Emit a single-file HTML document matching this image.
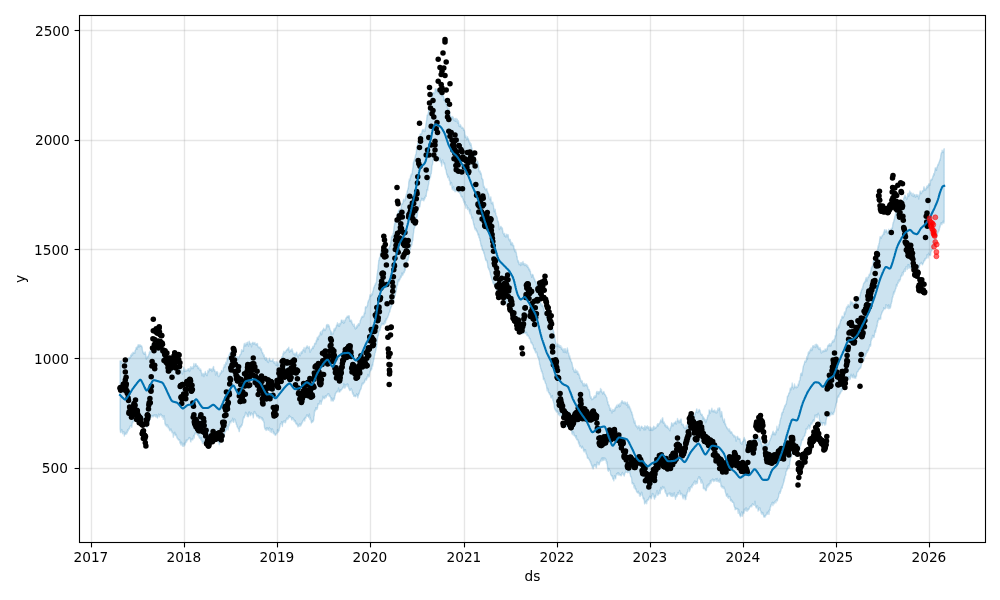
<!DOCTYPE html>
<html lang="en"><head><meta charset="utf-8"><title>Forecast</title>
<style>
html,body{margin:0;padding:0;background:#fff}
svg{display:block}
text{font-family:"DejaVu Sans","Liberation Sans",sans-serif;font-size:13.7px;fill:#000}
</style></head><body>
<svg width="1000" height="600" viewBox="0 0 1000 600">
<rect width="1000" height="600" fill="#fff"/>
<g stroke="#808080" stroke-opacity="0.2" stroke-width="1.39" fill="none"><path d="M91.5 15.5V542.5"/><path d="M184.5 15.5V542.5"/><path d="M277.5 15.5V542.5"/><path d="M370.5 15.5V542.5"/><path d="M464.5 15.5V542.5"/><path d="M557.5 15.5V542.5"/><path d="M650.5 15.5V542.5"/><path d="M743.5 15.5V542.5"/><path d="M836.5 15.5V542.5"/><path d="M929.5 15.5V542.5"/><path d="M79.5 468.5H985.5"/><path d="M79.5 358.5H985.5"/><path d="M79.5 249.5H985.5"/><path d="M79.5 140.5H985.5"/><path d="M79.5 30.5H985.5"/></g>
<path d="M120,360.9 120.3,361.2 120.5,361.3 120.8,360.9 121,360.8 121.3,360.6 121.5,361.4 121.8,363.4 122,362.7 122.3,362.3 122.5,363.2 122.8,364.2 123.1,364 123.3,362.9 123.6,363.3 123.8,364.8 124.1,363 124.3,363.5 124.6,362.4 124.8,362.4 125.1,361 125.4,362.4 125.6,361.9 125.9,363.3 126.1,363.5 126.4,363.3 126.6,360.8 126.9,360.8 127.1,361 127.4,361.1 127.6,359.1 127.9,359.4 128.2,358.3 128.4,357.9 128.7,359.6 128.9,358.2 129.2,357.6 129.4,358.5 129.7,357.4 129.9,357.2 130.2,357.3 130.5,357.7 130.7,355.1 131,355 131.2,356.3 131.5,354 131.7,355 132,354.6 132.2,353.3 132.5,355.1 132.7,354.7 133,352.3 133.3,352.6 133.5,353.1 133.8,352.8 134,353 134.3,352.3 134.5,352.7 134.8,353.4 135,350.8 135.3,350.5 135.6,349.7 135.8,349.4 136.1,347.7 136.3,347.4 136.6,347.4 136.8,347.6 137.1,349.3 137.3,346.9 137.6,345.9 137.8,347.1 138.1,344.7 138.4,344.7 138.6,345.3 138.9,346.7 139.1,346.9 139.4,346.1 139.6,345 139.9,344.7 140.1,346.2 140.4,345.8 140.6,345.1 140.9,345.7 141.2,346.2 141.4,346.6 141.7,345.8 141.9,346.8 142.2,347.4 142.4,350 142.7,351.2 142.9,351.4 143.2,353 143.5,352.3 143.7,353.6 144,353.6 144.2,354.3 144.5,352.8 144.7,354.2 145,352.2 145.2,351.9 145.5,353.9 145.7,354 146,355.9 146.3,359.2 146.5,358 146.8,356.8 147,357.4 147.3,357.8 147.5,357 147.8,356.1 148,357 148.3,356.6 148.6,354.8 148.8,354.4 149.1,354.1 149.3,352.3 149.6,352.7 149.8,351.2 150.1,352.7 150.3,352.3 150.6,351.7 150.8,350.6 151.1,350.4 151.4,347.6 151.6,346.5 151.9,346.6 152.1,344.8 152.4,345.9 152.6,343.8 152.9,344.6 153.1,344 153.4,344.9 153.6,345 153.9,343 154.2,344.8 154.4,346 154.7,345.6 154.9,344.8 155.2,344.7 155.4,343.3 155.7,345.1 155.9,343.9 156.2,344.4 156.5,344 156.7,343.9 157,343.1 157.2,345.2 157.5,344.7 157.7,346.8 158,346.1 158.2,345.3 158.5,344.8 158.7,344.9 159,346.2 159.3,345.9 159.5,345.6 159.8,345 160,344.7 160.3,347.4 160.5,347.1 160.8,346.7 161,347.3 161.3,348.7 161.6,346.7 161.8,347.4 162.1,347.1 162.3,345.3 162.6,347.6 162.8,347.6 163.1,348.4 163.3,348 163.6,349.3 163.8,349.3 164.1,349.9 164.4,350 164.6,349.5 164.9,352.1 165.1,352.6 165.4,353.1 165.6,353.8 165.9,353.8 166.1,353.8 166.4,355.6 166.7,355.8 166.9,356.1 167.2,356.3 167.4,358.5 167.7,359.5 167.9,359.6 168.2,358.6 168.4,358 168.7,360.8 168.9,361.9 169.2,362 169.5,362.8 169.7,364.1 170,365.2 170.2,366.6 170.5,365.7 170.7,367.1 171,365.8 171.2,367.7 171.5,368 171.7,368.9 172,370.6 172.3,370.8 172.5,368.4 172.8,366.6 173,368.5 173.3,367.1 173.5,368 173.8,369 174,367.4 174.3,365.9 174.6,367.4 174.8,367.6 175.1,367.2 175.3,367.4 175.6,366.1 175.8,365 176.1,365.6 176.3,365.3 176.6,364.1 176.8,365.4 177.1,366.1 177.4,367 177.6,366.1 177.9,366 178.1,365.4 178.4,365.9 178.6,367.8 178.9,367.5 179.1,368.8 179.4,369.9 179.7,372.7 179.9,370.2 180.2,371.1 180.4,370.8 180.7,370.7 180.9,369 181.2,369.6 181.4,371.9 181.7,372.2 181.9,372.9 182.2,372.4 182.5,374.1 182.7,373.1 183,370.2 183.2,370.9 183.5,369.3 183.7,367.2 184,368.5 184.2,370.9 184.5,371.4 184.8,370.2 185,369.3 185.3,371.3 185.5,371.3 185.8,370.9 186,370.2 186.3,369.9 186.5,370.7 186.8,371 187,370.9 187.3,370 187.6,370.3 187.8,368.9 188.1,370.5 188.3,368.8 188.6,369 188.8,369.1 189.1,368.4 189.3,371.1 189.6,371.6 189.8,369.6 190.1,370 190.4,370 190.6,366.8 190.9,367.9 191.1,367.9 191.4,368.7 191.6,367.5 191.9,367.3 192.1,366.9 192.4,368.6 192.7,368.6 192.9,368.1 193.2,368.6 193.4,366.5 193.7,365.6 193.9,363.4 194.2,366.2 194.4,366.6 194.7,366.5 194.9,366 195.2,364.9 195.5,364.5 195.7,363.7 196,363.7 196.2,364.6 196.5,366.4 196.7,366.4 197,366.1 197.2,365.7 197.5,365.7 197.8,368 198,368.5 198.3,368.2 198.5,368 198.8,367.1 199,368 199.3,369.4 199.5,369.5 199.8,370.4 200,370.2 200.3,370.6 200.6,368.9 200.8,370.1 201.1,370.1 201.3,372.7 201.6,372.4 201.8,373.2 202.1,375.9 202.3,374.9 202.6,373.8 202.8,374.1 203.1,374.3 203.4,373.4 203.6,374.4 203.9,376.6 204.1,374.9 204.4,374.4 204.6,373.2 204.9,373.9 205.1,372.5 205.4,371.5 205.7,374.1 205.9,373.1 206.2,373.6 206.4,375.2 206.7,375 206.9,374.7 207.2,375.7 207.4,374.1 207.7,372.8 207.9,370.4 208.2,370.9 208.5,371.5 208.7,371.8 209,370.3 209.2,369.2 209.5,368.7 209.7,369 210,369 210.2,369.5 210.5,370.3 210.8,369.1 211,368.8 211.3,369.2 211.5,369.2 211.8,369.7 212,371.6 212.3,370.8 212.5,370.5 212.8,368 213,368.9 213.3,366.9 213.6,366.6 213.8,368.9 214.1,370.2 214.3,371 214.6,369.7 214.8,370.8 215.1,371.2 215.3,371.8 215.6,375.1 215.9,374.5 216.1,373.5 216.4,371.8 216.6,371.9 216.9,371.9 217.1,371.6 217.4,373.3 217.6,372.2 217.9,374.2 218.1,376 218.4,376.5 218.7,376.3 218.9,376.5 219.2,375.8 219.4,375.3 219.7,375.4 219.9,373.4 220.2,372.8 220.4,373.9 220.7,373.6 220.9,373.3 221.2,373.3 221.5,370.4 221.7,370.5 222,371.1 222.2,371.8 222.5,370.9 222.7,371.6 223,371.2 223.2,369 223.5,367.3 223.8,367.8 224,367.2 224.3,364.7 224.5,365.9 224.8,366.8 225,367 225.3,365.1 225.5,364.4 225.8,362.1 226,364.3 226.3,362.7 226.6,363.6 226.8,361.7 227.1,360.5 227.3,358 227.6,358.4 227.8,359.6 228.1,357.5 228.3,358 228.6,357.1 228.9,355.1 229.1,354.8 229.4,354.2 229.6,353.9 229.9,353.7 230.1,352.6 230.4,353.5 230.6,352.4 230.9,351.6 231.1,352 231.4,353.2 231.7,351.5 231.9,351.4 232.2,350.9 232.4,350.4 232.7,352.7 232.9,352 233.2,354.3 233.4,353.4 233.7,354.1 233.9,354 234.2,353.4 234.5,354.7 234.7,354.9 235,356.5 235.2,356.4 235.5,355.5 235.7,356.1 236,357.6 236.2,358.7 236.5,358.4 236.8,358.4 237,356.9 237.3,359.1 237.5,357.9 237.8,356.8 238,357.9 238.3,359.7 238.5,358.4 238.8,357.8 239,357 239.3,356.1 239.6,356.4 239.8,355.1 240.1,354.4 240.3,354.8 240.6,354.2 240.8,354.2 241.1,353.1 241.3,351.7 241.6,349.7 241.9,351.8 242.1,351.4 242.4,350.8 242.6,350.5 242.9,350.2 243.1,349.9 243.4,351.2 243.6,347.6 243.9,345.6 244.1,344.4 244.4,343.4 244.7,345.6 244.9,346 245.2,344.8 245.4,343.9 245.7,344.2 245.9,346.1 246.2,342.8 246.4,344.3 246.7,343.5 247,344.4 247.2,343.7 247.5,343.6 247.7,342.1 248,342.3 248.2,345.5 248.5,346.2 248.7,344.8 249,343.4 249.2,341.3 249.5,342.2 249.8,343.1 250,344.1 250.3,344.1 250.5,343.4 250.8,343.7 251,343.8 251.3,345.6 251.5,346.9 251.8,345.2 252,343.1 252.3,343.4 252.6,342.7 252.8,342.3 253.1,342.9 253.3,342.6 253.6,344.1 253.8,343.8 254.1,344.1 254.3,343.6 254.6,343 254.9,342.4 255.1,343.9 255.4,344 255.6,344.4 255.9,344.9 256.1,343.8 256.4,344.8 256.6,344 256.9,344.3 257.1,345.2 257.4,343.4 257.7,345.4 257.9,346.2 258.2,346.6 258.4,347.5 258.7,347.7 258.9,347.3 259.2,347.3 259.4,347.4 259.7,348.1 260,347 260.2,348.1 260.5,348.8 260.7,349.2 261,348.9 261.2,350.3 261.5,348.8 261.7,350.4 262,351.9 262.2,352.5 262.5,353.1 262.8,352.6 263,353.5 263.3,354.8 263.5,355.7 263.8,356.4 264,354.7 264.3,356 264.5,357.9 264.8,358.9 265.1,359.2 265.3,357.8 265.6,360.3 265.8,360.3 266.1,357.5 266.3,359.3 266.6,358.8 266.8,358.5 267.1,359.6 267.3,361.7 267.6,360.6 267.9,360.5 268.1,362.1 268.4,362.6 268.6,361.4 268.9,360.6 269.1,358.9 269.4,358.2 269.6,359.5 269.9,359.6 270.1,360.1 270.4,361.2 270.7,360.4 270.9,360.5 271.2,360.9 271.4,360.7 271.7,361.3 271.9,361.2 272.2,360.4 272.4,361 272.7,360.2 273,359.1 273.2,361.3 273.5,361.9 273.7,362.9 274,361.6 274.2,362.6 274.5,363.1 274.7,363.2 275,361.8 275.2,363 275.5,364.7 275.8,365.1 276,364.4 276.3,364.6 276.5,365.3 276.8,361.5 277,362 277.3,362.7 277.5,363.7 277.8,365.7 278.1,365.5 278.3,364.7 278.6,363.8 278.8,363.8 279.1,362.1 279.3,361.4 279.6,361.8 279.8,362.4 280.1,361 280.3,359.8 280.6,360 280.9,360.9 281.1,359.9 281.4,360.1 281.6,357.7 281.9,356.9 282.1,356.5 282.4,356.6 282.6,357.3 282.9,354.2 283.1,353.1 283.4,354.2 283.7,353.3 283.9,351.3 284.2,352.6 284.4,353 284.7,352.5 284.9,351.9 285.2,352.6 285.4,351.7 285.7,352.1 286,350.6 286.2,350.2 286.5,350.4 286.7,349.8 287,349.8 287.2,349.9 287.5,348.7 287.7,348.8 288,348.7 288.2,349.8 288.5,348.1 288.8,347.2 289,349.1 289.3,351.3 289.5,352.4 289.8,350.5 290,350.4 290.3,351.5 290.5,350.4 290.8,349.9 291.1,350.4 291.3,351 291.6,350.6 291.8,349 292.1,348.8 292.3,350.9 292.6,350.5 292.8,351.5 293.1,352.5 293.3,353.9 293.6,353.7 293.9,354.6 294.1,354.2 294.4,354 294.6,353.1 294.9,355.5 295.1,356 295.4,354.4 295.6,353.7 295.9,353.4 296.2,354.8 296.4,352.4 296.7,352.2 296.9,352.6 297.2,355.7 297.4,356.1 297.7,355 297.9,355 298.2,357.2 298.4,355.9 298.7,354.5 299,355.1 299.2,354.6 299.5,354.9 299.7,353.3 300,355.3 300.2,355.8 300.5,354.8 300.7,354.6 301,352 301.2,352.4 301.5,351.6 301.8,352.7 302,353.3 302.3,352.4 302.5,350.3 302.8,351.4 303,350.4 303.3,349.9 303.5,349.3 303.8,349.4 304.1,347.5 304.3,350.1 304.6,350.2 304.8,350.7 305.1,352.2 305.3,351.1 305.6,348.4 305.8,347.7 306.1,347.3 306.3,347 306.6,348 306.9,346 307.1,347.1 307.4,345.9 307.6,347.2 307.9,347.7 308.1,347.3 308.4,348 308.6,348.1 308.9,347.6 309.2,346.4 309.4,347.4 309.7,350.6 309.9,352.2 310.2,352.3 310.4,351.6 310.7,350 310.9,350.7 311.2,349.7 311.4,349.1 311.7,348.8 312,348.8 312.2,348.1 312.5,348 312.7,346.9 313,346.2 313.2,348.6 313.5,347.3 313.7,346 314,346.3 314.3,346.2 314.5,343.8 314.8,343.2 315,343.8 315.3,343.3 315.5,342.6 315.8,343.9 316,341.6 316.3,340.8 316.5,339.8 316.8,341.1 317.1,337.7 317.3,337.3 317.6,337.9 317.8,338.6 318.1,338.7 318.3,339.6 318.6,336.1 318.8,336.5 319.1,335.9 319.3,335 319.6,335.9 319.9,334.9 320.1,332.7 320.4,333.2 320.6,331.9 320.9,331.8 321.1,332.9 321.4,333.3 321.6,334.8 321.9,333.7 322.2,330.7 322.4,330.4 322.7,330.5 322.9,329.8 323.2,330.7 323.4,329.9 323.7,328.1 323.9,328.9 324.2,329.2 324.4,329.5 324.7,329.5 325,330.5 325.2,329.4 325.5,329.9 325.7,329.1 326,328.1 326.2,327.5 326.5,325.1 326.7,325 327,324.5 327.3,325.4 327.5,324.4 327.8,326.9 328,327 328.3,325.5 328.5,324.6 328.8,325.4 329,326 329.3,325.9 329.5,327.8 329.8,328.3 330.1,329.8 330.3,330.2 330.6,330.4 330.8,332 331.1,334.6 331.3,332.1 331.6,332.3 331.8,331.6 332.1,333.8 332.3,333.3 332.6,333.7 332.9,334.1 333.1,333 333.4,332.9 333.6,332.2 333.9,329.6 334.1,328.8 334.4,329.1 334.6,330.1 334.9,330.5 335.2,328 335.4,327.8 335.7,328.4 335.9,328 336.2,326.8 336.4,325.3 336.7,325.5 336.9,324.9 337.2,323.7 337.4,322.8 337.7,325.4 338,325 338.2,326.2 338.5,324.5 338.7,324.9 339,323.8 339.2,323.6 339.5,326.4 339.7,325.4 340,324.1 340.3,323.3 340.5,323.1 340.8,323.9 341,322.2 341.3,320.1 341.5,320 341.8,320.3 342,320.6 342.3,322.2 342.5,322.1 342.8,322.3 343.1,320.2 343.3,321.1 343.6,323.4 343.8,323.4 344.1,322.2 344.3,321.3 344.6,322.4 344.8,320.4 345.1,319.7 345.4,319.9 345.6,319.8 345.9,318 346.1,318.2 346.4,317.4 346.6,317.5 346.9,317.3 347.1,316.1 347.4,316.7 347.6,317.4 347.9,316.3 348.2,316 348.4,317.8 348.7,315.6 348.9,316.4 349.2,315.8 349.4,318 349.7,320.2 349.9,321.3 350.2,320.1 350.4,320.7 350.7,320.4 351,320.4 351.2,321.9 351.5,320.3 351.7,321.8 352,322.1 352.2,323.8 352.5,324.1 352.7,323.7 353,324.4 353.3,325.5 353.5,326.1 353.8,326.2 354,325.9 354.3,324.1 354.5,326.6 354.8,327.3 355,328.5 355.3,328.4 355.5,329.1 355.8,327.6 356.1,327.1 356.3,327 356.6,328.3 356.8,325.6 357.1,327.3 357.3,326.2 357.6,324.7 357.8,326.3 358.1,325.5 358.4,323.8 358.6,323.6 358.9,325 359.1,325.5 359.4,324.2 359.6,323.6 359.9,322.7 360.1,320.9 360.4,320.4 360.6,320.1 360.9,319 361.2,318.1 361.4,317.6 361.7,317.7 361.9,316.6 362.2,316.4 362.4,317.3 362.7,316.2 362.9,316.1 363.2,316.9 363.4,316.1 363.7,316.9 364,313.9 364.2,313.4 364.5,311.9 364.7,313.1 365,313.6 365.2,308.5 365.5,306.8 365.7,306.7 366,307.1 366.3,307.7 366.5,307.3 366.8,306.7 367,306.5 367.3,305.4 367.5,305.6 367.8,302.2 368,302.4 368.3,300.6 368.5,301.2 368.8,300 369.1,299.4 369.3,299.4 369.6,297.4 369.8,296.1 370.1,294.6 370.3,295.2 370.6,296.1 370.8,296.3 371.1,294.9 371.4,295.3 371.6,294.8 371.9,293.5 372.1,293.8 372.4,294.8 372.6,292.6 372.9,291.1 373.1,290.9 373.4,289.8 373.6,287.6 373.9,288.2 374.2,286.6 374.4,286.9 374.7,285.1 374.9,285.2 375.2,285.1 375.4,283.4 375.7,284.4 375.9,282.8 376.2,282.9 376.5,281.4 376.7,278 377,275.2 377.2,274.1 377.5,272.2 377.7,270.6 378,268.5 378.2,265.4 378.5,264.1 378.7,260.3 379,260.6 379.3,259 379.5,257.7 379.8,257.3 380,257.5 380.3,255.4 380.5,253.3 380.8,252.1 381,250.3 381.3,250 381.5,252.4 381.8,250.7 382.1,251.9 382.3,250.3 382.6,251 382.8,250.6 383.1,250.9 383.3,251.7 383.6,253.4 383.8,253.2 384.1,252.5 384.4,251.2 384.6,252 384.9,251.9 385.1,252.8 385.4,252.1 385.6,254 385.9,250.5 386.1,250.7 386.4,251.6 386.6,251 386.9,250 387.2,250 387.4,248.5 387.7,249.6 387.9,252.6 388.2,252.7 388.4,250.2 388.7,248.2 388.9,247.7 389.2,248.5 389.5,246.7 389.7,245.5 390,246.3 390.2,246.3 390.5,244.8 390.7,242.8 391,240.4 391.2,238.9 391.5,236.2 391.7,237.4 392,236 392.3,236.3 392.5,237.3 392.8,236.8 393,233.6 393.3,233.1 393.5,232.7 393.8,229.7 394,226.9 394.3,226.1 394.6,223.1 394.8,224.8 395.1,221.6 395.3,220.2 395.6,220 395.8,219.3 396.1,219.2 396.3,218.9 396.6,217.8 396.8,218.3 397.1,214.5 397.4,214.2 397.6,213.4 397.9,213.4 398.1,213.5 398.4,211.6 398.6,210.4 398.9,210.9 399.1,210.4 399.4,209.3 399.6,211.1 399.9,212.4 400.2,209.2 400.4,208.6 400.7,210 400.9,209.1 401.2,207.2 401.4,205.4 401.7,204.1 401.9,203.8 402.2,203.2 402.5,204.2 402.7,203.2 403,202.2 403.2,200.7 403.5,200.5 403.7,199.2 404,199.5 404.2,200.9 404.5,200.6 404.7,200.8 405,200.4 405.3,199 405.5,198 405.8,195.9 406,196.3 406.3,193.9 406.5,195 406.8,194.3 407,192.2 407.3,191.3 407.6,189.8 407.8,189.5 408.1,187.9 408.3,188.4 408.6,185.5 408.8,181.8 409.1,181.1 409.3,179 409.6,179.4 409.8,180.3 410.1,180.3 410.4,177 410.6,175.3 410.9,176.9 411.1,175.7 411.4,173.8 411.6,174 411.9,174.7 412.1,173.4 412.4,171.1 412.6,169.6 412.9,167.6 413.2,164.8 413.4,162.5 413.7,162.2 413.9,160.8 414.2,160.3 414.4,159 414.7,160.5 414.9,158.1 415.2,156.7 415.5,155.3 415.7,154.5 416,154.4 416.2,152.8 416.5,150.4 416.7,147.5 417,146.5 417.2,146.4 417.5,145.6 417.7,144 418,142.5 418.3,142.1 418.5,141.9 418.8,139.9 419,138.7 419.3,136.8 419.5,135.8 419.8,137.7 420,134.4 420.3,134 420.6,134.2 420.8,134.8 421.1,133.7 421.3,133.7 421.6,133.7 421.8,133.2 422.1,130.6 422.3,130.9 422.6,129.8 422.8,129.6 423.1,130.5 423.4,130.5 423.6,131 423.9,129.5 424.1,130.3 424.4,131.3 424.6,131.5 424.9,131.4 425.1,129.4 425.4,127.5 425.7,127 425.9,123.8 426.2,123.3 426.4,121.4 426.7,120 426.9,116.9 427.2,115.2 427.4,114.8 427.7,115 427.9,114.7 428.2,113.1 428.5,112.1 428.7,110.1 429,110.1 429.2,109.1 429.5,109 429.7,110.3 430,108.3 430.2,105.2 430.5,102.7 430.7,100.1 431,98.4 431.3,99.9 431.5,99.1 431.8,96.6 432,95.8 432.3,96.1 432.5,94.7 432.8,93.1 433,92.6 433.3,92.9 433.6,92.5 433.8,93 434.1,93.6 434.3,93.8 434.6,93.7 434.8,92.7 435.1,89.5 435.3,88.7 435.6,88.9 435.8,88.8 436.1,90.3 436.4,90.1 436.6,89.5 436.9,91.7 437.1,92.2 437.4,91.5 437.6,92.5 437.9,92.9 438.1,92.9 438.4,90.3 438.7,90.5 438.9,89.8 439.2,89.7 439.4,90.4 439.7,92.2 439.9,91.3 440.2,90.8 440.4,93.9 440.7,92.6 440.9,91.6 441.2,92.8 441.5,94 441.7,94 442,96 442.2,95.2 442.5,94 442.7,95 443,95.4 443.2,94.8 443.5,96.2 443.8,97.2 444,100.3 444.3,99 444.5,99.5 444.8,99 445,99 445.3,100.9 445.5,101.6 445.8,103.4 446,104.1 446.3,103.9 446.6,103.9 446.8,104.7 447.1,105.7 447.3,107.8 447.6,108.1 447.8,109.2 448.1,110.5 448.3,109.7 448.6,108.2 448.8,108.3 449.1,107.9 449.4,111.5 449.6,111.5 449.9,113.5 450.1,114.4 450.4,116.6 450.6,117.6 450.9,117.4 451.1,117.3 451.4,117 451.7,117.1 451.9,116.7 452.2,117 452.4,118.8 452.7,116.5 452.9,117.8 453.2,117.3 453.4,118.6 453.7,119.9 453.9,119.4 454.2,120.5 454.5,118.8 454.7,120.7 455,120.3 455.2,121 455.5,121.3 455.7,118.7 456,118.3 456.2,119.4 456.5,121.6 456.8,121.7 457,121.5 457.3,119.3 457.5,121.2 457.8,123.2 458,123.1 458.3,122.6 458.5,120.8 458.8,122.3 459,126.1 459.3,125.5 459.6,126.5 459.8,125.9 460.1,124.5 460.3,126.7 460.6,125 460.8,125.5 461.1,126.4 461.3,127.2 461.6,127.9 461.8,128.3 462.1,127.6 462.4,127.2 462.6,128.3 462.9,128.6 463.1,128.5 463.4,128.2 463.6,130.3 463.9,129.5 464.1,130.2 464.4,130.3 464.7,132.5 464.9,134 465.2,137.6 465.4,135.7 465.7,135.4 465.9,137.5 466.2,137.8 466.4,137.3 466.7,139.7 466.9,138.9 467.2,137.3 467.5,136.7 467.7,138.2 468,139.3 468.2,138.4 468.5,138.8 468.7,140.7 469,142.1 469.2,141.4 469.5,142.6 469.8,144.2 470,142.3 470.3,143.4 470.5,145.3 470.8,144.7 471,143.7 471.3,145.5 471.5,147.6 471.8,150.2 472,148 472.3,152 472.6,150.5 472.8,152.5 473.1,154.4 473.3,156.4 473.6,156.7 473.8,155.5 474.1,156.9 474.3,156.8 474.6,154.4 474.9,158.9 475.1,159.9 475.4,161.9 475.6,161.1 475.9,163.3 476.1,164.3 476.4,165 476.6,164 476.9,161.9 477.1,162.8 477.4,161 477.7,161.1 477.9,163.2 478.2,163.4 478.4,165 478.7,165.9 478.9,169.5 479.2,171.6 479.4,171.5 479.7,171.9 479.9,170.8 480.2,171.4 480.5,174 480.7,172.4 481,173.6 481.2,173.6 481.5,175.5 481.7,178.7 482,177.9 482.2,178.7 482.5,179.2 482.8,179.4 483,179.8 483.3,183.5 483.5,186.9 483.8,187.2 484,186 484.3,187.3 484.5,187.1 484.8,188.3 485,189.1 485.3,189.4 485.6,189.9 485.8,189 486.1,189.6 486.3,188.9 486.6,189.6 486.8,188.7 487.1,191 487.3,190.9 487.6,192 487.9,193.6 488.1,193.2 488.4,193.7 488.6,194.1 488.9,195.4 489.1,197.8 489.4,198.9 489.6,198.3 489.9,199.7 490.1,197.2 490.4,199.6 490.7,199.1 490.9,197 491.2,201.6 491.4,203.6 491.7,202.2 491.9,203.2 492.2,203.4 492.4,203.9 492.7,202.1 492.9,202.3 493.2,204.6 493.5,205.8 493.7,208.1 494,208.7 494.2,211.8 494.5,210.3 494.7,210.6 495,209.1 495.2,209.6 495.5,213.2 495.8,213 496,214.9 496.3,215.8 496.5,215.9 496.8,216.8 497,217 497.3,217.9 497.5,219.9 497.8,221.9 498,221.8 498.3,221.4 498.6,223.2 498.8,223.9 499.1,226.5 499.3,229.6 499.6,229.3 499.8,228.1 500.1,228.2 500.3,227.7 500.6,226.7 500.9,226.3 501.1,226.9 501.4,227.1 501.6,228.8 501.9,228.9 502.1,228.4 502.4,228 502.6,230.8 502.9,231.1 503.1,233.3 503.4,233.5 503.7,234.2 503.9,233.6 504.2,233.4 504.4,236.2 504.7,233.4 504.9,234.8 505.2,236.1 505.4,235.6 505.7,236.1 506,237.2 506.2,235.7 506.5,235.4 506.7,234.2 507,234.3 507.2,234.9 507.5,235.1 507.7,235.9 508,237.1 508.2,234.7 508.5,238.2 508.8,239.5 509,240.1 509.3,239.1 509.5,239.5 509.8,240.7 510,241.4 510.3,239.4 510.5,241.6 510.8,244.8 511,241.8 511.3,243.2 511.6,243.5 511.8,243.6 512.1,245.2 512.3,242.7 512.6,243.3 512.8,245.8 513.1,245.5 513.3,245.2 513.6,245.3 513.9,246.6 514.1,249.3 514.4,248.6 514.6,250.9 514.9,249.9 515.1,251.9 515.4,251.7 515.6,249.9 515.9,251.8 516.1,252 516.4,253.4 516.7,256.7 516.9,255.9 517.2,256.7 517.4,259.8 517.7,260.1 517.9,262 518.2,261.4 518.4,260.6 518.7,261.8 519,263.8 519.2,264.6 519.5,264.3 519.7,263.9 520,263.9 520.2,263 520.5,265.5 520.7,264.6 521,262.8 521.2,262.5 521.5,263.6 521.8,264.9 522,264.8 522.3,263.5 522.5,263.9 522.8,261.9 523,261.4 523.3,263.9 523.5,262.9 523.8,263.6 524.1,265 524.3,264.4 524.6,263.7 524.8,265.6 525.1,265.3 525.3,263.9 525.6,265 525.8,265.4 526.1,264.5 526.3,265.5 526.6,266.2 526.9,264.8 527.1,265.6 527.4,266.9 527.6,267.5 527.9,266 528.1,266.9 528.4,267.6 528.6,268.9 528.9,268.2 529.1,270.1 529.4,269.1 529.7,269.1 529.9,271.5 530.2,271 530.4,270.9 530.7,274.5 530.9,274.5 531.2,274.4 531.4,275.4 531.7,277.4 532,274.5 532.2,274.3 532.5,274.7 532.7,274.7 533,274.9 533.2,275.3 533.5,277.4 533.7,277.2 534,278.7 534.2,279.3 534.5,278.7 534.8,279.6 535,281.7 535.3,281.8 535.5,281.1 535.8,281.6 536,281.4 536.3,283 536.5,285.2 536.8,284.8 537.1,285 537.3,287.9 537.6,288.3 537.8,288.7 538.1,288.4 538.3,288.9 538.6,290 538.8,294.2 539.1,294.1 539.3,294.2 539.6,295 539.9,296.2 540.1,298.1 540.4,299.1 540.6,303 540.9,303.4 541.1,305.3 541.4,305.5 541.6,306 541.9,304 542.1,305 542.4,305.9 542.7,306.5 542.9,304.6 543.2,307.6 543.4,308.1 543.7,308.3 543.9,308.9 544.2,310.5 544.4,311.7 544.7,311.5 545,311.3 545.2,312.5 545.5,313.9 545.7,314.4 546,314.3 546.2,314.4 546.5,315.3 546.7,317.6 547,316.1 547.2,318.6 547.5,319.6 547.8,319.1 548,320.7 548.3,319.2 548.5,318.3 548.8,318.3 549,318.9 549.3,319.4 549.5,320.3 549.8,321.6 550.1,319.8 550.3,322 550.6,320.9 550.8,322.2 551.1,322.8 551.3,323.7 551.6,323.9 551.8,323.7 552.1,325.7 552.3,327.8 552.6,329.2 552.9,329.4 553.1,329.6 553.4,330.8 553.6,333 553.9,331.8 554.1,335.1 554.4,335.1 554.6,335.8 554.9,337.4 555.2,339.6 555.4,341 555.7,343.3 555.9,342.9 556.2,344.5 556.4,345.6 556.7,345.3 556.9,346.7 557.2,345.9 557.4,345.8 557.7,344 558,344.1 558.2,346 558.5,344.6 558.7,346 559,346.8 559.2,347.3 559.5,345.1 559.7,345.4 560,347 560.2,346.9 560.5,347.5 560.8,345.8 561,347.8 561.3,347.6 561.5,349.3 561.8,347.2 562,348.8 562.3,349 562.5,350.2 562.8,349.4 563.1,348.9 563.3,352.2 563.6,350.8 563.8,349.5 564.1,349.6 564.3,348.8 564.6,350.9 564.8,352.5 565.1,351.2 565.3,348.8 565.6,350.6 565.9,351.8 566.1,352.3 566.4,352.9 566.6,350.6 566.9,350.9 567.1,349.1 567.4,348 567.6,350.2 567.9,350 568.2,353.3 568.4,353.5 568.7,352.9 568.9,354.4 569.2,356.8 569.4,356.8 569.7,355.7 569.9,356.9 570.2,359.6 570.4,359 570.7,359.1 571,361.3 571.2,361.7 571.5,361.6 571.7,362.6 572,362.6 572.2,364.1 572.5,365.7 572.7,368 573,369.4 573.3,367.5 573.5,369.3 573.8,370.7 574,371.1 574.3,372.1 574.5,371.3 574.8,370.5 575,372.5 575.3,371 575.5,369.1 575.8,372.3 576.1,371.7 576.3,372 576.6,371.2 576.8,370.8 577.1,371.1 577.3,372.3 577.6,374.3 577.8,371.7 578.1,373.9 578.3,373.3 578.6,373.4 578.9,375.3 579.1,375.6 579.4,374.9 579.6,378.2 579.9,376.7 580.1,377.7 580.4,378.9 580.6,380.9 580.9,380.4 581.2,381.7 581.4,380.4 581.7,382.2 581.9,381.3 582.2,380.8 582.4,383.3 582.7,383.2 582.9,383.2 583.2,386 583.4,385.2 583.7,383.6 584,384.1 584.2,383.3 584.5,384.8 584.7,386.1 585,385.1 585.2,384.2 585.5,385.1 585.7,385.3 586,384.1 586.3,385.8 586.5,383.8 586.8,384.4 587,385.2 587.3,385.7 587.5,387 587.8,386.7 588,388.9 588.3,389.5 588.5,389.5 588.8,389.2 589.1,389.6 589.3,391 589.6,391.4 589.8,392.8 590.1,395.1 590.3,396.7 590.6,398 590.8,397.8 591.1,396.7 591.3,398.3 591.6,398.5 591.9,399.9 592.1,398.8 592.4,399.4 592.6,399.3 592.9,399.3 593.1,398.9 593.4,398.2 593.6,397.7 593.9,396.6 594.2,397.6 594.4,395.9 594.7,397.8 594.9,396.7 595.2,397.1 595.4,395.7 595.7,395.4 595.9,397.1 596.2,395.1 596.4,392.7 596.7,391.9 597,391.4 597.2,393.8 597.5,393 597.7,392.9 598,391.6 598.2,391.6 598.5,392.1 598.7,394 599,392.4 599.3,392.8 599.5,392.3 599.8,391.1 600,391.4 600.3,391.6 600.5,388.5 600.8,390.6 601,391.5 601.3,391.1 601.5,389.5 601.8,392.4 602.1,392 602.3,392.7 602.6,394 602.8,392.5 603.1,393.2 603.3,392.3 603.6,392 603.8,391.5 604.1,392.4 604.4,394 604.6,394 604.9,394.1 605.1,394.4 605.4,395.5 605.6,395.3 605.9,396.1 606.1,396.6 606.4,396.9 606.6,397.5 606.9,397.6 607.2,400.2 607.4,401.5 607.7,402.1 607.9,401.7 608.2,404.6 608.4,405 608.7,404.5 608.9,404.9 609.2,405.6 609.4,407.8 609.7,407.9 610,410.3 610.2,409.4 610.5,409.4 610.7,408.1 611,410.9 611.2,410.5 611.5,410.7 611.7,411.9 612,413.1 612.3,411.2 612.5,411 612.8,409.4 613,410.3 613.3,411 613.5,411.3 613.8,410.5 614,409.8 614.3,409.2 614.5,409.5 614.8,410.8 615.1,407.9 615.3,408 615.6,407.3 615.8,407.8 616.1,406.5 616.3,406.6 616.6,405.3 616.8,407.3 617.1,407.1 617.4,406.7 617.6,407 617.9,406.1 618.1,404.2 618.4,405.1 618.6,405.1 618.9,405 619.1,405.8 619.4,406.9 619.6,404.6 619.9,403.5 620.2,405.7 620.4,406.2 620.7,404.8 620.9,402.9 621.2,402.4 621.4,402.1 621.7,401 621.9,402.6 622.2,401.2 622.4,400.8 622.7,403 623,402 623.2,402.1 623.5,403.3 623.7,403.5 624,402.3 624.2,403.1 624.5,401.9 624.7,403.8 625,403.9 625.3,402.1 625.5,402.4 625.8,403.2 626,403.3 626.3,405 626.5,405.2 626.8,404 627,403.3 627.3,402.2 627.5,403.4 627.8,404.4 628.1,407.7 628.3,406.7 628.6,404.6 628.8,405.3 629.1,406.3 629.3,406.4 629.6,406.7 629.8,407.3 630.1,409.1 630.4,409.9 630.6,408.7 630.9,410.8 631.1,411.5 631.4,412.2 631.6,411.6 631.9,412.2 632.1,414.9 632.4,413.8 632.6,415 632.9,417.2 633.2,417.8 633.4,419.1 633.7,418.6 633.9,421 634.2,422.7 634.4,422.9 634.7,421 634.9,420.8 635.2,422.5 635.5,425.1 635.7,424.8 636,426.1 636.2,425.7 636.5,426.1 636.7,426.7 637,427.4 637.2,426.1 637.5,427.6 637.7,428.9 638,427.8 638.3,426.4 638.5,427.3 638.8,427.4 639,425.4 639.3,427.3 639.5,428.1 639.8,427.6 640,430.5 640.3,430.1 640.5,428.1 640.8,428.1 641.1,426.8 641.3,426.1 641.6,426.9 641.8,426.5 642.1,426.6 642.3,428.2 642.6,428.2 642.8,428.2 643.1,427.6 643.4,427.7 643.6,428.9 643.9,428.7 644.1,430.1 644.4,427.3 644.6,427.5 644.9,425.7 645.1,426.1 645.4,427.4 645.6,429.8 645.9,428 646.2,427.8 646.4,427.1 646.7,426.6 646.9,426.3 647.2,427 647.4,425.8 647.7,427.5 647.9,428.2 648.2,427.6 648.5,427 648.7,426.8 649,429.9 649.2,428.1 649.5,430.4 649.7,430.5 650,428.8 650.2,426.9 650.5,428.6 650.7,430.3 651,428.4 651.3,428.1 651.5,429.4 651.8,428.9 652,430.5 652.3,429.1 652.5,429.5 652.8,427.6 653,430.1 653.3,428.7 653.6,426.3 653.8,426.5 654.1,426.7 654.3,429 654.6,428.5 654.8,427.7 655.1,427.3 655.3,428.5 655.6,427.3 655.8,427.9 656.1,427.9 656.4,427.5 656.6,426.9 656.9,426.5 657.1,424.7 657.4,425.9 657.6,423.8 657.9,424.8 658.1,426 658.4,424.8 658.6,423.8 658.9,423.7 659.2,423.9 659.4,423.8 659.7,422.8 659.9,422.9 660.2,421.6 660.4,421.6 660.7,420 660.9,420.6 661.2,420.8 661.5,420.2 661.7,421.8 662,422.1 662.2,418.2 662.5,419.2 662.7,417.8 663,419.8 663.2,423.2 663.5,422.5 663.7,422.3 664,421.8 664.3,423 664.5,424 664.8,425.9 665,423.7 665.3,425.5 665.5,424.6 665.8,425.1 666,426.8 666.3,427.4 666.6,426.4 666.8,426 667.1,425.7 667.3,426.4 667.6,428.1 667.8,426.6 668.1,427.5 668.3,428 668.6,428.8 668.8,428.6 669.1,429.5 669.4,429.9 669.6,429.8 669.9,429.7 670.1,430.8 670.4,427 670.6,428.2 670.9,426.6 671.1,425.9 671.4,424.7 671.6,422.8 671.9,423.2 672.2,423.7 672.4,425.2 672.7,424 672.9,426.1 673.2,425.6 673.4,424.8 673.7,423.7 673.9,423.2 674.2,422.7 674.5,422.6 674.7,423.6 675,423.6 675.2,421.9 675.5,422.2 675.7,421.3 676,421.9 676.2,424.1 676.5,423.6 676.7,423.2 677,421.1 677.3,420.2 677.5,418.4 677.8,420.8 678,420.6 678.3,421.1 678.5,420.5 678.8,421.1 679,423 679.3,421.8 679.6,421.2 679.8,420.3 680.1,422.2 680.3,420.8 680.6,420.1 680.8,419.4 681.1,419 681.3,420.6 681.6,424.6 681.8,423.4 682.1,424.7 682.4,424.9 682.6,424.1 682.9,424.8 683.1,424.7 683.4,424.5 683.6,427.6 683.9,425.9 684.1,427.4 684.4,427.9 684.7,427.4 684.9,428 685.2,428.7 685.4,428.4 685.7,427.1 685.9,427.6 686.2,425.2 686.4,426.4 686.7,428.4 686.9,427.7 687.2,427.7 687.5,424.9 687.7,424.1 688,422.8 688.2,422.2 688.5,423 688.7,421.5 689,421.1 689.2,419.1 689.5,419.8 689.7,419.2 690,418 690.3,417.1 690.5,418.8 690.8,416.9 691,416.1 691.3,415.2 691.5,416.6 691.8,418.5 692,418.3 692.3,416.5 692.6,415.1 692.8,416.7 693.1,415.2 693.3,416.3 693.6,416.8 693.8,415.3 694.1,415.4 694.3,415.6 694.6,416.2 694.8,413.7 695.1,414.6 695.4,413.3 695.6,412 695.9,411.9 696.1,412.3 696.4,411 696.6,409 696.9,408.9 697.1,411.4 697.4,412.6 697.7,412.2 697.9,412.9 698.2,411 698.4,410.7 698.7,411.1 698.9,409.9 699.2,409.4 699.4,409.9 699.7,410.4 699.9,410.4 700.2,412.3 700.5,412.9 700.7,414.4 701,414.1 701.2,414.4 701.5,415.2 701.7,414.6 702,414.2 702.2,414.7 702.5,416.3 702.8,417.3 703,419.4 703.3,416.7 703.5,417.3 703.8,417.6 704,418.3 704.3,418.6 704.5,419.2 704.8,420.4 705,421.1 705.3,419.5 705.6,421.3 705.8,422.7 706.1,420.8 706.3,421.2 706.6,419.1 706.8,420 707.1,418.7 707.3,417.7 707.6,416.7 707.8,415.3 708.1,415.9 708.4,415.5 708.6,415.5 708.9,414 709.1,409.9 709.4,411.2 709.6,410.1 709.9,411.2 710.1,413 710.4,413.1 710.7,411.7 710.9,411 711.2,411 711.4,409.9 711.7,409.5 711.9,408.1 712.2,410.3 712.4,410.9 712.7,411.7 712.9,411.1 713.2,410.9 713.5,410.6 713.7,411 714,412 714.2,411.9 714.5,410.5 714.7,410 715,412 715.2,411.5 715.5,411.3 715.8,412.5 716,413.1 716.3,412.6 716.5,410.9 716.8,412.9 717,412.4 717.3,412 717.5,411 717.8,408.9 718,408.2 718.3,410 718.6,409.9 718.8,409.5 719.1,408.4 719.3,407.7 719.6,408.6 719.8,408.2 720.1,410.8 720.3,413 720.6,416.4 720.8,416.9 721.1,415.5 721.4,414.4 721.6,411.4 721.9,412.7 722.1,414.6 722.4,416.9 722.6,418.6 722.9,419.7 723.1,420.3 723.4,420.8 723.7,422.5 723.9,420.8 724.2,420.5 724.4,419 724.7,422.2 724.9,424 725.2,424.8 725.4,423.5 725.7,424.6 725.9,425.5 726.2,426.6 726.5,426.8 726.7,427.5 727,427.2 727.2,428.7 727.5,428.6 727.7,428.5 728,428.8 728.2,429 728.5,430.7 728.8,430.7 729,430.7 729.3,430.4 729.5,428.9 729.8,431 730,430.6 730.3,432 730.5,433.1 730.8,431.5 731,431.6 731.3,432.2 731.6,432.4 731.8,432 732.1,433.5 732.3,433.5 732.6,434.3 732.8,434.2 733.1,435.3 733.3,434.8 733.6,435.2 733.9,436.9 734.1,436.9 734.4,436.5 734.6,435.4 734.9,436.1 735.1,436.8 735.4,436.9 735.6,436.5 735.9,438.6 736.1,441.2 736.4,439.8 736.7,439.3 736.9,439.2 737.2,436.4 737.4,436.8 737.7,436.5 737.9,438.8 738.2,438.5 738.4,438.2 738.7,438.1 738.9,439.4 739.2,439 739.5,439.1 739.7,438.4 740,439.2 740.2,440.4 740.5,443 740.7,442.8 741,442.5 741.2,443.4 741.5,443.4 741.8,444.4 742,444.2 742.3,442 742.5,441.6 742.8,441.3 743,441.5 743.3,441.5 743.5,440.4 743.8,438.7 744,438.9 744.3,437.5 744.6,439.1 744.8,440.1 745.1,439.3 745.3,440.5 745.6,442 745.8,442.6 746.1,443.8 746.3,445.3 746.6,443.3 746.9,444.1 747.1,444.4 747.4,444.5 747.6,444.7 747.9,443.8 748.1,442.9 748.4,442.3 748.6,442.3 748.9,443.3 749.1,442 749.4,441.6 749.7,443.1 749.9,443.2 750.2,443.4 750.4,441.3 750.7,440.7 750.9,440.2 751.2,440.5 751.4,439.8 751.7,441.3 751.9,440.9 752.2,440.4 752.5,440.4 752.7,440.7 753,439 753.2,439.9 753.5,439.2 753.7,438.3 754,437.9 754.2,437.6 754.5,438.1 754.8,438 755,437.8 755.3,437.9 755.5,437.4 755.8,438.8 756,438.2 756.3,435.4 756.5,438 756.8,438 757,436.4 757.3,436.6 757.6,436.6 757.8,439.1 758.1,439.1 758.3,437.3 758.6,438.2 758.8,438.2 759.1,441 759.3,439.8 759.6,438.2 759.9,439.7 760.1,440.2 760.4,440.9 760.6,439.4 760.9,441.2 761.1,444 761.4,442.3 761.6,444.4 761.9,444 762.1,446.7 762.4,446.4 762.7,445.7 762.9,446.6 763.2,446.6 763.4,445.6 763.7,446.6 763.9,445.3 764.2,444.4 764.4,447.5 764.7,446.8 765,446.3 765.2,446.4 765.5,443.9 765.7,442.8 766,442.1 766.2,442.1 766.5,443.5 766.7,445.1 767,444.7 767.2,445.5 767.5,445.9 767.8,443.4 768,443.8 768.3,442.8 768.5,444.7 768.8,444.3 769,443.4 769.3,441.2 769.5,441.3 769.8,440.1 770,440.9 770.3,440 770.6,438.1 770.8,438.2 771.1,437.7 771.3,435.4 771.6,436.4 771.8,435.1 772.1,434.1 772.3,434.3 772.6,433 772.9,431.8 773.1,431.2 773.4,433.1 773.6,434.2 773.9,433.1 774.1,434.9 774.4,433.7 774.6,433.1 774.9,432.8 775.1,432.7 775.4,434.8 775.7,433.5 775.9,431 776.2,432.6 776.4,431.5 776.7,430.1 776.9,426.3 777.2,428.6 777.4,429.3 777.7,429.5 778,429.5 778.2,430.1 778.5,428.3 778.7,428 779,425.4 779.2,424.3 779.5,424.8 779.7,423.4 780,420.6 780.2,420.6 780.5,419.2 780.8,417.7 781,418.2 781.3,417.2 781.5,414.4 781.8,413 782,414.9 782.3,412.3 782.5,412.1 782.8,411.7 783.1,412.4 783.3,409.9 783.6,409 783.8,408.6 784.1,409.2 784.3,407.5 784.6,405.8 784.8,406.9 785.1,406.4 785.3,405.9 785.6,404.2 785.9,404.7 786.1,404 786.4,403.5 786.6,400.9 786.9,400.2 787.1,398.8 787.4,396.2 787.6,396.3 787.9,396.3 788.1,395.5 788.4,395.3 788.7,393.6 788.9,393.1 789.2,393.4 789.4,392.1 789.7,392.7 789.9,390.2 790.2,388.2 790.4,388.6 790.7,388.3 791,389.9 791.2,388.2 791.5,386.9 791.7,387.3 792,385.3 792.2,383 792.5,386.5 792.7,387 793,387.2 793.2,387.3 793.5,389.1 793.8,388.1 794,388.2 794.3,385.8 794.5,383.9 794.8,386.4 795,387.3 795.3,387.5 795.5,387.2 795.8,387.5 796.1,386.1 796.3,387.7 796.6,387.7 796.8,387.1 797.1,387.1 797.3,387 797.6,387.1 797.8,386.5 798.1,383.9 798.3,383.9 798.6,385.2 798.9,382.9 799.1,381.2 799.4,381 799.6,380.7 799.9,380.1 800.1,377.4 800.4,377.5 800.6,374.8 800.9,373.5 801.1,373.8 801.4,373 801.7,373.3 801.9,375.6 802.2,374.2 802.4,372.9 802.7,370.1 802.9,368.4 803.2,366.8 803.4,366 803.7,365.3 804,364.5 804.2,364.1 804.5,362.8 804.7,361.8 805,360.9 805.2,361.5 805.5,361.6 805.7,362.1 806,361.8 806.2,359.9 806.5,359.4 806.8,356.7 807,359.3 807.3,359.6 807.5,357.7 807.8,354.8 808,354.8 808.3,352.4 808.5,351.9 808.8,353.4 809.1,353.5 809.3,351.7 809.6,352.7 809.8,350.6 810.1,350.8 810.3,349.6 810.6,349.2 810.8,349.9 811.1,348 811.3,350.5 811.6,349.1 811.9,350.6 812.1,348.6 812.4,349.4 812.6,347.1 812.9,345.7 813.1,346.4 813.4,347.1 813.6,345.6 813.9,346.9 814.2,346.2 814.4,346.7 814.7,346.6 814.9,346.8 815.2,344.5 815.4,346.7 815.7,347.5 815.9,346.8 816.2,346.2 816.4,344.3 816.7,344.4 817,345.9 817.2,345.9 817.5,345.2 817.7,345.2 818,348.1 818.2,347.8 818.5,346.9 818.7,349.2 819,349.5 819.2,349.6 819.5,349 819.8,348.2 820,347.7 820.3,349 820.5,349.4 820.8,350.7 821,352.1 821.3,353 821.5,352.9 821.8,352.2 822.1,350.9 822.3,351.7 822.6,351 822.8,351.9 823.1,351.9 823.3,350.7 823.6,350.4 823.8,350.7 824.1,351.6 824.3,350.5 824.6,351.1 824.9,350.8 825.1,349 825.4,349.5 825.6,351.1 825.9,349.2 826.1,349.9 826.4,350.6 826.6,350.9 826.9,348.5 827.2,349.6 827.4,347.7 827.7,346 827.9,345.5 828.2,345.4 828.4,345 828.7,344.7 828.9,346.1 829.2,344.7 829.4,343.8 829.7,344.9 830,345.1 830.2,346.1 830.5,343.9 830.7,344.8 831,344.6 831.2,345.7 831.5,343 831.7,343.1 832,342.8 832.3,341.2 832.5,340.7 832.8,342.2 833,341.1 833.3,340.1 833.5,341.5 833.8,341.8 834,341.6 834.3,339.3 834.5,338.9 834.8,338.8 835.1,336.7 835.3,335.4 835.6,335.6 835.8,335.9 836.1,333.5 836.3,329.7 836.6,328.9 836.8,328 837.1,329.1 837.3,330 837.6,329.4 837.9,328 838.1,327.6 838.4,325.9 838.6,325.9 838.9,324.9 839.1,327.9 839.4,327 839.6,324.6 839.9,323 840.2,322.5 840.4,320.9 840.7,320.7 840.9,319.4 841.2,320.6 841.4,319.4 841.7,318.2 841.9,316.7 842.2,316.1 842.4,316.8 842.7,317 843,318.1 843.2,316.7 843.5,317.3 843.7,316.4 844,316.1 844.2,313.2 844.5,312 844.7,313.3 845,314.2 845.3,312.9 845.5,312.5 845.8,310.8 846,309.3 846.3,307.7 846.5,308.6 846.8,307.9 847,306.4 847.3,306.5 847.5,307.1 847.8,306.8 848.1,304.8 848.3,306.5 848.6,306.1 848.8,305.3 849.1,306.7 849.3,306.9 849.6,305.9 849.8,305.7 850.1,304.1 850.3,303.1 850.6,301.2 850.9,304.1 851.1,301.8 851.4,302.9 851.6,302.5 851.9,301.9 852.1,302 852.4,302.9 852.6,303.6 852.9,305.3 853.2,304.3 853.4,305 853.7,303.3 853.9,303.6 854.2,303.7 854.4,303.3 854.7,302.9 854.9,303.3 855.2,303 855.4,302.8 855.7,301.5 856,300.5 856.2,301 856.5,298.7 856.7,298.7 857,300.6 857.2,296.7 857.5,297.1 857.7,298.6 858,297.1 858.3,300.2 858.5,297 858.8,298.9 859,299.9 859.3,299.7 859.5,298.2 859.8,297.1 860,294.9 860.3,295.5 860.5,292.8 860.8,291.8 861.1,292.8 861.3,290.1 861.6,289.8 861.8,289.9 862.1,288.2 862.3,289.6 862.6,289.4 862.8,286.2 863.1,285.9 863.4,284.4 863.6,283.5 863.9,283 864.1,282.4 864.4,282.9 864.6,281.6 864.9,282.3 865.1,281.1 865.4,280.9 865.6,279.5 865.9,278.6 866.2,277.4 866.4,278.5 866.7,279.2 866.9,281.1 867.2,281 867.4,279.7 867.7,278 867.9,277.2 868.2,276.7 868.4,277.2 868.7,276.9 869,275 869.2,274.3 869.5,275.2 869.7,274.8 870,273.6 870.2,274.1 870.5,272.2 870.7,271.2 871,269.8 871.3,267.5 871.5,268.7 871.8,267.5 872,266.5 872.3,265.6 872.5,266.3 872.8,265.2 873,264.3 873.3,261.5 873.5,261.3 873.8,259.4 874.1,260.3 874.3,260.9 874.6,259.6 874.8,261.6 875.1,260.1 875.3,258.5 875.6,256.8 875.8,255.4 876.1,255 876.4,254.5 876.6,251.8 876.9,252 877.1,251 877.4,251.4 877.6,250.2 877.9,247.6 878.1,245.7 878.4,247.4 878.6,246.7 878.9,243.5 879.2,243.1 879.4,242.2 879.7,239.6 879.9,237.9 880.2,236.5 880.4,237.4 880.7,237.3 880.9,237.2 881.2,237.6 881.4,238.2 881.7,236.2 882,236.2 882.2,235.5 882.5,234.9 882.7,235 883,234.9 883.2,234.6 883.5,233.1 883.7,232 884,234.3 884.3,231.8 884.5,229.6 884.8,230 885,230.8 885.3,231.8 885.5,230.7 885.8,232 886,230.9 886.3,229.8 886.5,230.3 886.8,231.2 887.1,232.3 887.3,233.2 887.6,232.5 887.8,233.5 888.1,232.2 888.3,232.9 888.6,231 888.8,229.3 889.1,231.1 889.4,230.1 889.6,230.6 889.9,231.5 890.1,230.9 890.4,230.9 890.6,233.1 890.9,228.9 891.1,230.3 891.4,232 891.6,229.6 891.9,227.8 892.2,227.6 892.4,228.3 892.7,224.9 892.9,223.7 893.2,222.4 893.4,222.7 893.7,221.5 893.9,220.8 894.2,219.2 894.5,218.8 894.7,217 895,215.9 895.2,214.9 895.5,214.8 895.7,212.5 896,214.4 896.2,212.7 896.5,210.6 896.7,211.4 897,209.6 897.3,210.3 897.5,210.2 897.8,209.4 898,209.3 898.3,208.3 898.5,207.8 898.8,209.5 899,205.3 899.3,205.7 899.5,206.1 899.8,203.9 900.1,202 900.3,205.6 900.6,203.7 900.8,205.5 901.1,204.6 901.3,202.6 901.6,202.7 901.8,201.9 902.1,202.7 902.4,202.1 902.6,201.1 902.9,201 903.1,202 903.4,201.4 903.6,198.8 903.9,197.8 904.1,198.1 904.4,196.9 904.6,196.2 904.9,195.2 905.2,195.3 905.4,196.5 905.7,197.6 905.9,196.7 906.2,198.4 906.4,197.5 906.7,199.5 906.9,198.9 907.2,198 907.5,197 907.7,193.8 908,194.1 908.2,195.1 908.5,196.4 908.7,193.3 909,195.9 909.2,194.7 909.5,194.5 909.7,190.9 910,192.3 910.3,192 910.5,193.2 910.8,193.5 911,192.4 911.3,193.6 911.5,194.9 911.8,195.1 912,195.4 912.3,195.9 912.6,195.6 912.8,193.6 913.1,193.2 913.3,195.7 913.6,196.5 913.8,195.7 914.1,194.8 914.3,194.7 914.6,194.4 914.8,194.9 915.1,195.3 915.4,197.4 915.6,196.6 915.9,195.9 916.1,195.1 916.4,194.5 916.6,196 916.9,196.6 917.1,195.8 917.4,196 917.6,196.3 917.9,194.6 918.2,196.3 918.4,196.4 918.7,199 918.9,196.5 919.2,195.5 919.4,195.7 919.7,194.8 919.9,192.2 920.2,191 920.5,191.7 920.7,192.7 921,192.9 921.2,193.6 921.5,193.1 921.7,192.7 922,192 922.2,190.8 922.5,190.8 922.7,191.4 923,190.9 923.3,190.9 923.5,189.9 923.8,187.7 924,186.8 924.3,188.3 924.5,188.7 924.8,190.2 925,189 925.3,188.9 925.6,190 925.8,189.9 926.1,188.1 926.3,187.7 926.6,187.9 926.8,186.2 927.1,186.3 927.3,187 927.6,185.7 927.8,187.8 928.1,186.3 928.4,185.3 928.6,184.5 928.9,183.7 929.1,184.5 929.4,183.7 929.6,185.5 929.9,185.4 930.1,184.7 930.4,182.8 930.6,180.1 930.9,180.3 931.2,179.1 931.4,180 931.7,179.1 931.9,179.9 932.2,179.5 932.4,178.7 932.7,177.1 932.9,176.2 933.2,175.6 933.5,175.8 933.7,173.7 934,173.4 934.2,175 934.5,173.1 934.7,171.7 935,170.2 935.2,168 935.5,169.1 935.7,168.3 936,167.7 936.3,168.7 936.5,170.4 936.8,167.6 937,167.6 937.3,166.8 937.5,165.9 937.8,165.1 938,164.3 938.3,165.1 938.6,164.2 938.8,162.6 939.1,162.7 939.3,161.7 939.6,160.7 939.8,159.7 940.1,160.3 940.3,159 940.6,157.4 940.8,155.2 941.1,153.9 941.4,152.6 941.6,152.6 941.9,152.6 942.1,150.3 942.4,151.5 942.6,152.4 942.9,152 943.1,150.8 943.4,152.6 943.7,151 943.9,149.1 944.2,148.8 L944.2,221.3 943.9,223.2 943.7,222.8 943.4,222.8 943.1,221 942.9,222.6 942.6,222.7 942.4,222.5 942.1,223.5 941.9,224.7 941.6,223.8 941.4,222.8 941.1,223.6 940.8,223.1 940.6,224.2 940.3,225.3 940.1,227.1 939.8,226.9 939.6,227.3 939.3,230.4 939.1,229.3 938.8,230.4 938.6,232 938.3,231.6 938,232 937.8,233.1 937.5,233.4 937.3,235.8 937,236.1 936.8,235.6 936.5,236.5 936.3,239.5 936,237.1 935.7,238.3 935.5,239 935.2,240.5 935,240.7 934.7,245.1 934.5,246.2 934.2,246 934,246.9 933.7,245.3 933.5,244.9 933.2,246.1 932.9,247.8 932.7,249.2 932.4,248.6 932.2,249.4 931.9,250.2 931.7,250.5 931.4,251.3 931.2,250.9 930.9,252.4 930.6,255.3 930.4,255.4 930.1,254.4 929.9,254.9 929.6,254.7 929.4,254.8 929.1,255.5 928.9,254.5 928.6,253.1 928.4,254.4 928.1,258 927.8,256 927.6,254.9 927.3,255.3 927.1,254.6 926.8,256.4 926.6,258.1 926.3,258.6 926.1,257.8 925.8,258.4 925.6,258.4 925.3,259.5 925,258.7 924.8,260.8 924.5,260.6 924.3,261.1 924,260.4 923.8,261.3 923.5,262.7 923.3,262.7 923,263.8 922.7,264.1 922.5,264.8 922.2,264.5 922,263.9 921.7,263.2 921.5,263.4 921.2,262.3 921,263.5 920.7,263.5 920.5,263.6 920.2,263.9 919.9,264.2 919.7,265.8 919.4,266.2 919.2,266.9 918.9,268.7 918.7,268 918.4,265.9 918.2,266.6 917.9,269 917.6,269.4 917.4,268.2 917.1,269.9 916.9,268.3 916.6,270.2 916.4,269.9 916.1,268.9 915.9,265.5 915.6,266.3 915.4,265.3 915.1,265 914.8,263.8 914.6,264.9 914.3,265.6 914.1,265.7 913.8,267 913.6,269.3 913.3,269.8 913.1,268.4 912.8,266.7 912.6,268.5 912.3,267.2 912,266.6 911.8,267.8 911.5,267.6 911.3,268.6 911,268.5 910.8,266.4 910.5,267.5 910.3,267.6 910,268 909.7,268.1 909.5,267.3 909.2,265.9 909,264.8 908.7,265.8 908.5,268.2 908.2,266.3 908,264.4 907.7,265.9 907.5,267.4 907.2,269.5 906.9,268.1 906.7,266.6 906.4,266.5 906.2,266.6 905.9,267.1 905.7,268.5 905.4,271.4 905.2,270 904.9,268.8 904.6,269.5 904.4,269.4 904.1,272 903.9,272.1 903.6,271.4 903.4,272.7 903.1,274.8 902.9,272.7 902.6,272.6 902.4,272.4 902.1,275.4 901.8,276.3 901.6,274.9 901.3,276 901.1,276.5 900.8,276 900.6,278.1 900.3,279.9 900.1,279.8 899.8,280.1 899.5,281.6 899.3,280.8 899,280 898.8,280.4 898.5,280.4 898.3,283.2 898,282.2 897.8,282.7 897.5,283.6 897.3,284.8 897,286.3 896.7,285.8 896.5,284.4 896.2,286.8 896,288.7 895.7,288.9 895.5,288.9 895.2,290.4 895,291.4 894.7,291.2 894.5,292.8 894.2,291.4 893.9,294.4 893.7,292 893.4,293.9 893.2,295.4 892.9,297 892.7,297.3 892.4,297.4 892.2,299.5 891.9,301.7 891.6,302.1 891.4,303.4 891.1,303.8 890.9,305.9 890.6,306.6 890.4,307.8 890.1,307.8 889.9,308.2 889.6,308.5 889.4,306.4 889.1,306.7 888.8,304.8 888.6,306.3 888.3,308.7 888.1,307.9 887.8,306.9 887.6,305.9 887.3,305.5 887.1,308.1 886.8,305.2 886.5,305.4 886.3,305.4 886,304.6 885.8,307.2 885.5,307.9 885.3,308.8 885,308.8 884.8,308.4 884.5,308.8 884.3,309 884,309.1 883.7,307.8 883.5,310.2 883.2,310.3 883,310.8 882.7,311 882.5,312.2 882.2,311.6 882,312.8 881.7,313.5 881.4,314.5 881.2,314.7 880.9,316.5 880.7,319.1 880.4,319.1 880.2,318.1 879.9,318.1 879.7,319.5 879.4,319 879.2,319.6 878.9,319.5 878.6,318.3 878.4,320.5 878.1,320.3 877.9,322.7 877.6,320.9 877.4,323.1 877.1,326.8 876.9,325.4 876.6,326 876.4,328 876.1,329.3 875.8,330.7 875.6,332.4 875.3,332.1 875.1,330.7 874.8,331.7 874.6,334.3 874.3,335.6 874.1,337.3 873.8,336.5 873.5,336.8 873.3,337.5 873,335.5 872.8,336.2 872.5,335.5 872.3,337.6 872,339.1 871.8,338.2 871.5,338.5 871.3,340.5 871,341.2 870.7,345.8 870.5,346.3 870.2,344.8 870,345.3 869.7,345 869.5,346.2 869.2,347.7 869,348.5 868.7,349.1 868.4,350.7 868.2,349.6 867.9,350.8 867.7,350.2 867.4,352.4 867.2,351 866.9,351.3 866.7,351.1 866.4,353.4 866.2,353.9 865.9,354.4 865.6,356.2 865.4,355.5 865.1,353.6 864.9,354.2 864.6,356 864.4,355.9 864.1,359.1 863.9,360.6 863.6,359.3 863.4,359.6 863.1,360 862.8,359.4 862.6,361.3 862.3,362.4 862.1,362.8 861.8,363.1 861.6,363.9 861.3,365.7 861.1,366.7 860.8,367.9 860.5,367.1 860.3,368.4 860,367.9 859.8,368.8 859.5,369.1 859.3,369.5 859,369.5 858.8,369.2 858.5,370.3 858.3,370.9 858,371.4 857.7,372.1 857.5,371.7 857.2,371.7 857,372.1 856.7,373.6 856.5,376.4 856.2,376.1 856,375.9 855.7,378.3 855.4,377.3 855.2,378.1 854.9,377.2 854.7,376.1 854.4,378 854.2,378 853.9,377.6 853.7,376.1 853.4,374.3 853.2,377 852.9,377.9 852.6,375.9 852.4,377.3 852.1,376.5 851.9,375.8 851.6,376.3 851.4,376.9 851.1,374.2 850.9,376.5 850.6,375.6 850.3,379.1 850.1,378.9 849.8,378.3 849.6,376.9 849.3,378.4 849.1,379.9 848.8,376.9 848.6,376.7 848.3,378.9 848.1,376.5 847.8,378 847.5,377.5 847.3,378.6 847,377.4 846.8,378.2 846.5,379.3 846.3,382.8 846,384.3 845.8,385.2 845.5,384.3 845.3,384.8 845,386.9 844.7,386.8 844.5,388.2 844.2,386.8 844,386 843.7,384.4 843.5,382.9 843.2,387.4 843,388.3 842.7,386.7 842.4,389.5 842.2,390.8 841.9,388.9 841.7,390.2 841.4,391.4 841.2,391.1 840.9,392.2 840.7,392.6 840.4,393.6 840.2,393.5 839.9,393 839.6,394.9 839.4,394.3 839.1,395 838.9,397 838.6,396.3 838.4,397 838.1,395.9 837.9,397.4 837.6,397.6 837.3,398.4 837.1,401 836.8,402.3 836.6,402.5 836.3,403.2 836.1,403.7 835.8,405.5 835.6,405.9 835.3,407.5 835.1,408.4 834.8,408.9 834.5,411.9 834.3,411.1 834,412.5 833.8,412.1 833.5,414.5 833.3,412.7 833,413.5 832.8,414.4 832.5,414 832.3,413.9 832,414.7 831.7,413.2 831.5,412.6 831.2,412.3 831,414.7 830.7,414.9 830.5,415.2 830.2,413.6 830,414.3 829.7,416.4 829.4,413.8 829.2,416.1 828.9,415.9 828.7,416 828.4,414.7 828.2,416.4 827.9,414.9 827.7,415.9 827.4,416.1 827.2,415.7 826.9,416.2 826.6,418.1 826.4,419.3 826.1,420.4 825.9,423.6 825.6,424.7 825.4,423.3 825.1,423.5 824.9,424.3 824.6,425.2 824.3,422.9 824.1,423.5 823.8,423.3 823.6,422.7 823.3,423.3 823.1,423.2 822.8,422.9 822.6,424 822.3,425.3 822.1,424.1 821.8,422.4 821.5,423.2 821.3,423.8 821,422.4 820.8,422.4 820.5,423.5 820.3,422.1 820,421.8 819.8,421 819.5,419.8 819.2,418.3 819,415.4 818.7,414.5 818.5,415.3 818.2,413.2 818,414.5 817.7,415.1 817.5,414.5 817.2,417.7 817,416 816.7,414.8 816.4,414.8 816.2,417 815.9,417.1 815.7,415.1 815.4,416 815.2,416.1 814.9,415.1 814.7,416.8 814.4,421.2 814.2,419.9 813.9,420.5 813.6,421.2 813.4,419.7 813.1,422 812.9,422 812.6,420.8 812.4,422.7 812.1,423.6 811.9,423.9 811.6,424.2 811.3,423.6 811.1,423 810.8,423.4 810.6,425 810.3,425.7 810.1,427.6 809.8,426.5 809.6,426 809.3,428.9 809.1,427 808.8,425 808.5,426.3 808.3,426.6 808,427.7 807.8,426.9 807.5,427.3 807.3,429.2 807,429.5 806.8,428.9 806.5,429.3 806.2,428.6 806,430.9 805.7,433.2 805.5,433 805.2,433.1 805,435.4 804.7,435.4 804.5,436.1 804.2,436.5 804,436.4 803.7,436.6 803.4,436.6 803.2,439.1 802.9,438.7 802.7,440.4 802.4,440.1 802.2,439.4 801.9,439.7 801.7,439.9 801.4,442.7 801.1,443.8 800.9,445 800.6,445.6 800.4,445.5 800.1,446.7 799.9,449 799.6,449.4 799.4,450.9 799.1,450.2 798.9,450.2 798.6,452.1 798.3,453.3 798.1,452.7 797.8,453.1 797.6,454 797.3,454.8 797.1,454.1 796.8,454.6 796.6,454.5 796.3,456.3 796.1,455.4 795.8,455.3 795.5,454.7 795.3,454.6 795,455.2 794.8,454.6 794.5,455 794.3,454.8 794,452.5 793.8,452.3 793.5,453.2 793.2,453.9 793,453.1 792.7,451.2 792.5,452.6 792.2,452.5 792,453.7 791.7,454.2 791.5,457.2 791.2,456.5 791,457.1 790.7,456.8 790.4,459.1 790.2,461.3 789.9,461.3 789.7,464.5 789.4,465.2 789.2,467.2 788.9,468 788.7,466 788.4,466 788.1,465.9 787.9,468.5 787.6,468.6 787.4,469.8 787.1,469 786.9,469.2 786.6,471.1 786.4,471.5 786.1,471.2 785.9,474.3 785.6,475.5 785.3,476 785.1,476 784.8,478.4 784.6,477.9 784.3,481.1 784.1,478.9 783.8,481.2 783.6,483 783.3,483.3 783.1,484.6 782.8,485.5 782.5,485.4 782.3,487.9 782,488.2 781.8,487.1 781.5,487.7 781.3,488.7 781,490.7 780.8,491.3 780.5,491.7 780.2,493.4 780,491.4 779.7,491.6 779.5,493.7 779.2,493.6 779,493.1 778.7,496.4 778.5,496.8 778.2,498 778,498.2 777.7,498.3 777.4,500.8 777.2,500.6 776.9,500.4 776.7,499.7 776.4,500.3 776.2,501 775.9,502.8 775.7,501.1 775.4,501.1 775.1,501.4 774.9,501.9 774.6,502.1 774.4,502.6 774.1,503.9 773.9,502.5 773.6,503.8 773.4,503.1 773.1,504.3 772.9,505.6 772.6,502.3 772.3,503.3 772.1,503.3 771.8,503 771.6,504.5 771.3,505.4 771.1,504.6 770.8,507 770.6,506.7 770.3,507 770,510.4 769.8,510.1 769.5,509.5 769.3,511.2 769,514.4 768.8,510.7 768.5,512 768.3,511.9 768,513.9 767.8,513.5 767.5,514.3 767.2,512.1 767,513.5 766.7,514.2 766.5,514.3 766.2,514.7 766,515.3 765.7,515.9 765.5,515.7 765.2,515.5 765,517.2 764.7,517.1 764.4,516.2 764.2,516.7 763.9,517.1 763.7,516.3 763.4,515 763.2,514.7 762.9,512.6 762.7,513.5 762.4,514.2 762.1,513.1 761.9,512.2 761.6,514.1 761.4,512.3 761.1,513.1 760.9,511.6 760.6,510.7 760.4,510.7 760.1,508.9 759.9,507.9 759.6,508.3 759.3,508 759.1,508.9 758.8,510.2 758.6,510 758.3,509.7 758.1,511.1 757.8,508.3 757.6,506.3 757.3,506 757,505.8 756.8,507.5 756.5,507.7 756.3,508.1 756,507 755.8,507.1 755.5,505.4 755.3,503.6 755,501.2 754.8,502.7 754.5,503.4 754.2,505.4 754,504.6 753.7,504.9 753.5,504.9 753.2,504.6 753,504.2 752.7,504.8 752.5,503.8 752.2,504.4 751.9,506 751.7,506.8 751.4,505.4 751.2,505.7 750.9,505.7 750.7,506.7 750.4,506.7 750.2,506.3 749.9,507.2 749.7,507.1 749.4,507.9 749.1,509 748.9,508.7 748.6,509.3 748.4,509.7 748.1,510.3 747.9,509.2 747.6,510.9 747.4,509.1 747.1,510.1 746.9,511.3 746.6,509.9 746.3,508.5 746.1,507.6 745.8,508.5 745.6,510.1 745.3,510.8 745.1,509 744.8,510.1 744.6,511.1 744.3,509.2 744,513.3 743.8,513.4 743.5,512.1 743.3,512.7 743,512.8 742.8,513.2 742.5,515.2 742.3,516.2 742,513.7 741.8,511.7 741.5,513.2 741.2,513 741,515.6 740.7,515.8 740.5,516.7 740.2,515.8 740,515.5 739.7,514.9 739.5,513.2 739.2,512.9 738.9,511.3 738.7,509.4 738.4,509.4 738.2,513.4 737.9,511.3 737.7,508.8 737.4,509.4 737.2,508.4 736.9,508.5 736.7,509 736.4,508.5 736.1,509.4 735.9,509.4 735.6,509.4 735.4,507.6 735.1,509.7 734.9,507.4 734.6,507.4 734.4,506.6 734.1,506.2 733.9,505 733.6,502.7 733.3,502.2 733.1,502.4 732.8,502.4 732.6,502.4 732.3,501.9 732.1,500.7 731.8,501.5 731.6,500.7 731.3,499.4 731,501 730.8,500.8 730.5,500.7 730.3,499.8 730,497.8 729.8,496.5 729.5,496.8 729.3,496.9 729,496.6 728.8,496.9 728.5,498.4 728.2,496.8 728,496.3 727.7,497.5 727.5,494 727.2,495.3 727,495.3 726.7,496.2 726.5,496.3 726.2,495.4 725.9,493.6 725.7,493.4 725.4,492.2 725.2,491.8 724.9,489.8 724.7,489 724.4,488.7 724.2,488.3 723.9,486.9 723.7,487.3 723.4,488.5 723.1,487.1 722.9,487.1 722.6,487 722.4,486.2 722.1,487.9 721.9,486.9 721.6,486.3 721.4,486 721.1,486.7 720.8,484.3 720.6,482.3 720.3,481 720.1,478.5 719.8,480.2 719.6,481 719.3,482.4 719.1,481.7 718.8,481.9 718.6,480.3 718.3,481.2 718,480.8 717.8,480.8 717.5,481.5 717.3,478.5 717,478.6 716.8,480 716.5,481.3 716.3,480 716,480.4 715.8,478.7 715.5,479.3 715.2,480.7 715,480 714.7,479.7 714.5,481.1 714.2,481.1 714,480.4 713.7,479.8 713.5,481.6 713.2,480.4 712.9,480.8 712.7,478.9 712.4,480.6 712.2,479.4 711.9,479.9 711.7,479.9 711.4,480.9 711.2,482.1 710.9,483.3 710.7,482.5 710.4,480.5 710.1,483.2 709.9,484 709.6,484.8 709.4,484 709.1,484.1 708.9,485.7 708.6,484.6 708.4,483.9 708.1,486 707.8,487.2 707.6,485.4 707.3,485.7 707.1,485.2 706.8,485.8 706.6,488.4 706.3,490.4 706.1,490.8 705.8,489.9 705.6,490.5 705.3,490.1 705,489.2 704.8,488.4 704.5,488.7 704.3,488.5 704,488.1 703.8,488.2 703.5,488.8 703.3,488.6 703,483.9 702.8,483.6 702.5,482.3 702.2,482.8 702,481.8 701.7,480.6 701.5,479.6 701.2,483.3 701,482.8 700.7,481.6 700.5,479.4 700.2,477.4 699.9,478 699.7,479.2 699.4,478.8 699.2,476.7 698.9,477.3 698.7,476.9 698.4,478.5 698.2,478.4 697.9,478.9 697.7,479.6 697.4,482.9 697.1,483.6 696.9,482 696.6,481.9 696.4,482.8 696.1,483.7 695.9,481.1 695.6,481.7 695.4,482.7 695.1,484.4 694.8,482.7 694.6,481 694.3,481.6 694.1,483 693.8,483.1 693.6,482.6 693.3,483.7 693.1,485.4 692.8,485.6 692.6,485 692.3,484.4 692,487.7 691.8,485.4 691.5,486.9 691.3,486.9 691,487.6 690.8,486.9 690.5,486.8 690.3,489.1 690,490.2 689.7,490.5 689.5,491.5 689.2,488 689,487.6 688.7,487.9 688.5,489.3 688.2,489.2 688,492 687.7,491.6 687.5,491.9 687.2,493.6 686.9,492.8 686.7,496.1 686.4,494.4 686.2,495 685.9,499.4 685.7,499.1 685.4,498.3 685.2,499.7 684.9,495.8 684.7,498 684.4,496.2 684.1,496.2 683.9,495 683.6,496.7 683.4,497.3 683.1,498.8 682.9,497.7 682.6,497.1 682.4,495.6 682.1,495.3 681.8,493.5 681.6,494.3 681.3,493.4 681.1,493.7 680.8,494.2 680.6,494.7 680.3,494.1 680.1,492.9 679.8,491.2 679.6,490.5 679.3,492.5 679,492.3 678.8,494.3 678.5,492.9 678.3,494.1 678,492.4 677.8,493.1 677.5,493.8 677.3,494.9 677,496.3 676.7,494.7 676.5,495.8 676.2,497.2 676,496.5 675.7,496.4 675.5,499.3 675.2,497.7 675,496.3 674.7,496 674.5,495.2 674.2,492.8 673.9,494.1 673.7,496.3 673.4,495.3 673.2,495.3 672.9,496 672.7,496.1 672.4,496.6 672.2,494.2 671.9,493.3 671.6,494.3 671.4,496.3 671.1,496.3 670.9,495.8 670.6,494.2 670.4,495.8 670.1,494.6 669.9,492.6 669.6,493.8 669.4,494.1 669.1,494.3 668.8,493.6 668.6,493.5 668.3,493.6 668.1,493.4 667.8,494.3 667.6,496.3 667.3,496.4 667.1,496.3 666.8,495.8 666.6,494.4 666.3,493.7 666,493.8 665.8,493.3 665.5,490.7 665.3,491.5 665,492.1 664.8,489.7 664.5,487.9 664.3,487.7 664,486.9 663.7,488 663.5,488 663.2,488.9 663,487.7 662.7,487.5 662.5,486.5 662.2,488.1 662,489.2 661.7,489.8 661.5,488.8 661.2,488.8 660.9,488.7 660.7,487.4 660.4,491 660.2,493.6 659.9,491.6 659.7,490.3 659.4,491.6 659.2,493.7 658.9,493.9 658.6,493.3 658.4,493.9 658.1,494.7 657.9,495.4 657.6,493.9 657.4,491 657.1,490.5 656.9,491.5 656.6,492.2 656.4,493.3 656.1,495.1 655.8,496.4 655.6,497.3 655.3,497.3 655.1,496 654.8,497.3 654.6,499.2 654.3,498.8 654.1,496.3 653.8,497.1 653.6,494.6 653.3,495 653,493.6 652.8,494.8 652.5,495.1 652.3,493.5 652,496.4 651.8,495.4 651.5,498.2 651.3,498.8 651,497.3 650.7,497.2 650.5,497.8 650.2,496.8 650,497.4 649.7,496.2 649.5,497.3 649.2,497.3 649,498.7 648.7,498.1 648.5,500 648.2,499.7 647.9,500.1 647.7,500 647.4,499.5 647.2,501.3 646.9,500.5 646.7,503.8 646.4,501 646.2,501.6 645.9,503.1 645.6,501.2 645.4,502.7 645.1,502.9 644.9,503.3 644.6,503.9 644.4,502 644.1,498.3 643.9,498.2 643.6,499.7 643.4,498.8 643.1,498.7 642.8,496.8 642.6,496.2 642.3,495 642.1,493.3 641.8,492.5 641.6,492.2 641.3,494.2 641.1,494 640.8,495.4 640.5,494.7 640.3,496.2 640,494.2 639.8,493.2 639.5,496 639.3,493.8 639,492.9 638.8,493.4 638.5,493.1 638.3,491.3 638,493.1 637.7,492.5 637.5,492.6 637.2,492.5 637,492 636.7,491.5 636.5,491.7 636.2,490 636,488.7 635.7,489.7 635.5,489.6 635.2,488.7 634.9,486.4 634.7,485.6 634.4,486.5 634.2,488 633.9,487 633.7,483.4 633.4,484 633.2,484.2 632.9,483.9 632.6,482.8 632.4,482.9 632.1,483.7 631.9,482.4 631.6,478.5 631.4,477.4 631.1,476.8 630.9,476.9 630.6,476.4 630.4,475.5 630.1,474 629.8,473.4 629.6,470.3 629.3,472.4 629.1,471.6 628.8,469.7 628.6,472.2 628.3,472.1 628.1,471.8 627.8,472.9 627.5,472.1 627.3,472.6 627,471.1 626.8,472.2 626.5,470.3 626.3,469.3 626,471.1 625.8,472.3 625.5,472.2 625.3,472.5 625,473.1 624.7,474.2 624.5,474.4 624.2,476 624,475.5 623.7,474.6 623.5,474.1 623.2,474.7 623,474.1 622.7,473.6 622.4,472.5 622.2,473.1 621.9,473.3 621.7,473.9 621.4,475 621.2,475.9 620.9,475 620.7,474.9 620.4,475.3 620.2,475.6 619.9,474.5 619.6,475.1 619.4,473.9 619.1,474.4 618.9,473.7 618.6,472.8 618.4,475.1 618.1,474.4 617.9,472.7 617.6,474.7 617.4,474 617.1,473.4 616.8,474 616.6,473.7 616.3,474.9 616.1,475.6 615.8,478 615.6,478.8 615.3,478.5 615.1,478.2 614.8,476.5 614.5,475.6 614.3,477 614,479.4 613.8,480.9 613.5,479 613.3,479 613,479.3 612.8,478.8 612.5,477.4 612.3,475.6 612,476.5 611.7,475.7 611.5,475.8 611.2,475.4 611,474.9 610.7,474.6 610.5,473.5 610.2,471.1 610,470.6 609.7,470.3 609.4,470.4 609.2,468.9 608.9,468.6 608.7,469 608.4,471.4 608.2,470.7 607.9,470.6 607.7,468.9 607.4,465.5 607.2,464.5 606.9,461.8 606.6,461.5 606.4,463.2 606.1,459.7 605.9,459.7 605.6,458.7 605.4,460.2 605.1,458.2 604.9,458.8 604.6,457.9 604.4,459.1 604.1,460.1 603.8,459.8 603.6,460.3 603.3,457.8 603.1,459.4 602.8,460.5 602.6,460.3 602.3,457.8 602.1,460.7 601.8,459.5 601.5,458.3 601.3,460.8 601,460.3 600.8,461.3 600.5,460.3 600.3,461.8 600,461.7 599.8,462.3 599.5,463.3 599.3,464.7 599,464 598.7,462.8 598.5,463.2 598.2,464.8 598,464.5 597.7,463.3 597.5,462.8 597.2,461.9 597,463.4 596.7,464.5 596.4,467.8 596.2,467.7 595.9,465.3 595.7,465.5 595.4,464.6 595.2,466.5 594.9,465.9 594.7,464.4 594.4,465.7 594.2,466.1 593.9,465.1 593.6,466.6 593.4,467.2 593.1,469 592.9,467.9 592.6,466.9 592.4,467.9 592.1,465.3 591.9,465.9 591.6,465.6 591.3,464.4 591.1,463.8 590.8,463.3 590.6,461.4 590.3,462.5 590.1,460.9 589.8,461 589.6,459.9 589.3,459.8 589.1,459.8 588.8,458.7 588.5,458.8 588.3,458.2 588,457.5 587.8,457.7 587.5,458.3 587.3,457.7 587,455.9 586.8,454.7 586.5,454 586.3,454.2 586,453.6 585.7,451.5 585.5,449.8 585.2,450.8 585,450.8 584.7,450.7 584.5,449.4 584.2,452 584,451.3 583.7,451 583.4,450.1 583.2,448.1 582.9,447.7 582.7,447.6 582.4,446.3 582.2,447.9 581.9,447.8 581.7,448.3 581.4,448 581.2,447.2 580.9,447 580.6,446.5 580.4,445.8 580.1,446 579.9,445.3 579.6,446.5 579.4,443.4 579.1,442.2 578.9,442.4 578.6,443.8 578.3,441.7 578.1,440.9 577.8,439.4 577.6,440.5 577.3,439.2 577.1,440 576.8,439.5 576.6,439.5 576.3,435.8 576.1,437.8 575.8,438 575.5,437.1 575.3,435.7 575,435.7 574.8,436.2 574.5,435.7 574.3,434.9 574,435.6 573.8,433.6 573.5,432 573.3,433.1 573,434.7 572.7,433.9 572.5,431.6 572.2,432.9 572,433.9 571.7,431.5 571.5,430.5 571.2,427.9 571,427.3 570.7,428 570.4,428.8 570.2,429.2 569.9,429.2 569.7,427.5 569.4,425.7 569.2,425 568.9,423.3 568.7,424.8 568.4,424.9 568.2,423.7 567.9,423.7 567.6,423.6 567.4,423.1 567.1,424.9 566.9,427.4 566.6,425.7 566.4,424.4 566.1,424.3 565.9,426.4 565.6,425.3 565.3,423.6 565.1,422.4 564.8,420.5 564.6,418.8 564.3,418.5 564.1,417.6 563.8,417.8 563.6,418.2 563.3,416.4 563.1,417.4 562.8,417.1 562.5,417.7 562.3,416.3 562,415.8 561.8,416.7 561.5,416.8 561.3,415.9 561,415.2 560.8,414.3 560.5,412.8 560.2,414.5 560,413 559.7,415.7 559.5,414.4 559.2,413.7 559,413.4 558.7,414.7 558.5,414.8 558.2,413.7 558,412.3 557.7,411.4 557.4,412 557.2,411.8 556.9,412.2 556.7,410.8 556.4,410.3 556.2,411.9 555.9,410.8 555.7,410.6 555.4,410.1 555.2,409.9 554.9,409.3 554.6,408.4 554.4,408 554.1,405.2 553.9,403.5 553.6,402.9 553.4,401.3 553.1,400.8 552.9,400.7 552.6,398 552.3,395.4 552.1,397.2 551.8,396.2 551.6,397.6 551.3,398.1 551.1,397.7 550.8,397.5 550.6,395.7 550.3,395.2 550.1,393.8 549.8,394.2 549.5,394.4 549.3,392.8 549,393.1 548.8,393 548.5,392.4 548.3,389.7 548,389.2 547.8,388.4 547.5,388.3 547.2,390.9 547,389.4 546.7,387.6 546.5,385.7 546.2,384.9 546,383.8 545.7,383.6 545.5,383.5 545.2,382.3 545,381.9 544.7,380.5 544.4,378.9 544.2,378.3 543.9,379.9 543.7,378.8 543.4,379.6 543.2,377.5 542.9,376.2 542.7,373.5 542.4,373.8 542.1,371.4 541.9,370.9 541.6,371.9 541.4,371.6 541.1,369.2 540.9,369.2 540.6,368.3 540.4,366.8 540.1,366.3 539.9,364.8 539.6,364.6 539.3,361.1 539.1,359.8 538.8,360.3 538.6,357 538.3,357.7 538.1,357.4 537.8,357.4 537.6,356.6 537.3,355.3 537.1,354.5 536.8,352.3 536.5,353.2 536.3,351.8 536,351.6 535.8,352.2 535.5,352.8 535.3,348.5 535,349.4 534.8,350.8 534.5,349.7 534.2,349.4 534,348.3 533.7,348.5 533.5,348.4 533.2,345.4 533,344.9 532.7,344.7 532.5,344.9 532.2,343.6 532,342.6 531.7,343.7 531.4,342.2 531.2,343.1 530.9,342.6 530.7,341.4 530.4,339.4 530.2,338.9 529.9,338.6 529.7,338.2 529.4,338.8 529.1,338.2 528.9,336.8 528.6,336.4 528.4,335.5 528.1,335.6 527.9,335.4 527.6,335.9 527.4,334.9 527.1,335.1 526.9,335.6 526.6,332.2 526.3,333.4 526.1,332.9 525.8,333.8 525.6,332.8 525.3,333 525.1,332.2 524.8,332.1 524.6,333 524.3,331.4 524.1,331.8 523.8,333.4 523.5,333.1 523.3,333.4 523,330.5 522.8,331.4 522.5,332.4 522.3,333.3 522,333.3 521.8,334 521.5,333.5 521.2,331.4 521,332 520.7,332.5 520.5,331.3 520.2,331 520,330.9 519.7,330.5 519.5,331.5 519.2,330.9 519,329.3 518.7,329.8 518.4,329 518.2,328.7 517.9,328.7 517.7,328.6 517.4,328.8 517.2,328.5 516.9,328.2 516.7,328.8 516.4,327.2 516.1,324.9 515.9,323.4 515.6,322.3 515.4,321.6 515.1,322.4 514.9,320 514.6,319.8 514.4,318.9 514.1,315.7 513.9,314.4 513.6,314.1 513.3,312.6 513.1,309.8 512.8,311.7 512.6,311.8 512.3,311.5 512.1,311.2 511.8,311 511.6,311 511.3,308.3 511,310.3 510.8,308.3 510.5,307.4 510.3,306.2 510,306.9 509.8,304.4 509.5,304.4 509.3,303.5 509,305 508.8,306.2 508.5,307.1 508.2,304.6 508,304.7 507.7,304.9 507.5,304 507.2,303.1 507,303 506.7,304 506.5,301.3 506.2,299 506,298.5 505.7,299.5 505.4,301.1 505.2,301.3 504.9,301.3 504.7,301.8 504.4,302.4 504.2,301.8 503.9,303.5 503.7,301.3 503.4,299.8 503.1,299.5 502.9,300.1 502.6,298 502.4,296.9 502.1,297.7 501.9,297.7 501.6,297.8 501.4,297.2 501.1,294.3 500.9,294.7 500.6,297.8 500.3,294.3 500.1,293.7 499.8,295.9 499.6,293 499.3,294.8 499.1,292 498.8,293 498.6,293.1 498.3,292.5 498,293.7 497.8,291.3 497.5,290.9 497.3,290 497,290.2 496.8,290.4 496.5,289.6 496.3,289.8 496,289.4 495.8,289.3 495.5,285.6 495.2,285.6 495,284.2 494.7,285.6 494.5,285.9 494.2,283.7 494,283.1 493.7,284.4 493.5,283.3 493.2,282.3 492.9,283.1 492.7,281.1 492.4,279.7 492.2,280.2 491.9,279.3 491.7,279.1 491.4,277.6 491.2,277.4 490.9,276.2 490.7,275.4 490.4,274.5 490.1,272.4 489.9,272.3 489.6,270.6 489.4,269.8 489.1,268.6 488.9,269.7 488.6,268.7 488.4,268.3 488.1,267.2 487.9,267.7 487.6,264.7 487.3,262.2 487.1,262.4 486.8,260.4 486.6,260.8 486.3,260.8 486.1,259.1 485.8,260.4 485.6,259.9 485.3,258.6 485,257.1 484.8,256.7 484.5,254.7 484.3,253.7 484,252.3 483.8,253.5 483.5,251.3 483.3,250.3 483,250.7 482.8,250.5 482.5,250.1 482.2,249.4 482,248.5 481.7,245.6 481.5,246.8 481.2,246.3 481,245.2 480.7,244 480.5,242.4 480.2,240.5 479.9,240.7 479.7,238.1 479.4,238.4 479.2,237.4 478.9,237.4 478.7,234.3 478.4,235.7 478.2,235.2 477.9,234.5 477.7,233.3 477.4,232.2 477.1,232.1 476.9,230.5 476.6,231.6 476.4,230.4 476.1,230.5 475.9,228.8 475.6,228.5 475.4,228.3 475.1,229.7 474.9,228.6 474.6,227.9 474.3,226.3 474.1,223.9 473.8,225.2 473.6,224.1 473.3,222.2 473.1,220.8 472.8,220.7 472.6,217.3 472.3,217.5 472,218.3 471.8,218.6 471.5,216.7 471.3,214.8 471,215.2 470.8,214.2 470.5,211.7 470.3,209.7 470,211.8 469.8,213.7 469.5,212.1 469.2,211.3 469,209.7 468.7,208.5 468.5,208 468.2,208.3 468,209.6 467.7,209.6 467.5,207.7 467.2,208.2 466.9,205.7 466.7,205.9 466.4,204.9 466.2,205.3 465.9,208.2 465.7,206.5 465.4,204.3 465.2,201.9 464.9,204.8 464.7,203.7 464.4,202.3 464.1,201.2 463.9,202.5 463.6,200 463.4,200.8 463.1,199.7 462.9,198.5 462.6,198.4 462.4,196.5 462.1,196.9 461.8,196.5 461.6,197.2 461.3,196.2 461.1,196.4 460.8,195.5 460.6,194.5 460.3,191.5 460.1,192.2 459.8,193.5 459.6,192.6 459.3,191.4 459,189.8 458.8,191.7 458.5,192.4 458.3,191.4 458,189.7 457.8,191.7 457.5,190.9 457.3,189.5 457,188 456.8,190 456.5,190.6 456.2,189.5 456,191.5 455.7,191 455.5,189.6 455.2,189.7 455,191.7 454.7,190.1 454.5,190.7 454.2,189 453.9,189.2 453.7,186.6 453.4,188.1 453.2,190.4 452.9,189.2 452.7,188 452.4,188.7 452.2,189.3 451.9,187.6 451.7,184.1 451.4,182.4 451.1,183.7 450.9,184.5 450.6,184 450.4,185.1 450.1,184.6 449.9,181.3 449.6,180.4 449.4,180.6 449.1,180.1 448.8,177.1 448.6,177.1 448.3,176.3 448.1,177.7 447.8,177.8 447.6,176.9 447.3,174.2 447.1,174.6 446.8,174.8 446.6,173.6 446.3,172.3 446,170.4 445.8,169.1 445.5,169.6 445.3,168.4 445,167.6 444.8,166 444.5,163 444.3,164.8 444,164.2 443.8,163 443.5,162.7 443.2,162.9 443,161.6 442.7,160 442.5,160.2 442.2,160.1 442,164.3 441.7,166.1 441.5,163.6 441.2,162.6 440.9,162.8 440.7,160.9 440.4,160.8 440.2,159.9 439.9,158.5 439.7,158 439.4,159.5 439.2,161.1 438.9,158.6 438.7,160.3 438.4,159.6 438.1,157.6 437.9,159.2 437.6,159.1 437.4,157.4 437.1,159.2 436.9,158.4 436.6,158.3 436.4,157.5 436.1,158.5 435.8,158.1 435.6,157 435.3,156.7 435.1,158.2 434.8,157.3 434.6,155.9 434.3,157.2 434.1,158.1 433.8,157.6 433.6,157.9 433.3,159.8 433,161.1 432.8,162.7 432.5,164.5 432.3,165.1 432,165.9 431.8,169.3 431.5,170.9 431.3,173.8 431,173.8 430.7,174.8 430.5,177.4 430.2,177.1 430,177.1 429.7,178.3 429.5,180.1 429.2,181 429,181.2 428.7,184.2 428.5,184.4 428.2,186.2 427.9,188.1 427.7,190.6 427.4,189.6 427.2,190.6 426.9,189.6 426.7,192.4 426.4,193.7 426.2,196.4 425.9,195.9 425.7,195.7 425.4,196.9 425.1,198.1 424.9,198.7 424.6,197.4 424.4,199.5 424.1,199.7 423.9,200.8 423.6,200.6 423.4,200.1 423.1,198.6 422.8,200 422.6,198.6 422.3,198.6 422.1,200.4 421.8,198.2 421.6,200 421.3,200.2 421.1,200.2 420.8,201.1 420.6,201.2 420.3,203.5 420,206 419.8,206.9 419.5,206.9 419.3,206.2 419,207.1 418.8,208 418.5,207.3 418.3,208.5 418,208.8 417.7,212 417.5,213.4 417.2,216.7 417,216.6 416.7,218 416.5,218.5 416.2,220.3 416,222.6 415.7,223.1 415.5,224.2 415.2,226.5 414.9,225.9 414.7,227.4 414.4,228.4 414.2,228.1 413.9,230.4 413.7,232.1 413.4,233.9 413.2,236 412.9,240.3 412.6,241.1 412.4,241 412.1,243.5 411.9,245.1 411.6,245.1 411.4,244.8 411.1,246.6 410.9,247.1 410.6,246.7 410.4,249.1 410.1,249.3 409.8,250.6 409.6,252.5 409.3,253.7 409.1,253.7 408.8,256.3 408.6,257.8 408.3,257.7 408.1,260.6 407.8,259.4 407.6,260.4 407.3,260 407,261.5 406.8,263.3 406.5,263.8 406.3,263.8 406,264.4 405.8,265.6 405.5,267.1 405.3,270 405,270.7 404.7,268.8 404.5,272.1 404.2,272.7 404,271.7 403.7,272.5 403.5,272.5 403.2,273.7 403,274.9 402.7,273.6 402.5,275.5 402.2,274.9 401.9,272.9 401.7,274.8 401.4,276.4 401.2,277.4 400.9,276 400.7,277.9 400.4,277.2 400.2,278.8 399.9,279.7 399.6,279.1 399.4,280.4 399.1,280 398.9,281.6 398.6,281.8 398.4,279.6 398.1,281.5 397.9,281.5 397.6,285.2 397.4,285.5 397.1,285.1 396.8,285.6 396.6,288.9 396.3,290.2 396.1,291.8 395.8,291.9 395.6,293 395.3,294.6 395.1,295.9 394.8,295.4 394.6,295.4 394.3,297.1 394,299.1 393.8,300.7 393.5,300.3 393.3,300.9 393,300.9 392.8,301 392.5,302.3 392.3,304.4 392,303.5 391.7,305.9 391.5,306.7 391.2,306.7 391,308 390.7,308 390.5,308.9 390.2,309.5 390,311.8 389.7,311 389.5,312.3 389.2,313 388.9,313.4 388.7,315.1 388.4,315.1 388.2,315.9 387.9,316.7 387.7,317.5 387.4,317.4 387.2,317.9 386.9,318.9 386.6,320.1 386.4,319.2 386.1,319.7 385.9,318.9 385.6,323 385.4,323 385.1,320.7 384.9,321.9 384.6,322.4 384.4,322.1 384.1,324.6 383.8,324 383.6,324.3 383.3,324.5 383.1,323.8 382.8,324.8 382.6,324.6 382.3,323.9 382.1,323.2 381.8,324 381.5,325.1 381.3,325.5 381,325.9 380.8,327.4 380.5,327.9 380.3,328.7 380,330.3 379.8,330.2 379.5,330.1 379.3,330.7 379,331.9 378.7,331.7 378.5,335.2 378.2,336.1 378,335.5 377.7,337 377.5,338.6 377.2,341.4 377,343.4 376.7,345.8 376.5,347.5 376.2,348.3 375.9,350.3 375.7,349.9 375.4,352.5 375.2,352.9 374.9,353.3 374.7,355.2 374.4,356.1 374.2,357.5 373.9,359.6 373.6,359.8 373.4,361.8 373.1,362.4 372.9,364.7 372.6,366.3 372.4,366.1 372.1,365 371.9,368.2 371.6,369.5 371.4,369.7 371.1,369 370.8,369 370.6,370.8 370.3,370.8 370.1,371.3 369.8,372.7 369.6,373.1 369.3,376 369.1,376.9 368.8,377 368.5,375.5 368.3,376 368,375.3 367.8,374.5 367.5,378 367.3,376.5 367,377.5 366.8,378.9 366.5,380.1 366.3,379 366,380 365.7,379.8 365.5,379 365.2,379.3 365,380.5 364.7,381.7 364.5,382.6 364.2,382.2 364,382.2 363.7,382.6 363.4,383.8 363.2,383.7 362.9,383.1 362.7,384.1 362.4,384.7 362.2,383.2 361.9,386 361.7,385.3 361.4,386.9 361.2,388.6 360.9,388.5 360.6,389.8 360.4,390.4 360.1,389.8 359.9,391.3 359.6,391.3 359.4,393.4 359.1,392.8 358.9,394.5 358.6,393.5 358.4,395.3 358.1,396.2 357.8,397.9 357.6,394.7 357.3,396.1 357.1,395.7 356.8,394.6 356.6,393.8 356.3,395.5 356.1,395.1 355.8,396.3 355.5,396.4 355.3,396.8 355,396.4 354.8,395.5 354.5,396.2 354.3,395.4 354,396 353.8,396.3 353.5,394.1 353.3,394.6 353,392.7 352.7,394.1 352.5,393.3 352.2,391.4 352,391.2 351.7,389.4 351.5,389.4 351.2,388.5 351,388.9 350.7,389.3 350.4,390.4 350.2,390.3 349.9,390.2 349.7,390.6 349.4,389.8 349.2,388.7 348.9,388.9 348.7,387.9 348.4,385.9 348.2,384.5 347.9,385 347.6,383.8 347.4,385.1 347.1,386.7 346.9,385.4 346.6,384.6 346.4,384.3 346.1,385.3 345.9,385 345.6,385 345.4,386.2 345.1,388 344.8,388.2 344.6,387 344.3,384.1 344.1,385.7 343.8,383.8 343.6,387.2 343.3,387.9 343.1,386.9 342.8,387.5 342.5,388.6 342.3,388.5 342,389.3 341.8,389.4 341.5,389.5 341.3,389.9 341,390.2 340.8,390.9 340.5,390.5 340.3,389.7 340,391.7 339.7,392.1 339.5,391.9 339.2,391.8 339,391.9 338.7,389.5 338.5,388 338.2,390.9 338,391.5 337.7,391.3 337.4,391.8 337.2,391.2 336.9,391.7 336.7,392.2 336.4,392 336.2,392.7 335.9,392.8 335.7,393.7 335.4,393.5 335.2,395.8 334.9,395.5 334.6,398.2 334.4,399.3 334.1,398.7 333.9,398.9 333.6,398.1 333.4,400.9 333.1,401 332.9,401 332.6,399.1 332.3,400.9 332.1,400.4 331.8,399.5 331.6,397.8 331.3,400.1 331.1,400.9 330.8,397.8 330.6,397.7 330.3,397 330.1,396.7 329.8,395.5 329.5,395.4 329.3,396.2 329,396.3 328.8,393.7 328.5,394.1 328.3,394.9 328,393.8 327.8,393.9 327.5,395.2 327.3,395.2 327,394.9 326.7,395.3 326.5,397 326.2,396.5 326,397.5 325.7,395.7 325.5,395.8 325.2,397.7 325,396.1 324.7,398.7 324.4,398.6 324.2,398.3 323.9,398.1 323.7,398.6 323.4,397.7 323.2,398.3 322.9,396.2 322.7,398.1 322.4,400.1 322.2,400.3 321.9,400.8 321.6,402 321.4,402.2 321.1,404.4 320.9,402.3 320.6,402 320.4,402 320.1,400.4 319.9,400.9 319.6,404.1 319.3,403.2 319.1,403.6 318.8,403.4 318.6,404.8 318.3,404.5 318.1,403.7 317.8,404.6 317.6,407.5 317.3,409 317.1,408 316.8,408.3 316.5,408.1 316.3,409.5 316,409.9 315.8,407.7 315.5,410.2 315.3,410.2 315,411.6 314.8,410.1 314.5,411.1 314.3,415.6 314,416.7 313.7,420.2 313.5,420 313.2,421.2 313,421.8 312.7,421.8 312.5,420.7 312.2,422.2 312,422.4 311.7,422.5 311.4,422.9 311.2,421.8 310.9,420.7 310.7,419.3 310.4,418 310.2,418.1 309.9,419.5 309.7,416.6 309.4,414 309.2,416.3 308.9,417.7 308.6,417.2 308.4,416.9 308.1,416.1 307.9,415.4 307.6,415 307.4,415.4 307.1,416.4 306.9,416.1 306.6,414.9 306.3,416.8 306.1,417.1 305.8,418.2 305.6,418 305.3,418.2 305.1,417.5 304.8,421 304.6,420 304.3,418.7 304.1,420.5 303.8,419.1 303.5,420.5 303.3,420.6 303,420.4 302.8,420.5 302.5,422.8 302.3,422 302,422.5 301.8,423.1 301.5,424.2 301.2,424.9 301,425.1 300.7,426 300.5,425.7 300.2,424.5 300,423.6 299.7,425 299.5,423.9 299.2,426.3 299,424.8 298.7,426.5 298.4,426.2 298.2,425.4 297.9,426.9 297.7,425.2 297.4,425.3 297.2,425.2 296.9,423.2 296.7,424 296.4,424.3 296.2,423.9 295.9,423.8 295.6,422.6 295.4,420.8 295.1,422.2 294.9,420.9 294.6,420.3 294.4,420.4 294.1,421.4 293.9,419.5 293.6,419.6 293.3,419.8 293.1,418.8 292.8,417.8 292.6,419.4 292.3,417.8 292.1,419.1 291.8,420.1 291.6,419.5 291.3,418.2 291.1,417.3 290.8,416.9 290.5,416.7 290.3,416.9 290,417.1 289.8,417.5 289.5,415.5 289.3,416 289,417.6 288.8,415.9 288.5,417.3 288.2,419 288,417.7 287.7,418 287.5,418.3 287.2,419.3 287,419.7 286.7,418.1 286.5,419 286.2,420.1 286,420.5 285.7,422.2 285.4,421.1 285.2,422.8 284.9,422.7 284.7,420.9 284.4,420.9 284.2,420.9 283.9,421.7 283.7,422.2 283.4,421.1 283.1,423 282.9,422 282.6,423.9 282.4,426.5 282.1,424.7 281.9,424.2 281.6,421.6 281.4,423.1 281.1,423.5 280.9,423.9 280.6,424.3 280.3,424 280.1,426.4 279.8,427.5 279.6,428 279.3,428.4 279.1,430.8 278.8,430.7 278.6,431.1 278.3,432.1 278.1,431.4 277.8,432 277.5,429.7 277.3,432.9 277,432.9 276.8,433.8 276.5,433.5 276.3,433.6 276,434.2 275.8,435 275.5,435 275.2,435.4 275,434.1 274.7,433.5 274.5,433.6 274.2,434.3 274,432.6 273.7,431.7 273.5,433.4 273.2,433.3 273,432.4 272.7,429.5 272.4,430.5 272.2,428.6 271.9,429.7 271.7,430.2 271.4,432.5 271.2,431.4 270.9,429.6 270.7,428.6 270.4,428.8 270.1,431.7 269.9,430.5 269.6,428.3 269.4,427.5 269.1,428.1 268.9,430.2 268.6,430.2 268.4,429.2 268.1,429.1 267.9,428.7 267.6,428 267.3,429.8 267.1,429.4 266.8,427.7 266.6,429.1 266.3,430 266.1,430.6 265.8,429.5 265.6,428.4 265.3,428.9 265.1,429.3 264.8,428.3 264.5,427.5 264.3,425.6 264,422.2 263.8,422.5 263.5,420.7 263.3,420.2 263,418.9 262.8,420.2 262.5,420.5 262.2,417.8 262,419.6 261.7,418.6 261.5,417.6 261.2,418.8 261,417.2 260.7,418 260.5,417.4 260.2,417 260,417.6 259.7,418.1 259.4,418.4 259.2,416.5 258.9,418.3 258.7,416 258.4,417.3 258.2,416.7 257.9,415.2 257.7,416.4 257.4,415.6 257.1,416.9 256.9,416.2 256.6,415.9 256.4,415.5 256.1,413.6 255.9,414 255.6,414.1 255.4,412.7 255.1,412.1 254.9,412.4 254.6,413.2 254.3,411.5 254.1,411.9 253.8,413.2 253.6,414.5 253.3,417.9 253.1,416.5 252.8,414.5 252.6,414.7 252.3,413.8 252,413.4 251.8,414 251.5,413.3 251.3,412.8 251,413.9 250.8,415.1 250.5,415.7 250.3,415.1 250,414.1 249.8,413.4 249.5,412 249.2,414.4 249,414.2 248.7,412.2 248.5,416.6 248.2,416.3 248,416.9 247.7,415.3 247.5,414.7 247.2,416.4 247,414.3 246.7,413.2 246.4,413.4 246.2,414.2 245.9,413.8 245.7,412.2 245.4,413.3 245.2,415.3 244.9,415.4 244.7,415.5 244.4,417.3 244.1,417.2 243.9,418.1 243.6,417 243.4,418 243.1,420 242.9,421.4 242.6,422.9 242.4,423.4 242.1,425.3 241.9,425.4 241.6,424.8 241.3,426.7 241.1,425.8 240.8,426.9 240.6,427.5 240.3,427 240.1,426.3 239.8,427 239.6,429.5 239.3,431.6 239,431.5 238.8,429.5 238.5,428.5 238.3,429.1 238,428.1 237.8,427.7 237.5,427 237.3,427.1 237,426.6 236.8,425 236.5,424.3 236.2,424.4 236,422.6 235.7,422.3 235.5,420.8 235.2,420.1 235,419.5 234.7,419.3 234.5,419 234.2,419.8 233.9,422.1 233.7,421.3 233.4,422.4 233.2,419.8 232.9,419.5 232.7,418.3 232.4,420.2 232.2,420.9 231.9,421.3 231.7,420.6 231.4,420.4 231.1,421.2 230.9,422.9 230.6,422.3 230.4,421.9 230.1,421.5 229.9,421.4 229.6,423.4 229.4,425.8 229.1,424.5 228.9,424.8 228.6,425.1 228.3,427.6 228.1,430 227.8,426.9 227.6,426.5 227.3,427.1 227.1,428.9 226.8,427.5 226.6,429.5 226.3,429.6 226,430.9 225.8,429.6 225.5,428.8 225.3,431.7 225,432 224.8,432.1 224.5,433.5 224.3,435.5 224,435.5 223.8,436.5 223.5,437.3 223.2,439.4 223,440.3 222.7,441.5 222.5,441.5 222.2,439.1 222,440 221.7,440.3 221.5,441.9 221.2,440.4 220.9,440.9 220.7,441.5 220.4,442.2 220.2,442 219.9,442.2 219.7,444 219.4,443.8 219.2,444.7 218.9,442.5 218.7,442.3 218.4,441.9 218.1,441.9 217.9,441.9 217.6,440.4 217.4,439.7 217.1,439 216.9,437.8 216.6,439.3 216.4,438.8 216.1,440.2 215.9,438.9 215.6,439.2 215.3,440.7 215.1,439.8 214.8,439.5 214.6,437.9 214.3,437.2 214.1,437.5 213.8,438.5 213.6,438.6 213.3,438.2 213,438.2 212.8,438.1 212.5,439.9 212.3,438.6 212,438.8 211.8,440.1 211.5,440.9 211.3,439.9 211,440.1 210.8,440 210.5,440.9 210.2,441.8 210,441.1 209.7,442 209.5,442.7 209.2,443.4 209,443.4 208.7,443.9 208.5,441.9 208.2,443.5 207.9,442.6 207.7,443 207.4,445 207.2,445.4 206.9,444.5 206.7,442 206.4,443.1 206.2,443.3 205.9,442 205.7,440.2 205.4,440.7 205.1,441.8 204.9,441.3 204.6,441.4 204.4,441.7 204.1,441.3 203.9,442.9 203.6,442 203.4,441.2 203.1,442.5 202.8,441.6 202.6,443.5 202.3,442.1 202.1,442.1 201.8,440.9 201.6,440.5 201.3,437.8 201.1,439 200.8,440 200.6,438.9 200.3,437.7 200,438 199.8,437.4 199.5,438.4 199.3,437.4 199,435.8 198.8,436.9 198.5,435.1 198.3,434.5 198,435.4 197.8,435.5 197.5,434.3 197.2,433.9 197,434.2 196.7,433.5 196.5,433.1 196.2,431.2 196,432.4 195.7,433.7 195.5,433.3 195.2,433 194.9,434 194.7,434.3 194.4,435.2 194.2,438.1 193.9,436.5 193.7,435.7 193.4,436.8 193.2,438 192.9,439.6 192.7,440 192.4,438.8 192.1,438.9 191.9,439.3 191.6,439.8 191.4,440.1 191.1,439.2 190.9,442 190.6,441.4 190.4,439.5 190.1,438 189.8,438.5 189.6,438.1 189.3,437.5 189.1,438.7 188.8,438 188.6,439.2 188.3,439.1 188.1,439.1 187.8,439.6 187.6,440.2 187.3,440.3 187,440.3 186.8,441.7 186.5,441.2 186.3,439.9 186,442.6 185.8,442.7 185.5,442.3 185.3,443.3 185,445 184.8,444.6 184.5,445.8 184.2,443.2 184,443.5 183.7,443.9 183.5,446.3 183.2,444.4 183,444.5 182.7,446.2 182.5,446.1 182.2,443.3 181.9,442.7 181.7,444.6 181.4,444.8 181.2,442 180.9,445 180.7,443.8 180.4,443.4 180.2,442.5 179.9,443.1 179.7,439.9 179.4,440.6 179.1,440.1 178.9,439.5 178.6,439.6 178.4,440.1 178.1,439.3 177.9,438.7 177.6,438.3 177.4,438.9 177.1,437.3 176.8,437.5 176.6,436.1 176.3,434.6 176.1,434.3 175.8,434.8 175.6,435.6 175.3,434.9 175.1,435.6 174.8,432.3 174.6,434.2 174.3,434.2 174,433.2 173.8,433.4 173.5,433.3 173.3,437.2 173,433.6 172.8,432.6 172.5,432.6 172.3,432.1 172,432.8 171.7,430.7 171.5,431.3 171.2,430.6 171,428.9 170.7,430.4 170.5,429.2 170.2,429.9 170,430.9 169.7,430.2 169.5,430.1 169.2,429 168.9,428.1 168.7,427.3 168.4,427.5 168.2,428.1 167.9,426.8 167.7,425.1 167.4,424.9 167.2,426.9 166.9,425.5 166.7,425.4 166.4,426.3 166.1,424.4 165.9,424.6 165.6,425.3 165.4,425.1 165.1,423 164.9,423.8 164.6,418.5 164.4,417.6 164.1,415.8 163.8,416.5 163.6,416.7 163.3,419.4 163.1,416.6 162.8,416.5 162.6,416.1 162.3,415.7 162.1,417.3 161.8,416.2 161.6,415 161.3,415.3 161,414.7 160.8,414 160.5,415.4 160.3,414.5 160,415.4 159.8,414.8 159.5,416.9 159.3,414.6 159,415.7 158.7,414 158.5,414.9 158.2,416.3 158,415.8 157.7,417.2 157.5,418 157.2,417.7 157,417.5 156.7,415.8 156.5,414.7 156.2,417 155.9,417 155.7,416.9 155.4,415.3 155.2,415 154.9,414.9 154.7,416 154.4,414.8 154.2,416 153.9,416 153.6,415.2 153.4,416.7 153.1,416 152.9,416.5 152.6,416.4 152.4,415.4 152.1,416.9 151.9,416.5 151.6,415.8 151.4,416.3 151.1,416 150.8,417.4 150.6,416.5 150.3,418.7 150.1,419.6 149.8,419 149.6,418.3 149.3,420.3 149.1,423.1 148.8,422.2 148.6,423.1 148.3,423.7 148,423.4 147.8,422.7 147.5,423.9 147.3,426.7 147,427.4 146.8,427.3 146.5,425.5 146.3,423.5 146,422 145.7,420.3 145.5,423.1 145.2,424.1 145,421.8 144.7,422.6 144.5,423 144.2,420.8 144,419.1 143.7,419.9 143.5,419.3 143.2,419.5 142.9,418.4 142.7,417.6 142.4,417 142.2,417.2 141.9,417.8 141.7,416.6 141.4,415.6 141.2,415.3 140.9,416.1 140.6,415.7 140.4,416.8 140.1,418.4 139.9,421.6 139.6,419.2 139.4,417.4 139.1,418 138.9,416.3 138.6,415.6 138.4,416.7 138.1,418.1 137.8,418.3 137.6,419.6 137.3,419.2 137.1,420.1 136.8,420.9 136.6,420.4 136.3,418.7 136.1,417.4 135.8,418.1 135.6,417.5 135.3,420 135,419.9 134.8,419.9 134.5,419.6 134.3,421.4 134,420.8 133.8,420.7 133.5,420.4 133.3,421.2 133,421.9 132.7,423.1 132.5,421.9 132.2,423.5 132,426.1 131.7,427.3 131.5,426.1 131.2,425.6 131,426 130.7,425.9 130.5,426.1 130.2,426.4 129.9,426.3 129.7,428.5 129.4,429 129.2,428.1 128.9,429.3 128.7,428.9 128.4,429.2 128.2,430.9 127.9,430.4 127.6,429.9 127.4,432.1 127.1,433.1 126.9,433.1 126.6,434 126.4,432.2 126.1,432.3 125.9,433.6 125.6,434.3 125.4,434.3 125.1,434.1 124.8,434.8 124.6,434.7 124.3,436 124.1,432.4 123.8,431.6 123.6,432.1 123.3,432.3 123.1,433.4 122.8,433.7 122.5,431.8 122.3,431.7 122,431.5 121.8,429.4 121.5,430.9 121.3,430.3 121,432.6 120.8,432.1 120.5,432.5 120.3,430.6 120,429.2Z" fill="#0072B2" fill-opacity="0.2" stroke="#0072B2" stroke-opacity="0.2" stroke-width="1.39" stroke-linejoin="round"/>
<g fill="#000"><circle cx="120" cy="388.3" r="2.75"/><circle cx="120.4" cy="387.5" r="2.75"/><circle cx="120.7" cy="390.2" r="2.75"/><circle cx="121.1" cy="389.6" r="2.75"/><circle cx="121.5" cy="388.5" r="2.75"/><circle cx="121.8" cy="387.6" r="2.75"/><circle cx="122.2" cy="388.9" r="2.75"/><circle cx="122.6" cy="389.2" r="2.75"/><circle cx="123" cy="388.4" r="2.75"/><circle cx="123.3" cy="384.3" r="2.75"/><circle cx="123.7" cy="384.7" r="2.75"/><circle cx="124.1" cy="383.8" r="2.75"/><circle cx="124.4" cy="385.4" r="2.75"/><circle cx="124.8" cy="390.1" r="2.75"/><circle cx="125.2" cy="390.1" r="2.75"/><circle cx="125.5" cy="389.2" r="2.75"/><circle cx="125.9" cy="386.1" r="2.75"/><circle cx="126.3" cy="384" r="2.75"/><circle cx="126.7" cy="390.6" r="2.75"/><circle cx="127" cy="391.7" r="2.75"/><circle cx="127.4" cy="393.6" r="2.75"/><circle cx="127.8" cy="393" r="2.75"/><circle cx="128.1" cy="398.1" r="2.75"/><circle cx="128.5" cy="400.6" r="2.75"/><circle cx="128.9" cy="413.2" r="2.75"/><circle cx="129.2" cy="411.8" r="2.75"/><circle cx="129.6" cy="406.9" r="2.75"/><circle cx="130" cy="411.3" r="2.75"/><circle cx="130.3" cy="407.7" r="2.75"/><circle cx="130.7" cy="413.5" r="2.75"/><circle cx="131.1" cy="414.6" r="2.75"/><circle cx="131.5" cy="417.3" r="2.75"/><circle cx="131.8" cy="411" r="2.75"/><circle cx="132.2" cy="409.3" r="2.75"/><circle cx="132.6" cy="408.3" r="2.75"/><circle cx="132.9" cy="409.8" r="2.75"/><circle cx="133.3" cy="412.5" r="2.75"/><circle cx="133.7" cy="405.5" r="2.75"/><circle cx="134" cy="403.5" r="2.75"/><circle cx="134.4" cy="408.1" r="2.75"/><circle cx="134.8" cy="413.9" r="2.75"/><circle cx="135.1" cy="405.3" r="2.75"/><circle cx="135.5" cy="400" r="2.75"/><circle cx="135.9" cy="411.3" r="2.75"/><circle cx="136.3" cy="415.8" r="2.75"/><circle cx="136.6" cy="419.6" r="2.75"/><circle cx="137" cy="410.3" r="2.75"/><circle cx="137.4" cy="410.9" r="2.75"/><circle cx="137.7" cy="414" r="2.75"/><circle cx="138.1" cy="417" r="2.75"/><circle cx="138.5" cy="415.7" r="2.75"/><circle cx="138.8" cy="416.2" r="2.75"/><circle cx="139.2" cy="422.8" r="2.75"/><circle cx="139.6" cy="419" r="2.75"/><circle cx="140" cy="417.5" r="2.75"/><circle cx="140.3" cy="418.2" r="2.75"/><circle cx="140.7" cy="418.9" r="2.75"/><circle cx="141.1" cy="423" r="2.75"/><circle cx="141.4" cy="424" r="2.75"/><circle cx="141.8" cy="424.3" r="2.75"/><circle cx="142.2" cy="433.7" r="2.75"/><circle cx="142.5" cy="433.6" r="2.75"/><circle cx="142.9" cy="431.5" r="2.75"/><circle cx="143.3" cy="438.6" r="2.75"/><circle cx="143.6" cy="434.4" r="2.75"/><circle cx="144" cy="435.8" r="2.75"/><circle cx="144.4" cy="436.4" r="2.75"/><circle cx="144.8" cy="435.4" r="2.75"/><circle cx="145.1" cy="436.4" r="2.75"/><circle cx="145.5" cy="436.6" r="2.75"/><circle cx="145.9" cy="423.7" r="2.75"/><circle cx="146.2" cy="420.1" r="2.75"/><circle cx="146.6" cy="421.6" r="2.75"/><circle cx="147" cy="419.5" r="2.75"/><circle cx="147.3" cy="415.3" r="2.75"/><circle cx="147.7" cy="418.5" r="2.75"/><circle cx="148.1" cy="416.1" r="2.75"/><circle cx="148.5" cy="409.1" r="2.75"/><circle cx="148.8" cy="405" r="2.75"/><circle cx="149.2" cy="402.8" r="2.75"/><circle cx="149.6" cy="402.5" r="2.75"/><circle cx="149.9" cy="398.4" r="2.75"/><circle cx="150.3" cy="402.7" r="2.75"/><circle cx="150.7" cy="390" r="2.75"/><circle cx="151" cy="391.2" r="2.75"/><circle cx="151.4" cy="386.2" r="2.75"/><circle cx="151.8" cy="366" r="2.75"/><circle cx="152.1" cy="361.6" r="2.75"/><circle cx="152.5" cy="348" r="2.75"/><circle cx="152.9" cy="338.7" r="2.75"/><circle cx="153.3" cy="365.6" r="2.75"/><circle cx="153.6" cy="365.2" r="2.75"/><circle cx="154" cy="350.8" r="2.75"/><circle cx="154.4" cy="344.4" r="2.75"/><circle cx="154.7" cy="339.6" r="2.75"/><circle cx="155.1" cy="346.3" r="2.75"/><circle cx="155.5" cy="346.3" r="2.75"/><circle cx="155.8" cy="331.7" r="2.75"/><circle cx="156.2" cy="328.7" r="2.75"/><circle cx="156.6" cy="329.9" r="2.75"/><circle cx="156.9" cy="332.4" r="2.75"/><circle cx="157.3" cy="333.2" r="2.75"/><circle cx="157.7" cy="331.7" r="2.75"/><circle cx="158.1" cy="341.1" r="2.75"/><circle cx="158.4" cy="348" r="2.75"/><circle cx="158.8" cy="344.4" r="2.75"/><circle cx="159.2" cy="326.7" r="2.75"/><circle cx="159.5" cy="332.1" r="2.75"/><circle cx="159.9" cy="341.5" r="2.75"/><circle cx="160.3" cy="341.4" r="2.75"/><circle cx="160.6" cy="345" r="2.75"/><circle cx="161" cy="346" r="2.75"/><circle cx="161.4" cy="335.8" r="2.75"/><circle cx="161.8" cy="335.4" r="2.75"/><circle cx="162.1" cy="343.1" r="2.75"/><circle cx="162.5" cy="344.2" r="2.75"/><circle cx="162.9" cy="350.9" r="2.75"/><circle cx="163.2" cy="350.1" r="2.75"/><circle cx="163.6" cy="351.1" r="2.75"/><circle cx="164" cy="360.5" r="2.75"/><circle cx="164.3" cy="351.5" r="2.75"/><circle cx="164.7" cy="354.4" r="2.75"/><circle cx="165.1" cy="350.8" r="2.75"/><circle cx="165.4" cy="355.4" r="2.75"/><circle cx="165.8" cy="359.4" r="2.75"/><circle cx="166.2" cy="362.4" r="2.75"/><circle cx="166.6" cy="361.4" r="2.75"/><circle cx="166.9" cy="353.1" r="2.75"/><circle cx="167.3" cy="358.1" r="2.75"/><circle cx="167.7" cy="364.2" r="2.75"/><circle cx="168" cy="367.8" r="2.75"/><circle cx="168.4" cy="370.9" r="2.75"/><circle cx="168.8" cy="370.7" r="2.75"/><circle cx="169.1" cy="360" r="2.75"/><circle cx="169.5" cy="358.1" r="2.75"/><circle cx="169.9" cy="360.7" r="2.75"/><circle cx="170.2" cy="367" r="2.75"/><circle cx="170.6" cy="358.5" r="2.75"/><circle cx="171" cy="365.7" r="2.75"/><circle cx="171.4" cy="368" r="2.75"/><circle cx="171.7" cy="360.3" r="2.75"/><circle cx="172.1" cy="365.8" r="2.75"/><circle cx="172.5" cy="359.8" r="2.75"/><circle cx="172.8" cy="362" r="2.75"/><circle cx="173.2" cy="361.1" r="2.75"/><circle cx="173.6" cy="364.3" r="2.75"/><circle cx="173.9" cy="356" r="2.75"/><circle cx="174.3" cy="363.5" r="2.75"/><circle cx="174.7" cy="352.7" r="2.75"/><circle cx="175.1" cy="354.8" r="2.75"/><circle cx="175.4" cy="356" r="2.75"/><circle cx="175.8" cy="368" r="2.75"/><circle cx="176.2" cy="367.6" r="2.75"/><circle cx="176.5" cy="362.2" r="2.75"/><circle cx="176.9" cy="357.9" r="2.75"/><circle cx="177.3" cy="360.7" r="2.75"/><circle cx="177.6" cy="358.7" r="2.75"/><circle cx="178" cy="372" r="2.75"/><circle cx="178.4" cy="354.5" r="2.75"/><circle cx="178.7" cy="359.4" r="2.75"/><circle cx="179.1" cy="355.1" r="2.75"/><circle cx="179.5" cy="366.4" r="2.75"/><circle cx="179.9" cy="362.7" r="2.75"/><circle cx="180.2" cy="386.4" r="2.75"/><circle cx="180.6" cy="385.4" r="2.75"/><circle cx="181" cy="397.4" r="2.75"/><circle cx="181.3" cy="396.8" r="2.75"/><circle cx="181.7" cy="403.5" r="2.75"/><circle cx="182.1" cy="399.2" r="2.75"/><circle cx="182.4" cy="384.4" r="2.75"/><circle cx="182.8" cy="384.6" r="2.75"/><circle cx="183.2" cy="384.8" r="2.75"/><circle cx="183.6" cy="394.1" r="2.75"/><circle cx="183.9" cy="397.6" r="2.75"/><circle cx="184.3" cy="395.3" r="2.75"/><circle cx="184.7" cy="396.1" r="2.75"/><circle cx="185" cy="394.4" r="2.75"/><circle cx="185.4" cy="389.3" r="2.75"/><circle cx="185.8" cy="398.8" r="2.75"/><circle cx="186.1" cy="394" r="2.75"/><circle cx="186.5" cy="389.4" r="2.75"/><circle cx="186.9" cy="381.6" r="2.75"/><circle cx="187.2" cy="381.9" r="2.75"/><circle cx="187.6" cy="384.6" r="2.75"/><circle cx="188" cy="384.9" r="2.75"/><circle cx="188.4" cy="383.6" r="2.75"/><circle cx="188.7" cy="384.7" r="2.75"/><circle cx="189.1" cy="380.6" r="2.75"/><circle cx="189.5" cy="383.5" r="2.75"/><circle cx="189.8" cy="379.2" r="2.75"/><circle cx="190.2" cy="379.7" r="2.75"/><circle cx="190.6" cy="380.9" r="2.75"/><circle cx="190.9" cy="389" r="2.75"/><circle cx="191.3" cy="391.3" r="2.75"/><circle cx="191.7" cy="390.8" r="2.75"/><circle cx="192" cy="385.2" r="2.75"/><circle cx="192.4" cy="389.5" r="2.75"/><circle cx="192.8" cy="403.1" r="2.75"/><circle cx="193.2" cy="417.2" r="2.75"/><circle cx="193.5" cy="406.3" r="2.75"/><circle cx="193.9" cy="414.8" r="2.75"/><circle cx="194.3" cy="421.7" r="2.75"/><circle cx="194.6" cy="423.4" r="2.75"/><circle cx="195" cy="423.2" r="2.75"/><circle cx="195.4" cy="425.3" r="2.75"/><circle cx="195.7" cy="419.3" r="2.75"/><circle cx="196.1" cy="426.9" r="2.75"/><circle cx="196.5" cy="421" r="2.75"/><circle cx="196.9" cy="422.7" r="2.75"/><circle cx="197.2" cy="425.2" r="2.75"/><circle cx="197.6" cy="428.8" r="2.75"/><circle cx="198" cy="429.4" r="2.75"/><circle cx="198.3" cy="429.5" r="2.75"/><circle cx="198.7" cy="430.7" r="2.75"/><circle cx="199.1" cy="426.3" r="2.75"/><circle cx="199.4" cy="427.6" r="2.75"/><circle cx="199.8" cy="430.7" r="2.75"/><circle cx="200.2" cy="423.6" r="2.75"/><circle cx="200.5" cy="416.7" r="2.75"/><circle cx="200.9" cy="414.8" r="2.75"/><circle cx="201.3" cy="426" r="2.75"/><circle cx="201.7" cy="430.8" r="2.75"/><circle cx="202" cy="424" r="2.75"/><circle cx="202.4" cy="424.2" r="2.75"/><circle cx="202.8" cy="426.2" r="2.75"/><circle cx="203.1" cy="431.8" r="2.75"/><circle cx="203.5" cy="418.6" r="2.75"/><circle cx="203.9" cy="421.6" r="2.75"/><circle cx="204.2" cy="425.5" r="2.75"/><circle cx="204.6" cy="430.9" r="2.75"/><circle cx="205" cy="433.1" r="2.75"/><circle cx="205.4" cy="433.5" r="2.75"/><circle cx="205.7" cy="436" r="2.75"/><circle cx="206.1" cy="430.3" r="2.75"/><circle cx="206.5" cy="443.4" r="2.75"/><circle cx="206.8" cy="443.6" r="2.75"/><circle cx="207.2" cy="444.2" r="2.75"/><circle cx="207.6" cy="440.2" r="2.75"/><circle cx="207.9" cy="442.1" r="2.75"/><circle cx="208.3" cy="446.1" r="2.75"/><circle cx="208.7" cy="446.1" r="2.75"/><circle cx="209" cy="444.7" r="2.75"/><circle cx="209.4" cy="438.2" r="2.75"/><circle cx="209.8" cy="439.6" r="2.75"/><circle cx="210.2" cy="438.6" r="2.75"/><circle cx="210.5" cy="442.1" r="2.75"/><circle cx="210.9" cy="435.9" r="2.75"/><circle cx="211.3" cy="436.9" r="2.75"/><circle cx="211.6" cy="438.9" r="2.75"/><circle cx="212" cy="436.9" r="2.75"/><circle cx="212.4" cy="441.8" r="2.75"/><circle cx="212.7" cy="435.2" r="2.75"/><circle cx="213.1" cy="431.6" r="2.75"/><circle cx="213.5" cy="433.5" r="2.75"/><circle cx="213.8" cy="439.2" r="2.75"/><circle cx="214.2" cy="437.1" r="2.75"/><circle cx="214.6" cy="435" r="2.75"/><circle cx="215" cy="439.5" r="2.75"/><circle cx="215.3" cy="439.1" r="2.75"/><circle cx="215.7" cy="436.1" r="2.75"/><circle cx="216.1" cy="437.1" r="2.75"/><circle cx="216.4" cy="436.1" r="2.75"/><circle cx="216.8" cy="438.7" r="2.75"/><circle cx="217.2" cy="438" r="2.75"/><circle cx="217.5" cy="434.1" r="2.75"/><circle cx="217.9" cy="433.4" r="2.75"/><circle cx="218.3" cy="433.2" r="2.75"/><circle cx="218.7" cy="436" r="2.75"/><circle cx="219" cy="437" r="2.75"/><circle cx="219.4" cy="432.7" r="2.75"/><circle cx="219.8" cy="433" r="2.75"/><circle cx="220.1" cy="434.8" r="2.75"/><circle cx="220.5" cy="438.3" r="2.75"/><circle cx="220.9" cy="436.5" r="2.75"/><circle cx="221.2" cy="440.1" r="2.75"/><circle cx="221.6" cy="436.3" r="2.75"/><circle cx="222" cy="435.7" r="2.75"/><circle cx="222.3" cy="429.7" r="2.75"/><circle cx="222.7" cy="422.2" r="2.75"/><circle cx="223.1" cy="423.5" r="2.75"/><circle cx="223.5" cy="425.7" r="2.75"/><circle cx="223.8" cy="425.1" r="2.75"/><circle cx="224.2" cy="422.2" r="2.75"/><circle cx="224.6" cy="415.8" r="2.75"/><circle cx="224.9" cy="407.7" r="2.75"/><circle cx="225.3" cy="406.3" r="2.75"/><circle cx="225.7" cy="410.3" r="2.75"/><circle cx="226" cy="415.1" r="2.75"/><circle cx="226.4" cy="392" r="2.75"/><circle cx="226.8" cy="398.5" r="2.75"/><circle cx="227.2" cy="406.4" r="2.75"/><circle cx="227.5" cy="409.1" r="2.75"/><circle cx="227.9" cy="403.7" r="2.75"/><circle cx="228.3" cy="402.4" r="2.75"/><circle cx="228.6" cy="394.9" r="2.75"/><circle cx="229" cy="392.5" r="2.75"/><circle cx="229.4" cy="394.5" r="2.75"/><circle cx="229.7" cy="383.9" r="2.75"/><circle cx="230.1" cy="378.4" r="2.75"/><circle cx="230.5" cy="380.1" r="2.75"/><circle cx="230.8" cy="367.7" r="2.75"/><circle cx="231.2" cy="369.9" r="2.75"/><circle cx="231.6" cy="358" r="2.75"/><circle cx="232" cy="364.9" r="2.75"/><circle cx="232.3" cy="366.1" r="2.75"/><circle cx="232.7" cy="360.7" r="2.75"/><circle cx="233.1" cy="353.9" r="2.75"/><circle cx="233.4" cy="354.2" r="2.75"/><circle cx="233.8" cy="349.3" r="2.75"/><circle cx="234.2" cy="351.3" r="2.75"/><circle cx="234.5" cy="360" r="2.75"/><circle cx="234.9" cy="371.5" r="2.75"/><circle cx="235.3" cy="364.6" r="2.75"/><circle cx="235.6" cy="364.4" r="2.75"/><circle cx="236" cy="374.9" r="2.75"/><circle cx="236.4" cy="378.8" r="2.75"/><circle cx="236.8" cy="371.1" r="2.75"/><circle cx="237.1" cy="376.5" r="2.75"/><circle cx="237.5" cy="381" r="2.75"/><circle cx="237.9" cy="380.7" r="2.75"/><circle cx="238.2" cy="370.6" r="2.75"/><circle cx="238.6" cy="366.7" r="2.75"/><circle cx="239" cy="378.4" r="2.75"/><circle cx="239.3" cy="396.1" r="2.75"/><circle cx="239.7" cy="390.4" r="2.75"/><circle cx="240.1" cy="401.4" r="2.75"/><circle cx="240.5" cy="401.6" r="2.75"/><circle cx="240.8" cy="384.7" r="2.75"/><circle cx="241.2" cy="379.6" r="2.75"/><circle cx="241.6" cy="397" r="2.75"/><circle cx="241.9" cy="399.9" r="2.75"/><circle cx="242.3" cy="397.5" r="2.75"/><circle cx="242.7" cy="391.8" r="2.75"/><circle cx="243" cy="394.3" r="2.75"/><circle cx="243.4" cy="384.9" r="2.75"/><circle cx="243.8" cy="401" r="2.75"/><circle cx="244.1" cy="386.1" r="2.75"/><circle cx="244.5" cy="373.8" r="2.75"/><circle cx="244.9" cy="381.7" r="2.75"/><circle cx="245.3" cy="394.2" r="2.75"/><circle cx="245.6" cy="385.7" r="2.75"/><circle cx="246" cy="384.1" r="2.75"/><circle cx="246.4" cy="375.6" r="2.75"/><circle cx="246.7" cy="378.1" r="2.75"/><circle cx="247.1" cy="371.3" r="2.75"/><circle cx="247.5" cy="367.4" r="2.75"/><circle cx="247.8" cy="364.6" r="2.75"/><circle cx="248.2" cy="365.5" r="2.75"/><circle cx="248.6" cy="385.7" r="2.75"/><circle cx="248.9" cy="379.1" r="2.75"/><circle cx="249.3" cy="377.5" r="2.75"/><circle cx="249.7" cy="384.9" r="2.75"/><circle cx="250.1" cy="375.4" r="2.75"/><circle cx="250.4" cy="367.7" r="2.75"/><circle cx="250.8" cy="371.8" r="2.75"/><circle cx="251.2" cy="364.6" r="2.75"/><circle cx="251.5" cy="368.9" r="2.75"/><circle cx="251.9" cy="374.9" r="2.75"/><circle cx="252.3" cy="365.5" r="2.75"/><circle cx="252.6" cy="363.8" r="2.75"/><circle cx="253" cy="375.1" r="2.75"/><circle cx="253.4" cy="364.8" r="2.75"/><circle cx="253.8" cy="363.7" r="2.75"/><circle cx="254.1" cy="369.5" r="2.75"/><circle cx="254.5" cy="369.6" r="2.75"/><circle cx="254.9" cy="367.1" r="2.75"/><circle cx="255.2" cy="382.5" r="2.75"/><circle cx="255.6" cy="376.3" r="2.75"/><circle cx="256" cy="380.3" r="2.75"/><circle cx="256.3" cy="377.7" r="2.75"/><circle cx="256.7" cy="378.4" r="2.75"/><circle cx="257.1" cy="371.3" r="2.75"/><circle cx="257.4" cy="385.2" r="2.75"/><circle cx="257.8" cy="382.4" r="2.75"/><circle cx="258.2" cy="394.4" r="2.75"/><circle cx="258.6" cy="382.4" r="2.75"/><circle cx="258.9" cy="382.1" r="2.75"/><circle cx="259.3" cy="389.7" r="2.75"/><circle cx="259.7" cy="390.6" r="2.75"/><circle cx="260" cy="384.9" r="2.75"/><circle cx="260.4" cy="386.9" r="2.75"/><circle cx="260.8" cy="377.9" r="2.75"/><circle cx="261.1" cy="385.9" r="2.75"/><circle cx="261.5" cy="376.1" r="2.75"/><circle cx="261.9" cy="381.5" r="2.75"/><circle cx="262.3" cy="399.1" r="2.75"/><circle cx="262.6" cy="402.8" r="2.75"/><circle cx="263" cy="403.9" r="2.75"/><circle cx="263.4" cy="393.6" r="2.75"/><circle cx="263.7" cy="396.6" r="2.75"/><circle cx="264.1" cy="390.6" r="2.75"/><circle cx="264.5" cy="390.6" r="2.75"/><circle cx="264.8" cy="390.6" r="2.75"/><circle cx="265.2" cy="378.5" r="2.75"/><circle cx="265.6" cy="387.3" r="2.75"/><circle cx="265.9" cy="393.5" r="2.75"/><circle cx="266.3" cy="399.1" r="2.75"/><circle cx="266.7" cy="388.5" r="2.75"/><circle cx="267.1" cy="395.5" r="2.75"/><circle cx="267.4" cy="397.1" r="2.75"/><circle cx="267.8" cy="380" r="2.75"/><circle cx="268.2" cy="380" r="2.75"/><circle cx="268.5" cy="384.1" r="2.75"/><circle cx="268.9" cy="383.8" r="2.75"/><circle cx="269.3" cy="388" r="2.75"/><circle cx="269.6" cy="385.9" r="2.75"/><circle cx="270" cy="398.8" r="2.75"/><circle cx="270.4" cy="383" r="2.75"/><circle cx="270.7" cy="381.4" r="2.75"/><circle cx="271.1" cy="381.8" r="2.75"/><circle cx="271.5" cy="382.2" r="2.75"/><circle cx="271.9" cy="383.3" r="2.75"/><circle cx="272.2" cy="389.1" r="2.75"/><circle cx="272.6" cy="385.5" r="2.75"/><circle cx="273" cy="395.2" r="2.75"/><circle cx="273.3" cy="407.4" r="2.75"/><circle cx="273.7" cy="413.4" r="2.75"/><circle cx="274.1" cy="415.9" r="2.75"/><circle cx="274.4" cy="415.6" r="2.75"/><circle cx="274.8" cy="410.3" r="2.75"/><circle cx="275.2" cy="415.2" r="2.75"/><circle cx="275.6" cy="414.5" r="2.75"/><circle cx="275.9" cy="414.7" r="2.75"/><circle cx="276.3" cy="407.1" r="2.75"/><circle cx="276.7" cy="385.6" r="2.75"/><circle cx="277" cy="380.4" r="2.75"/><circle cx="277.4" cy="383.8" r="2.75"/><circle cx="277.8" cy="386.9" r="2.75"/><circle cx="278.1" cy="380.3" r="2.75"/><circle cx="278.5" cy="387.5" r="2.75"/><circle cx="278.9" cy="373.2" r="2.75"/><circle cx="279.2" cy="370" r="2.75"/><circle cx="279.6" cy="379.9" r="2.75"/><circle cx="280" cy="376.9" r="2.75"/><circle cx="280.4" cy="375.2" r="2.75"/><circle cx="280.7" cy="381.4" r="2.75"/><circle cx="281.1" cy="381.2" r="2.75"/><circle cx="281.5" cy="370.5" r="2.75"/><circle cx="281.8" cy="371.3" r="2.75"/><circle cx="282.2" cy="361.6" r="2.75"/><circle cx="282.6" cy="365.9" r="2.75"/><circle cx="282.9" cy="369.7" r="2.75"/><circle cx="283.3" cy="360.6" r="2.75"/><circle cx="283.7" cy="372.8" r="2.75"/><circle cx="284.1" cy="377.3" r="2.75"/><circle cx="284.4" cy="376.1" r="2.75"/><circle cx="284.8" cy="376.2" r="2.75"/><circle cx="285.2" cy="376.8" r="2.75"/><circle cx="285.5" cy="372.2" r="2.75"/><circle cx="285.9" cy="374.7" r="2.75"/><circle cx="286.3" cy="372.8" r="2.75"/><circle cx="286.6" cy="363.1" r="2.75"/><circle cx="287" cy="361.7" r="2.75"/><circle cx="287.4" cy="362.8" r="2.75"/><circle cx="287.7" cy="371.5" r="2.75"/><circle cx="288.1" cy="370.8" r="2.75"/><circle cx="288.5" cy="375.4" r="2.75"/><circle cx="288.9" cy="369.9" r="2.75"/><circle cx="289.2" cy="362.8" r="2.75"/><circle cx="289.6" cy="378.3" r="2.75"/><circle cx="290" cy="379.4" r="2.75"/><circle cx="290.3" cy="379.1" r="2.75"/><circle cx="290.7" cy="372.9" r="2.75"/><circle cx="291.1" cy="377.5" r="2.75"/><circle cx="291.4" cy="367.7" r="2.75"/><circle cx="291.8" cy="368.3" r="2.75"/><circle cx="292.2" cy="361.8" r="2.75"/><circle cx="292.5" cy="369.2" r="2.75"/><circle cx="292.9" cy="371.2" r="2.75"/><circle cx="293.3" cy="368.1" r="2.75"/><circle cx="293.7" cy="365.3" r="2.75"/><circle cx="294" cy="360" r="2.75"/><circle cx="294.4" cy="360.5" r="2.75"/><circle cx="294.8" cy="372.2" r="2.75"/><circle cx="295.1" cy="372.4" r="2.75"/><circle cx="295.5" cy="384.8" r="2.75"/><circle cx="295.9" cy="372.4" r="2.75"/><circle cx="296.2" cy="372.9" r="2.75"/><circle cx="296.6" cy="370" r="2.75"/><circle cx="297" cy="370.2" r="2.75"/><circle cx="297.4" cy="378.7" r="2.75"/><circle cx="297.7" cy="370.9" r="2.75"/><circle cx="298.1" cy="388" r="2.75"/><circle cx="298.5" cy="393.4" r="2.75"/><circle cx="298.8" cy="392.9" r="2.75"/><circle cx="299.2" cy="393.9" r="2.75"/><circle cx="299.6" cy="393.6" r="2.75"/><circle cx="299.9" cy="399.1" r="2.75"/><circle cx="300.3" cy="399.1" r="2.75"/><circle cx="300.7" cy="395" r="2.75"/><circle cx="301" cy="397.3" r="2.75"/><circle cx="301.4" cy="402.4" r="2.75"/><circle cx="301.8" cy="401.3" r="2.75"/><circle cx="302.2" cy="398.6" r="2.75"/><circle cx="302.5" cy="398.1" r="2.75"/><circle cx="302.9" cy="393.4" r="2.75"/><circle cx="303.3" cy="391.1" r="2.75"/><circle cx="303.6" cy="383.4" r="2.75"/><circle cx="304" cy="386.4" r="2.75"/><circle cx="304.4" cy="395.4" r="2.75"/><circle cx="304.7" cy="390.8" r="2.75"/><circle cx="305.1" cy="385.2" r="2.75"/><circle cx="305.5" cy="393.1" r="2.75"/><circle cx="305.9" cy="391.9" r="2.75"/><circle cx="306.2" cy="390.9" r="2.75"/><circle cx="306.6" cy="392.3" r="2.75"/><circle cx="307" cy="394.1" r="2.75"/><circle cx="307.3" cy="389.9" r="2.75"/><circle cx="307.7" cy="382.6" r="2.75"/><circle cx="308.1" cy="395.8" r="2.75"/><circle cx="308.4" cy="390.5" r="2.75"/><circle cx="308.8" cy="382.2" r="2.75"/><circle cx="309.2" cy="385" r="2.75"/><circle cx="309.5" cy="393.2" r="2.75"/><circle cx="309.9" cy="378.4" r="2.75"/><circle cx="310.3" cy="391.2" r="2.75"/><circle cx="310.7" cy="386.4" r="2.75"/><circle cx="311" cy="397.3" r="2.75"/><circle cx="311.4" cy="396.2" r="2.75"/><circle cx="311.8" cy="388.3" r="2.75"/><circle cx="312.1" cy="394.8" r="2.75"/><circle cx="312.5" cy="396.2" r="2.75"/><circle cx="312.9" cy="386.5" r="2.75"/><circle cx="313.2" cy="385.7" r="2.75"/><circle cx="313.6" cy="379.5" r="2.75"/><circle cx="314" cy="387.3" r="2.75"/><circle cx="314.3" cy="373.1" r="2.75"/><circle cx="314.7" cy="375.8" r="2.75"/><circle cx="315.1" cy="366.9" r="2.75"/><circle cx="315.5" cy="376.2" r="2.75"/><circle cx="315.8" cy="366.2" r="2.75"/><circle cx="316.2" cy="365.8" r="2.75"/><circle cx="316.6" cy="373.5" r="2.75"/><circle cx="316.9" cy="373.4" r="2.75"/><circle cx="317.3" cy="372.5" r="2.75"/><circle cx="317.7" cy="367.9" r="2.75"/><circle cx="318" cy="369.4" r="2.75"/><circle cx="318.4" cy="363.6" r="2.75"/><circle cx="318.8" cy="371.5" r="2.75"/><circle cx="319.2" cy="380" r="2.75"/><circle cx="319.5" cy="383" r="2.75"/><circle cx="319.9" cy="377.8" r="2.75"/><circle cx="320.3" cy="384.7" r="2.75"/><circle cx="320.6" cy="381.4" r="2.75"/><circle cx="321" cy="383.5" r="2.75"/><circle cx="321.4" cy="379.4" r="2.75"/><circle cx="321.7" cy="374.2" r="2.75"/><circle cx="322.1" cy="364.6" r="2.75"/><circle cx="322.5" cy="353.2" r="2.75"/><circle cx="322.8" cy="360.7" r="2.75"/><circle cx="323.2" cy="361" r="2.75"/><circle cx="323.6" cy="374.5" r="2.75"/><circle cx="324" cy="352.9" r="2.75"/><circle cx="324.3" cy="360.9" r="2.75"/><circle cx="324.7" cy="352.5" r="2.75"/><circle cx="325.1" cy="355" r="2.75"/><circle cx="325.4" cy="350.9" r="2.75"/><circle cx="325.8" cy="356.1" r="2.75"/><circle cx="326.2" cy="356.2" r="2.75"/><circle cx="326.5" cy="361" r="2.75"/><circle cx="326.9" cy="359.1" r="2.75"/><circle cx="327.3" cy="359.8" r="2.75"/><circle cx="327.7" cy="364.1" r="2.75"/><circle cx="328" cy="361.6" r="2.75"/><circle cx="328.4" cy="356.4" r="2.75"/><circle cx="328.8" cy="361.8" r="2.75"/><circle cx="329.1" cy="355.8" r="2.75"/><circle cx="329.5" cy="355.9" r="2.75"/><circle cx="329.9" cy="350.8" r="2.75"/><circle cx="330.2" cy="346" r="2.75"/><circle cx="330.6" cy="338.7" r="2.75"/><circle cx="331" cy="344.9" r="2.75"/><circle cx="331.3" cy="340.4" r="2.75"/><circle cx="331.7" cy="350.7" r="2.75"/><circle cx="332.1" cy="361.5" r="2.75"/><circle cx="332.5" cy="349.4" r="2.75"/><circle cx="332.8" cy="356.8" r="2.75"/><circle cx="333.2" cy="355.1" r="2.75"/><circle cx="333.6" cy="357.9" r="2.75"/><circle cx="333.9" cy="350.9" r="2.75"/><circle cx="334.3" cy="355.3" r="2.75"/><circle cx="334.7" cy="359" r="2.75"/><circle cx="335" cy="368.6" r="2.75"/><circle cx="335.4" cy="372.4" r="2.75"/><circle cx="335.8" cy="373.1" r="2.75"/><circle cx="336.1" cy="367.7" r="2.75"/><circle cx="336.5" cy="377.9" r="2.75"/><circle cx="336.9" cy="374.1" r="2.75"/><circle cx="337.3" cy="371.2" r="2.75"/><circle cx="337.6" cy="371.1" r="2.75"/><circle cx="338" cy="373.4" r="2.75"/><circle cx="338.4" cy="376" r="2.75"/><circle cx="338.7" cy="370.5" r="2.75"/><circle cx="339.1" cy="370.9" r="2.75"/><circle cx="339.5" cy="380.9" r="2.75"/><circle cx="339.8" cy="379.8" r="2.75"/><circle cx="340.2" cy="377.6" r="2.75"/><circle cx="340.6" cy="374" r="2.75"/><circle cx="341" cy="369.7" r="2.75"/><circle cx="341.3" cy="372.7" r="2.75"/><circle cx="341.7" cy="367.3" r="2.75"/><circle cx="342.1" cy="367" r="2.75"/><circle cx="342.4" cy="363.4" r="2.75"/><circle cx="342.8" cy="360.2" r="2.75"/><circle cx="343.2" cy="360.7" r="2.75"/><circle cx="343.5" cy="360" r="2.75"/><circle cx="343.9" cy="356.1" r="2.75"/><circle cx="344.3" cy="355.9" r="2.75"/><circle cx="344.6" cy="355.8" r="2.75"/><circle cx="345" cy="352.4" r="2.75"/><circle cx="345.4" cy="349.4" r="2.75"/><circle cx="345.8" cy="350.1" r="2.75"/><circle cx="346.1" cy="354.2" r="2.75"/><circle cx="346.5" cy="357.5" r="2.75"/><circle cx="346.9" cy="353.6" r="2.75"/><circle cx="347.2" cy="348.9" r="2.75"/><circle cx="347.6" cy="348" r="2.75"/><circle cx="348" cy="356.4" r="2.75"/><circle cx="348.3" cy="355.9" r="2.75"/><circle cx="348.7" cy="346.4" r="2.75"/><circle cx="349.1" cy="346.3" r="2.75"/><circle cx="349.4" cy="346.1" r="2.75"/><circle cx="349.8" cy="348.6" r="2.75"/><circle cx="350.2" cy="346.1" r="2.75"/><circle cx="350.6" cy="353.2" r="2.75"/><circle cx="350.9" cy="352" r="2.75"/><circle cx="351.3" cy="356.4" r="2.75"/><circle cx="351.7" cy="368.3" r="2.75"/><circle cx="352" cy="372" r="2.75"/><circle cx="352.4" cy="366.6" r="2.75"/><circle cx="352.8" cy="364.6" r="2.75"/><circle cx="353.1" cy="365.3" r="2.75"/><circle cx="353.5" cy="365.6" r="2.75"/><circle cx="353.9" cy="367.4" r="2.75"/><circle cx="354.3" cy="370" r="2.75"/><circle cx="354.6" cy="368.2" r="2.75"/><circle cx="355" cy="373.9" r="2.75"/><circle cx="355.4" cy="373.3" r="2.75"/><circle cx="355.7" cy="371" r="2.75"/><circle cx="356.1" cy="378.3" r="2.75"/><circle cx="356.5" cy="377.5" r="2.75"/><circle cx="356.8" cy="374.3" r="2.75"/><circle cx="357.2" cy="377.6" r="2.75"/><circle cx="357.6" cy="376.8" r="2.75"/><circle cx="357.9" cy="370.3" r="2.75"/><circle cx="358.3" cy="370" r="2.75"/><circle cx="358.7" cy="366.1" r="2.75"/><circle cx="359.1" cy="359.4" r="2.75"/><circle cx="359.4" cy="370.8" r="2.75"/><circle cx="359.8" cy="372.9" r="2.75"/><circle cx="360.2" cy="362.6" r="2.75"/><circle cx="360.5" cy="365.3" r="2.75"/><circle cx="360.9" cy="355.8" r="2.75"/><circle cx="361.3" cy="364.6" r="2.75"/><circle cx="361.6" cy="362.7" r="2.75"/><circle cx="362" cy="360.3" r="2.75"/><circle cx="362.4" cy="367.1" r="2.75"/><circle cx="362.8" cy="363.3" r="2.75"/><circle cx="363.1" cy="359.7" r="2.75"/><circle cx="363.5" cy="364.4" r="2.75"/><circle cx="363.9" cy="359.3" r="2.75"/><circle cx="364.2" cy="363.6" r="2.75"/><circle cx="364.6" cy="360.1" r="2.75"/><circle cx="365" cy="363.3" r="2.75"/><circle cx="365.3" cy="363.3" r="2.75"/><circle cx="365.7" cy="364" r="2.75"/><circle cx="366.1" cy="352.7" r="2.75"/><circle cx="366.4" cy="365.9" r="2.75"/><circle cx="366.8" cy="358.3" r="2.75"/><circle cx="367.2" cy="365.5" r="2.75"/><circle cx="367.6" cy="354.9" r="2.75"/><circle cx="367.9" cy="350.6" r="2.75"/><circle cx="368.3" cy="348.1" r="2.75"/><circle cx="368.7" cy="355.4" r="2.75"/><circle cx="369" cy="347.8" r="2.75"/><circle cx="369.4" cy="349" r="2.75"/><circle cx="369.8" cy="336.7" r="2.75"/><circle cx="370.1" cy="337.2" r="2.75"/><circle cx="370.5" cy="341.1" r="2.75"/><circle cx="370.9" cy="340.2" r="2.75"/><circle cx="371.2" cy="329.6" r="2.75"/><circle cx="371.6" cy="337" r="2.75"/><circle cx="372" cy="331.4" r="2.75"/><circle cx="372.4" cy="345.7" r="2.75"/><circle cx="372.7" cy="338.7" r="2.75"/><circle cx="373.1" cy="345.4" r="2.75"/><circle cx="373.5" cy="344.3" r="2.75"/><circle cx="373.8" cy="340.2" r="2.75"/><circle cx="374.2" cy="331.4" r="2.75"/><circle cx="374.6" cy="329" r="2.75"/><circle cx="374.9" cy="331.1" r="2.75"/><circle cx="375.3" cy="315" r="2.75"/><circle cx="375.7" cy="326.9" r="2.75"/><circle cx="376.1" cy="316.3" r="2.75"/><circle cx="376.4" cy="317.1" r="2.75"/><circle cx="376.8" cy="307.4" r="2.75"/><circle cx="377.2" cy="312.4" r="2.75"/><circle cx="377.5" cy="320.8" r="2.75"/><circle cx="377.9" cy="320.3" r="2.75"/><circle cx="378.3" cy="317.8" r="2.75"/><circle cx="378.6" cy="308.8" r="2.75"/><circle cx="379" cy="306.9" r="2.75"/><circle cx="379.4" cy="311.7" r="2.75"/><circle cx="379.7" cy="299.7" r="2.75"/><circle cx="380.1" cy="298.9" r="2.75"/><circle cx="380.5" cy="297.5" r="2.75"/><circle cx="380.9" cy="288.3" r="2.75"/><circle cx="381.2" cy="284.9" r="2.75"/><circle cx="381.6" cy="281.3" r="2.75"/><circle cx="382" cy="273.7" r="2.75"/><circle cx="382.3" cy="283.7" r="2.75"/><circle cx="382.7" cy="273.1" r="2.75"/><circle cx="383.1" cy="277.3" r="2.75"/><circle cx="383.4" cy="273.6" r="2.75"/><circle cx="383.8" cy="250.2" r="2.75"/><circle cx="384.2" cy="252.7" r="2.75"/><circle cx="384.6" cy="256.9" r="2.75"/><circle cx="384.9" cy="254.7" r="2.75"/><circle cx="385.3" cy="244.4" r="2.75"/><circle cx="385.7" cy="251.1" r="2.75"/><circle cx="386" cy="256.2" r="2.75"/><circle cx="386.4" cy="264.9" r="2.75"/><circle cx="386.8" cy="284.5" r="2.75"/><circle cx="387.1" cy="303.7" r="2.75"/><circle cx="387.5" cy="328.3" r="2.75"/><circle cx="387.9" cy="337.3" r="2.75"/><circle cx="388.2" cy="348.9" r="2.75"/><circle cx="388.6" cy="352.9" r="2.75"/><circle cx="389" cy="364.6" r="2.75"/><circle cx="389.4" cy="370.1" r="2.75"/><circle cx="389.7" cy="371.7" r="2.75"/><circle cx="390.1" cy="353.5" r="2.75"/><circle cx="390.5" cy="334.9" r="2.75"/><circle cx="390.8" cy="327.6" r="2.75"/><circle cx="391.2" cy="327" r="2.75"/><circle cx="391.6" cy="302.1" r="2.75"/><circle cx="391.9" cy="296.7" r="2.75"/><circle cx="392.3" cy="282.2" r="2.75"/><circle cx="392.7" cy="291.3" r="2.75"/><circle cx="393" cy="286.4" r="2.75"/><circle cx="393.4" cy="276.7" r="2.75"/><circle cx="393.8" cy="269.8" r="2.75"/><circle cx="394.2" cy="264.9" r="2.75"/><circle cx="394.5" cy="265.9" r="2.75"/><circle cx="394.9" cy="258.3" r="2.75"/><circle cx="395.3" cy="249.6" r="2.75"/><circle cx="395.6" cy="240.3" r="2.75"/><circle cx="396" cy="245.3" r="2.75"/><circle cx="396.4" cy="236.6" r="2.75"/><circle cx="396.7" cy="249.2" r="2.75"/><circle cx="397.1" cy="220" r="2.75"/><circle cx="397.5" cy="233.3" r="2.75"/><circle cx="397.9" cy="241" r="2.75"/><circle cx="398.2" cy="252.3" r="2.75"/><circle cx="398.6" cy="239.3" r="2.75"/><circle cx="399" cy="218.4" r="2.75"/><circle cx="399.3" cy="215.7" r="2.75"/><circle cx="399.7" cy="238" r="2.75"/><circle cx="400.1" cy="231.2" r="2.75"/><circle cx="400.4" cy="227.4" r="2.75"/><circle cx="400.8" cy="223.7" r="2.75"/><circle cx="401.2" cy="228.4" r="2.75"/><circle cx="401.5" cy="228.7" r="2.75"/><circle cx="401.9" cy="212.3" r="2.75"/><circle cx="402.3" cy="216.9" r="2.75"/><circle cx="402.7" cy="240.1" r="2.75"/><circle cx="403" cy="257" r="2.75"/><circle cx="403.4" cy="244.1" r="2.75"/><circle cx="403.8" cy="232.9" r="2.75"/><circle cx="404.1" cy="254.6" r="2.75"/><circle cx="404.5" cy="245.6" r="2.75"/><circle cx="404.9" cy="232.5" r="2.75"/><circle cx="405.2" cy="240.3" r="2.75"/><circle cx="405.6" cy="252.5" r="2.75"/><circle cx="406" cy="265" r="2.75"/><circle cx="406.4" cy="250.8" r="2.75"/><circle cx="406.7" cy="251.7" r="2.75"/><circle cx="407.1" cy="241.2" r="2.75"/><circle cx="407.5" cy="252.3" r="2.75"/><circle cx="407.8" cy="245.4" r="2.75"/><circle cx="408.2" cy="240.6" r="2.75"/><circle cx="408.6" cy="217.1" r="2.75"/><circle cx="408.9" cy="215.1" r="2.75"/><circle cx="409.3" cy="213.9" r="2.75"/><circle cx="409.7" cy="196.2" r="2.75"/><circle cx="410" cy="207.1" r="2.75"/><circle cx="410.4" cy="211.5" r="2.75"/><circle cx="410.8" cy="209.8" r="2.75"/><circle cx="411.2" cy="207.7" r="2.75"/><circle cx="411.5" cy="212.3" r="2.75"/><circle cx="411.9" cy="217.5" r="2.75"/><circle cx="412.3" cy="203.1" r="2.75"/><circle cx="412.6" cy="213.4" r="2.75"/><circle cx="413" cy="218.9" r="2.75"/><circle cx="413.4" cy="221.1" r="2.75"/><circle cx="413.7" cy="203.4" r="2.75"/><circle cx="414.1" cy="210.5" r="2.75"/><circle cx="414.5" cy="198.8" r="2.75"/><circle cx="414.8" cy="210.7" r="2.75"/><circle cx="415.2" cy="223.1" r="2.75"/><circle cx="415.6" cy="221.6" r="2.75"/><circle cx="416" cy="208.7" r="2.75"/><circle cx="416.3" cy="198.8" r="2.75"/><circle cx="416.7" cy="191.4" r="2.75"/><circle cx="417.1" cy="193.7" r="2.75"/><circle cx="417.4" cy="183" r="2.75"/><circle cx="417.8" cy="176.8" r="2.75"/><circle cx="418.2" cy="160.5" r="2.75"/><circle cx="452.5" cy="145.3" r="2.75"/><circle cx="452.9" cy="150" r="2.75"/><circle cx="453.3" cy="145" r="2.75"/><circle cx="453.6" cy="142.3" r="2.75"/><circle cx="454" cy="158.7" r="2.75"/><circle cx="454.4" cy="140.9" r="2.75"/><circle cx="454.8" cy="153.6" r="2.75"/><circle cx="455.9" cy="165.5" r="2.75"/><circle cx="456.2" cy="169.8" r="2.75"/><circle cx="456.6" cy="152.1" r="2.75"/><circle cx="457" cy="161.2" r="2.75"/><circle cx="457.7" cy="156.1" r="2.75"/><circle cx="458.1" cy="165" r="2.75"/><circle cx="458.4" cy="171.2" r="2.75"/><circle cx="458.8" cy="159.8" r="2.75"/><circle cx="459.2" cy="145.9" r="2.75"/><circle cx="459.6" cy="158.3" r="2.75"/><circle cx="461" cy="149.6" r="2.75"/><circle cx="461.4" cy="151.1" r="2.75"/><circle cx="461.8" cy="171.9" r="2.75"/><circle cx="462.1" cy="151.8" r="2.75"/><circle cx="462.9" cy="157.1" r="2.75"/><circle cx="463.3" cy="159.3" r="2.75"/><circle cx="464.4" cy="167.1" r="2.75"/><circle cx="465.5" cy="158.9" r="2.75"/><circle cx="466.2" cy="161" r="2.75"/><circle cx="466.6" cy="166.8" r="2.75"/><circle cx="466.9" cy="168.1" r="2.75"/><circle cx="467.3" cy="152.5" r="2.75"/><circle cx="468.1" cy="163.1" r="2.75"/><circle cx="468.4" cy="172.8" r="2.75"/><circle cx="468.8" cy="171.5" r="2.75"/><circle cx="469.5" cy="160.2" r="2.75"/><circle cx="469.9" cy="152" r="2.75"/><circle cx="470.6" cy="157.4" r="2.75"/><circle cx="471" cy="156" r="2.75"/><circle cx="471.4" cy="154.6" r="2.75"/><circle cx="472.9" cy="161.9" r="2.75"/><circle cx="473.2" cy="159" r="2.75"/><circle cx="473.6" cy="159.7" r="2.75"/><circle cx="474.7" cy="153.1" r="2.75"/><circle cx="475.1" cy="166.1" r="2.75"/><circle cx="475.8" cy="184.5" r="2.75"/><circle cx="476.6" cy="195.2" r="2.75"/><circle cx="477.3" cy="195" r="2.75"/><circle cx="477.7" cy="193.7" r="2.75"/><circle cx="478" cy="204" r="2.75"/><circle cx="478.4" cy="205.3" r="2.75"/><circle cx="478.8" cy="212" r="2.75"/><circle cx="479.1" cy="204.3" r="2.75"/><circle cx="479.5" cy="206.4" r="2.75"/><circle cx="479.9" cy="203.3" r="2.75"/><circle cx="480.2" cy="203.6" r="2.75"/><circle cx="480.6" cy="202.6" r="2.75"/><circle cx="481" cy="198.1" r="2.75"/><circle cx="481.4" cy="211.7" r="2.75"/><circle cx="481.7" cy="212.2" r="2.75"/><circle cx="482.1" cy="218.9" r="2.75"/><circle cx="482.5" cy="205.9" r="2.75"/><circle cx="482.8" cy="195.9" r="2.75"/><circle cx="483.2" cy="198.2" r="2.75"/><circle cx="483.6" cy="204.6" r="2.75"/><circle cx="483.9" cy="214.9" r="2.75"/><circle cx="484.3" cy="221.6" r="2.75"/><circle cx="484.7" cy="225.4" r="2.75"/><circle cx="485.1" cy="225.9" r="2.75"/><circle cx="485.4" cy="226.4" r="2.75"/><circle cx="485.8" cy="221.7" r="2.75"/><circle cx="486.2" cy="214.1" r="2.75"/><circle cx="486.5" cy="220.5" r="2.75"/><circle cx="486.9" cy="216.1" r="2.75"/><circle cx="487.3" cy="212.6" r="2.75"/><circle cx="487.6" cy="220.4" r="2.75"/><circle cx="488" cy="222" r="2.75"/><circle cx="488.4" cy="227.2" r="2.75"/><circle cx="488.7" cy="219.8" r="2.75"/><circle cx="489.1" cy="229.1" r="2.75"/><circle cx="489.5" cy="228.4" r="2.75"/><circle cx="489.9" cy="225.1" r="2.75"/><circle cx="490.2" cy="220.8" r="2.75"/><circle cx="490.6" cy="218.8" r="2.75"/><circle cx="491" cy="219.4" r="2.75"/><circle cx="491.3" cy="230.6" r="2.75"/><circle cx="491.7" cy="226.4" r="2.75"/><circle cx="492.1" cy="234.4" r="2.75"/><circle cx="492.4" cy="238.2" r="2.75"/><circle cx="492.8" cy="241.4" r="2.75"/><circle cx="493.2" cy="245.8" r="2.75"/><circle cx="493.5" cy="251.3" r="2.75"/><circle cx="493.9" cy="258.9" r="2.75"/><circle cx="494.3" cy="263.3" r="2.75"/><circle cx="494.7" cy="265.1" r="2.75"/><circle cx="495" cy="261.1" r="2.75"/><circle cx="495.4" cy="260.8" r="2.75"/><circle cx="495.8" cy="278.3" r="2.75"/><circle cx="496.1" cy="272.8" r="2.75"/><circle cx="496.5" cy="268" r="2.75"/><circle cx="496.9" cy="285.7" r="2.75"/><circle cx="497.2" cy="275" r="2.75"/><circle cx="497.6" cy="287.1" r="2.75"/><circle cx="498" cy="294.1" r="2.75"/><circle cx="498.4" cy="292.7" r="2.75"/><circle cx="498.7" cy="297.5" r="2.75"/><circle cx="499.1" cy="283.9" r="2.75"/><circle cx="499.5" cy="279.7" r="2.75"/><circle cx="499.8" cy="285.2" r="2.75"/><circle cx="500.2" cy="288.8" r="2.75"/><circle cx="500.6" cy="289.6" r="2.75"/><circle cx="500.9" cy="293.7" r="2.75"/><circle cx="501.3" cy="287.1" r="2.75"/><circle cx="501.7" cy="278.3" r="2.75"/><circle cx="502" cy="286.1" r="2.75"/><circle cx="502.4" cy="287" r="2.75"/><circle cx="502.8" cy="294.8" r="2.75"/><circle cx="503.2" cy="302.8" r="2.75"/><circle cx="503.5" cy="297.8" r="2.75"/><circle cx="503.9" cy="296.8" r="2.75"/><circle cx="504.3" cy="283.6" r="2.75"/><circle cx="504.6" cy="292.4" r="2.75"/><circle cx="505" cy="291.1" r="2.75"/><circle cx="505.4" cy="289.1" r="2.75"/><circle cx="505.7" cy="292.9" r="2.75"/><circle cx="506.1" cy="278.6" r="2.75"/><circle cx="506.5" cy="284.3" r="2.75"/><circle cx="506.8" cy="285.4" r="2.75"/><circle cx="507.2" cy="291.1" r="2.75"/><circle cx="507.6" cy="275" r="2.75"/><circle cx="508" cy="279.7" r="2.75"/><circle cx="508.3" cy="296.6" r="2.75"/><circle cx="508.7" cy="290.9" r="2.75"/><circle cx="509.1" cy="288" r="2.75"/><circle cx="509.4" cy="305.4" r="2.75"/><circle cx="509.8" cy="308.4" r="2.75"/><circle cx="510.2" cy="310" r="2.75"/><circle cx="510.5" cy="299.7" r="2.75"/><circle cx="510.9" cy="298.4" r="2.75"/><circle cx="511.3" cy="301.2" r="2.75"/><circle cx="511.7" cy="301.8" r="2.75"/><circle cx="512" cy="304.5" r="2.75"/><circle cx="512.4" cy="312.4" r="2.75"/><circle cx="512.8" cy="315" r="2.75"/><circle cx="513.1" cy="318.2" r="2.75"/><circle cx="513.5" cy="318.1" r="2.75"/><circle cx="513.9" cy="313.1" r="2.75"/><circle cx="514.2" cy="319.7" r="2.75"/><circle cx="514.6" cy="320.9" r="2.75"/><circle cx="515" cy="318.3" r="2.75"/><circle cx="515.3" cy="318.5" r="2.75"/><circle cx="515.7" cy="321.4" r="2.75"/><circle cx="516.1" cy="321.8" r="2.75"/><circle cx="516.5" cy="321.3" r="2.75"/><circle cx="516.8" cy="325.2" r="2.75"/><circle cx="517.2" cy="328.4" r="2.75"/><circle cx="517.6" cy="324.2" r="2.75"/><circle cx="517.9" cy="324.3" r="2.75"/><circle cx="518.3" cy="319.9" r="2.75"/><circle cx="518.7" cy="322.6" r="2.75"/><circle cx="519" cy="327.4" r="2.75"/><circle cx="519.4" cy="332.1" r="2.75"/><circle cx="519.8" cy="331.4" r="2.75"/><circle cx="520.2" cy="330" r="2.75"/><circle cx="520.5" cy="326.6" r="2.75"/><circle cx="520.9" cy="329.7" r="2.75"/><circle cx="521.3" cy="325.8" r="2.75"/><circle cx="521.6" cy="329.5" r="2.75"/><circle cx="522" cy="330.8" r="2.75"/><circle cx="522.4" cy="326" r="2.75"/><circle cx="522.7" cy="326.8" r="2.75"/><circle cx="523.1" cy="324.3" r="2.75"/><circle cx="523.5" cy="324" r="2.75"/><circle cx="523.8" cy="319.1" r="2.75"/><circle cx="524.2" cy="315.1" r="2.75"/><circle cx="524.6" cy="316.6" r="2.75"/><circle cx="525" cy="308" r="2.75"/><circle cx="525.3" cy="307.7" r="2.75"/><circle cx="525.7" cy="297.6" r="2.75"/><circle cx="526.1" cy="294.4" r="2.75"/><circle cx="526.4" cy="285.2" r="2.75"/><circle cx="526.8" cy="288" r="2.75"/><circle cx="527.2" cy="284.1" r="2.75"/><circle cx="527.5" cy="288.5" r="2.75"/><circle cx="527.9" cy="283.7" r="2.75"/><circle cx="528.3" cy="284.8" r="2.75"/><circle cx="528.6" cy="291.9" r="2.75"/><circle cx="529" cy="298.5" r="2.75"/><circle cx="529.4" cy="289" r="2.75"/><circle cx="529.8" cy="293.6" r="2.75"/><circle cx="530.1" cy="315.4" r="2.75"/><circle cx="530.5" cy="316.5" r="2.75"/><circle cx="530.9" cy="311.6" r="2.75"/><circle cx="531.2" cy="291.2" r="2.75"/><circle cx="531.6" cy="291.6" r="2.75"/><circle cx="532" cy="303.6" r="2.75"/><circle cx="532.3" cy="308" r="2.75"/><circle cx="532.7" cy="312.3" r="2.75"/><circle cx="533.1" cy="318.7" r="2.75"/><circle cx="533.5" cy="314.7" r="2.75"/><circle cx="533.8" cy="319.3" r="2.75"/><circle cx="534.2" cy="301.3" r="2.75"/><circle cx="534.6" cy="324.6" r="2.75"/><circle cx="534.9" cy="316.7" r="2.75"/><circle cx="535.3" cy="307.7" r="2.75"/><circle cx="535.7" cy="317.5" r="2.75"/><circle cx="536" cy="314" r="2.75"/><circle cx="536.4" cy="313.7" r="2.75"/><circle cx="536.8" cy="300.3" r="2.75"/><circle cx="537.1" cy="299.5" r="2.75"/><circle cx="537.5" cy="301" r="2.75"/><circle cx="537.9" cy="288.8" r="2.75"/><circle cx="538.3" cy="290.2" r="2.75"/><circle cx="538.6" cy="290.6" r="2.75"/><circle cx="539" cy="290.3" r="2.75"/><circle cx="539.4" cy="287.5" r="2.75"/><circle cx="539.7" cy="282.9" r="2.75"/><circle cx="540.1" cy="291.1" r="2.75"/><circle cx="540.5" cy="293.1" r="2.75"/><circle cx="540.8" cy="298.8" r="2.75"/><circle cx="541.2" cy="294" r="2.75"/><circle cx="541.6" cy="288.5" r="2.75"/><circle cx="542" cy="282" r="2.75"/><circle cx="542.3" cy="286.6" r="2.75"/><circle cx="542.7" cy="286.4" r="2.75"/><circle cx="543.1" cy="297.5" r="2.75"/><circle cx="543.4" cy="297.5" r="2.75"/><circle cx="543.8" cy="297.5" r="2.75"/><circle cx="544.2" cy="290.2" r="2.75"/><circle cx="544.5" cy="280.4" r="2.75"/><circle cx="544.9" cy="282.4" r="2.75"/><circle cx="545.3" cy="282.9" r="2.75"/><circle cx="545.6" cy="299.3" r="2.75"/><circle cx="546" cy="301.4" r="2.75"/><circle cx="546.4" cy="302.3" r="2.75"/><circle cx="546.8" cy="305.4" r="2.75"/><circle cx="547.1" cy="313.6" r="2.75"/><circle cx="547.5" cy="307.8" r="2.75"/><circle cx="547.9" cy="313.2" r="2.75"/><circle cx="548.2" cy="307.7" r="2.75"/><circle cx="548.6" cy="311.8" r="2.75"/><circle cx="549" cy="311.9" r="2.75"/><circle cx="549.3" cy="317.3" r="2.75"/><circle cx="549.7" cy="319.5" r="2.75"/><circle cx="550.1" cy="326.5" r="2.75"/><circle cx="550.4" cy="327.6" r="2.75"/><circle cx="550.8" cy="321.8" r="2.75"/><circle cx="551.2" cy="315.8" r="2.75"/><circle cx="551.6" cy="324" r="2.75"/><circle cx="551.9" cy="335.9" r="2.75"/><circle cx="552.3" cy="347.4" r="2.75"/><circle cx="552.7" cy="352" r="2.75"/><circle cx="553" cy="360.5" r="2.75"/><circle cx="553.4" cy="364.8" r="2.75"/><circle cx="553.8" cy="362.3" r="2.75"/><circle cx="554.1" cy="360.9" r="2.75"/><circle cx="554.5" cy="362.3" r="2.75"/><circle cx="554.9" cy="364.7" r="2.75"/><circle cx="555.3" cy="366.8" r="2.75"/><circle cx="555.6" cy="359.8" r="2.75"/><circle cx="556" cy="363.8" r="2.75"/><circle cx="556.4" cy="361.6" r="2.75"/><circle cx="556.7" cy="367.3" r="2.75"/><circle cx="557.1" cy="377.2" r="2.75"/><circle cx="557.5" cy="370.5" r="2.75"/><circle cx="557.8" cy="378.3" r="2.75"/><circle cx="558.2" cy="377.7" r="2.75"/><circle cx="558.6" cy="378.2" r="2.75"/><circle cx="558.9" cy="401.3" r="2.75"/><circle cx="559.3" cy="405.1" r="2.75"/><circle cx="559.7" cy="405.2" r="2.75"/><circle cx="560.1" cy="393.5" r="2.75"/><circle cx="560.4" cy="398.7" r="2.75"/><circle cx="560.8" cy="400.2" r="2.75"/><circle cx="561.2" cy="406.1" r="2.75"/><circle cx="561.5" cy="403.2" r="2.75"/><circle cx="561.9" cy="408.4" r="2.75"/><circle cx="562.3" cy="410.6" r="2.75"/><circle cx="562.6" cy="405.9" r="2.75"/><circle cx="563" cy="423.2" r="2.75"/><circle cx="563.4" cy="425.5" r="2.75"/><circle cx="563.8" cy="417.5" r="2.75"/><circle cx="564.1" cy="410.8" r="2.75"/><circle cx="564.5" cy="412.6" r="2.75"/><circle cx="564.9" cy="413.4" r="2.75"/><circle cx="565.2" cy="415" r="2.75"/><circle cx="565.6" cy="413.1" r="2.75"/><circle cx="566" cy="413.5" r="2.75"/><circle cx="566.3" cy="418.5" r="2.75"/><circle cx="566.7" cy="422.5" r="2.75"/><circle cx="567.1" cy="414.6" r="2.75"/><circle cx="567.4" cy="418.7" r="2.75"/><circle cx="567.8" cy="416.3" r="2.75"/><circle cx="568.2" cy="414.7" r="2.75"/><circle cx="568.6" cy="417.1" r="2.75"/><circle cx="568.9" cy="416.3" r="2.75"/><circle cx="569.3" cy="422.5" r="2.75"/><circle cx="569.7" cy="425.3" r="2.75"/><circle cx="570" cy="421.5" r="2.75"/><circle cx="570.4" cy="417.6" r="2.75"/><circle cx="570.8" cy="427.4" r="2.75"/><circle cx="571.1" cy="427.7" r="2.75"/><circle cx="571.5" cy="426.1" r="2.75"/><circle cx="571.9" cy="420.9" r="2.75"/><circle cx="572.2" cy="423.4" r="2.75"/><circle cx="572.6" cy="424.8" r="2.75"/><circle cx="573" cy="418.6" r="2.75"/><circle cx="573.4" cy="423.3" r="2.75"/><circle cx="573.7" cy="418.9" r="2.75"/><circle cx="574.1" cy="420.8" r="2.75"/><circle cx="574.5" cy="415.9" r="2.75"/><circle cx="574.8" cy="415.6" r="2.75"/><circle cx="575.2" cy="413.7" r="2.75"/><circle cx="575.6" cy="414.3" r="2.75"/><circle cx="575.9" cy="417.6" r="2.75"/><circle cx="576.3" cy="412.8" r="2.75"/><circle cx="576.7" cy="412.4" r="2.75"/><circle cx="577.1" cy="415.1" r="2.75"/><circle cx="577.4" cy="412.6" r="2.75"/><circle cx="577.8" cy="419.6" r="2.75"/><circle cx="578.2" cy="408.2" r="2.75"/><circle cx="578.5" cy="418.7" r="2.75"/><circle cx="578.9" cy="410.2" r="2.75"/><circle cx="579.3" cy="414" r="2.75"/><circle cx="579.6" cy="417.5" r="2.75"/><circle cx="580" cy="415.9" r="2.75"/><circle cx="580.4" cy="400.6" r="2.75"/><circle cx="580.7" cy="401.1" r="2.75"/><circle cx="581.1" cy="404.1" r="2.75"/><circle cx="581.5" cy="409.5" r="2.75"/><circle cx="581.9" cy="414.9" r="2.75"/><circle cx="582.2" cy="418.2" r="2.75"/><circle cx="582.6" cy="418.8" r="2.75"/><circle cx="583" cy="411.4" r="2.75"/><circle cx="583.3" cy="416.7" r="2.75"/><circle cx="583.7" cy="408.8" r="2.75"/><circle cx="584.1" cy="412.5" r="2.75"/><circle cx="584.4" cy="410" r="2.75"/><circle cx="584.8" cy="408.9" r="2.75"/><circle cx="585.2" cy="414.7" r="2.75"/><circle cx="585.6" cy="415.3" r="2.75"/><circle cx="585.9" cy="419" r="2.75"/><circle cx="586.3" cy="412.7" r="2.75"/><circle cx="586.7" cy="411.4" r="2.75"/><circle cx="587" cy="414.4" r="2.75"/><circle cx="587.4" cy="414.3" r="2.75"/><circle cx="587.8" cy="416.4" r="2.75"/><circle cx="588.1" cy="415.5" r="2.75"/><circle cx="588.5" cy="415.9" r="2.75"/><circle cx="588.9" cy="414.1" r="2.75"/><circle cx="589.2" cy="419.7" r="2.75"/><circle cx="589.6" cy="418.1" r="2.75"/><circle cx="590" cy="415.4" r="2.75"/><circle cx="590.4" cy="418.8" r="2.75"/><circle cx="590.7" cy="419.8" r="2.75"/><circle cx="591.1" cy="419.7" r="2.75"/><circle cx="591.5" cy="419.4" r="2.75"/><circle cx="591.8" cy="417.4" r="2.75"/><circle cx="592.2" cy="416.8" r="2.75"/><circle cx="592.6" cy="412.4" r="2.75"/><circle cx="592.9" cy="411.6" r="2.75"/><circle cx="593.3" cy="410.9" r="2.75"/><circle cx="593.7" cy="412.8" r="2.75"/><circle cx="594" cy="417.6" r="2.75"/><circle cx="594.4" cy="415.7" r="2.75"/><circle cx="594.8" cy="414.5" r="2.75"/><circle cx="595.2" cy="418.5" r="2.75"/><circle cx="595.5" cy="415.4" r="2.75"/><circle cx="595.9" cy="417.5" r="2.75"/><circle cx="596.3" cy="417.9" r="2.75"/><circle cx="596.6" cy="415.9" r="2.75"/><circle cx="597" cy="423.2" r="2.75"/><circle cx="597.4" cy="428.3" r="2.75"/><circle cx="597.7" cy="428.8" r="2.75"/><circle cx="598.1" cy="430.7" r="2.75"/><circle cx="598.5" cy="430.6" r="2.75"/><circle cx="598.9" cy="438.2" r="2.75"/><circle cx="599.2" cy="443.1" r="2.75"/><circle cx="599.6" cy="444" r="2.75"/><circle cx="600" cy="444.9" r="2.75"/><circle cx="600.3" cy="437.8" r="2.75"/><circle cx="600.7" cy="443.6" r="2.75"/><circle cx="601.1" cy="445.4" r="2.75"/><circle cx="601.4" cy="445.5" r="2.75"/><circle cx="601.8" cy="440.2" r="2.75"/><circle cx="602.2" cy="443.9" r="2.75"/><circle cx="602.5" cy="440.9" r="2.75"/><circle cx="602.9" cy="444.3" r="2.75"/><circle cx="603.3" cy="439" r="2.75"/><circle cx="603.7" cy="439.3" r="2.75"/><circle cx="604" cy="436.8" r="2.75"/><circle cx="604.4" cy="439.7" r="2.75"/><circle cx="604.8" cy="438.5" r="2.75"/><circle cx="605.1" cy="442.6" r="2.75"/><circle cx="605.5" cy="443" r="2.75"/><circle cx="605.9" cy="441.5" r="2.75"/><circle cx="606.2" cy="438.9" r="2.75"/><circle cx="606.6" cy="436.6" r="2.75"/><circle cx="607" cy="436.5" r="2.75"/><circle cx="607.3" cy="439.1" r="2.75"/><circle cx="607.7" cy="437.9" r="2.75"/><circle cx="608.1" cy="437.8" r="2.75"/><circle cx="608.5" cy="436.6" r="2.75"/><circle cx="608.8" cy="435.9" r="2.75"/><circle cx="609.2" cy="433.5" r="2.75"/><circle cx="609.6" cy="430" r="2.75"/><circle cx="609.9" cy="434.2" r="2.75"/><circle cx="610.3" cy="436.5" r="2.75"/><circle cx="610.7" cy="432.8" r="2.75"/><circle cx="611" cy="439.7" r="2.75"/><circle cx="611.4" cy="433.6" r="2.75"/><circle cx="611.8" cy="437" r="2.75"/><circle cx="612.2" cy="436.3" r="2.75"/><circle cx="612.5" cy="436" r="2.75"/><circle cx="612.9" cy="438.1" r="2.75"/><circle cx="613.3" cy="438.3" r="2.75"/><circle cx="613.6" cy="435.8" r="2.75"/><circle cx="614" cy="431.7" r="2.75"/><circle cx="614.4" cy="429.4" r="2.75"/><circle cx="614.7" cy="432" r="2.75"/><circle cx="615.1" cy="436.8" r="2.75"/><circle cx="615.5" cy="437.6" r="2.75"/><circle cx="615.8" cy="435.9" r="2.75"/><circle cx="616.2" cy="436.4" r="2.75"/><circle cx="616.6" cy="437.7" r="2.75"/><circle cx="617" cy="440.1" r="2.75"/><circle cx="617.3" cy="436.8" r="2.75"/><circle cx="617.7" cy="438.8" r="2.75"/><circle cx="618.1" cy="438.9" r="2.75"/><circle cx="618.4" cy="436.5" r="2.75"/><circle cx="618.8" cy="435" r="2.75"/><circle cx="619.2" cy="440.7" r="2.75"/><circle cx="619.5" cy="441" r="2.75"/><circle cx="619.9" cy="439.9" r="2.75"/><circle cx="620.3" cy="440.5" r="2.75"/><circle cx="620.7" cy="444.1" r="2.75"/><circle cx="621" cy="443" r="2.75"/><circle cx="621.4" cy="447.9" r="2.75"/><circle cx="621.8" cy="444.8" r="2.75"/><circle cx="622.1" cy="441.7" r="2.75"/><circle cx="622.5" cy="443.4" r="2.75"/><circle cx="622.9" cy="441.4" r="2.75"/><circle cx="623.2" cy="443.4" r="2.75"/><circle cx="623.6" cy="451.2" r="2.75"/><circle cx="624" cy="456.1" r="2.75"/><circle cx="624.3" cy="457.5" r="2.75"/><circle cx="624.7" cy="456.5" r="2.75"/><circle cx="625.1" cy="452.4" r="2.75"/><circle cx="625.5" cy="451" r="2.75"/><circle cx="625.8" cy="457.2" r="2.75"/><circle cx="626.2" cy="460.1" r="2.75"/><circle cx="626.6" cy="457.9" r="2.75"/><circle cx="626.9" cy="457.6" r="2.75"/><circle cx="627.3" cy="466.1" r="2.75"/><circle cx="627.7" cy="467.6" r="2.75"/><circle cx="628" cy="464.5" r="2.75"/><circle cx="628.4" cy="464" r="2.75"/><circle cx="628.8" cy="468.1" r="2.75"/><circle cx="629.1" cy="466.2" r="2.75"/><circle cx="629.5" cy="464.9" r="2.75"/><circle cx="629.9" cy="458.1" r="2.75"/><circle cx="630.3" cy="457" r="2.75"/><circle cx="630.6" cy="457.5" r="2.75"/><circle cx="631" cy="458" r="2.75"/><circle cx="631.4" cy="458.7" r="2.75"/><circle cx="631.7" cy="462.4" r="2.75"/><circle cx="632.1" cy="461.1" r="2.75"/><circle cx="632.5" cy="463.7" r="2.75"/><circle cx="632.8" cy="464.7" r="2.75"/><circle cx="633.2" cy="464" r="2.75"/><circle cx="633.6" cy="460.6" r="2.75"/><circle cx="634" cy="465.5" r="2.75"/><circle cx="634.3" cy="467.5" r="2.75"/><circle cx="634.7" cy="464.2" r="2.75"/><circle cx="635.1" cy="467.5" r="2.75"/><circle cx="635.4" cy="465.9" r="2.75"/><circle cx="635.8" cy="463" r="2.75"/><circle cx="636.2" cy="462.5" r="2.75"/><circle cx="636.5" cy="459.7" r="2.75"/><circle cx="636.9" cy="460.2" r="2.75"/><circle cx="637.3" cy="458.8" r="2.75"/><circle cx="637.6" cy="462.8" r="2.75"/><circle cx="638" cy="463" r="2.75"/><circle cx="638.4" cy="458.7" r="2.75"/><circle cx="638.8" cy="461.4" r="2.75"/><circle cx="639.1" cy="456.7" r="2.75"/><circle cx="639.5" cy="459.1" r="2.75"/><circle cx="639.9" cy="461.9" r="2.75"/><circle cx="640.2" cy="462.5" r="2.75"/><circle cx="640.6" cy="459.6" r="2.75"/><circle cx="641" cy="461.6" r="2.75"/><circle cx="641.3" cy="462.7" r="2.75"/><circle cx="641.7" cy="464.3" r="2.75"/><circle cx="642.1" cy="470.5" r="2.75"/><circle cx="642.5" cy="472.4" r="2.75"/><circle cx="642.8" cy="473.8" r="2.75"/><circle cx="643.2" cy="470.8" r="2.75"/><circle cx="643.6" cy="468" r="2.75"/><circle cx="643.9" cy="470.4" r="2.75"/><circle cx="644.3" cy="474" r="2.75"/><circle cx="644.7" cy="466.5" r="2.75"/><circle cx="645" cy="468.6" r="2.75"/><circle cx="645.4" cy="480.7" r="2.75"/><circle cx="645.8" cy="473.8" r="2.75"/><circle cx="646.1" cy="473.4" r="2.75"/><circle cx="646.5" cy="474" r="2.75"/><circle cx="646.9" cy="479.1" r="2.75"/><circle cx="647.3" cy="479.8" r="2.75"/><circle cx="647.6" cy="479.5" r="2.75"/><circle cx="648" cy="475.6" r="2.75"/><circle cx="648.4" cy="480.6" r="2.75"/><circle cx="648.7" cy="481.1" r="2.75"/><circle cx="649.1" cy="479.5" r="2.75"/><circle cx="649.5" cy="480.8" r="2.75"/><circle cx="649.8" cy="483.5" r="2.75"/><circle cx="650.2" cy="478.4" r="2.75"/><circle cx="650.6" cy="476.3" r="2.75"/><circle cx="650.9" cy="475.6" r="2.75"/><circle cx="651.3" cy="474.9" r="2.75"/><circle cx="651.7" cy="474.1" r="2.75"/><circle cx="652.1" cy="473.4" r="2.75"/><circle cx="652.4" cy="477.8" r="2.75"/><circle cx="652.8" cy="476" r="2.75"/><circle cx="653.2" cy="479.1" r="2.75"/><circle cx="653.5" cy="469.4" r="2.75"/><circle cx="653.9" cy="470.1" r="2.75"/><circle cx="654.3" cy="477.3" r="2.75"/><circle cx="654.6" cy="480.4" r="2.75"/><circle cx="655" cy="474.1" r="2.75"/><circle cx="655.4" cy="468.3" r="2.75"/><circle cx="655.8" cy="470.2" r="2.75"/><circle cx="656.1" cy="463.8" r="2.75"/><circle cx="656.5" cy="463.7" r="2.75"/><circle cx="656.9" cy="459.4" r="2.75"/><circle cx="657.2" cy="461.5" r="2.75"/><circle cx="657.6" cy="462.2" r="2.75"/><circle cx="658" cy="467.8" r="2.75"/><circle cx="658.3" cy="465.2" r="2.75"/><circle cx="658.7" cy="460.4" r="2.75"/><circle cx="659.1" cy="459.7" r="2.75"/><circle cx="659.4" cy="455.5" r="2.75"/><circle cx="659.8" cy="457" r="2.75"/><circle cx="660.2" cy="457" r="2.75"/><circle cx="660.6" cy="459.1" r="2.75"/><circle cx="660.9" cy="461.6" r="2.75"/><circle cx="661.3" cy="454.8" r="2.75"/><circle cx="661.7" cy="458.3" r="2.75"/><circle cx="662" cy="461.3" r="2.75"/><circle cx="662.4" cy="457.2" r="2.75"/><circle cx="662.8" cy="464.6" r="2.75"/><circle cx="663.1" cy="460.5" r="2.75"/><circle cx="663.5" cy="466" r="2.75"/><circle cx="663.9" cy="466.4" r="2.75"/><circle cx="664.3" cy="466.8" r="2.75"/><circle cx="664.6" cy="465.3" r="2.75"/><circle cx="665" cy="466.9" r="2.75"/><circle cx="665.4" cy="461.9" r="2.75"/><circle cx="665.7" cy="460.5" r="2.75"/><circle cx="666.1" cy="458.6" r="2.75"/><circle cx="666.5" cy="462.9" r="2.75"/><circle cx="666.8" cy="461.9" r="2.75"/><circle cx="667.2" cy="467" r="2.75"/><circle cx="667.6" cy="469" r="2.75"/><circle cx="667.9" cy="462.2" r="2.75"/><circle cx="668.3" cy="466.8" r="2.75"/><circle cx="668.7" cy="467.2" r="2.75"/><circle cx="669.1" cy="467" r="2.75"/><circle cx="669.4" cy="468" r="2.75"/><circle cx="669.8" cy="466.2" r="2.75"/><circle cx="670.2" cy="465.2" r="2.75"/><circle cx="670.5" cy="468.5" r="2.75"/><circle cx="670.9" cy="461" r="2.75"/><circle cx="671.3" cy="456.6" r="2.75"/><circle cx="671.6" cy="456.1" r="2.75"/><circle cx="672" cy="461.9" r="2.75"/><circle cx="672.4" cy="459.2" r="2.75"/><circle cx="672.7" cy="464.8" r="2.75"/><circle cx="673.1" cy="453.4" r="2.75"/><circle cx="673.5" cy="453.3" r="2.75"/><circle cx="673.9" cy="454.5" r="2.75"/><circle cx="674.2" cy="457.2" r="2.75"/><circle cx="674.6" cy="461.5" r="2.75"/><circle cx="675" cy="458.6" r="2.75"/><circle cx="675.3" cy="453.5" r="2.75"/><circle cx="675.7" cy="456.2" r="2.75"/><circle cx="676.1" cy="459.3" r="2.75"/><circle cx="676.4" cy="445.3" r="2.75"/><circle cx="676.8" cy="449.4" r="2.75"/><circle cx="677.2" cy="449.6" r="2.75"/><circle cx="677.6" cy="444.3" r="2.75"/><circle cx="677.9" cy="444.6" r="2.75"/><circle cx="678.3" cy="448.4" r="2.75"/><circle cx="678.7" cy="449.2" r="2.75"/><circle cx="679" cy="448.8" r="2.75"/><circle cx="679.4" cy="445.4" r="2.75"/><circle cx="679.8" cy="449.8" r="2.75"/><circle cx="680.1" cy="448.5" r="2.75"/><circle cx="680.5" cy="450.8" r="2.75"/><circle cx="680.9" cy="449.9" r="2.75"/><circle cx="681.2" cy="452.1" r="2.75"/><circle cx="681.6" cy="454.8" r="2.75"/><circle cx="682" cy="454.6" r="2.75"/><circle cx="682.4" cy="455.7" r="2.75"/><circle cx="682.7" cy="451.4" r="2.75"/><circle cx="683.1" cy="453.5" r="2.75"/><circle cx="683.5" cy="454" r="2.75"/><circle cx="683.8" cy="451.8" r="2.75"/><circle cx="684.2" cy="451.8" r="2.75"/><circle cx="684.6" cy="447.9" r="2.75"/><circle cx="684.9" cy="448.8" r="2.75"/><circle cx="685.3" cy="447.7" r="2.75"/><circle cx="685.7" cy="443.2" r="2.75"/><circle cx="686" cy="443.8" r="2.75"/><circle cx="686.4" cy="440.8" r="2.75"/><circle cx="686.8" cy="440.9" r="2.75"/><circle cx="687.2" cy="438.1" r="2.75"/><circle cx="687.5" cy="438.3" r="2.75"/><circle cx="687.9" cy="435.9" r="2.75"/><circle cx="688.3" cy="431.8" r="2.75"/><circle cx="688.6" cy="433" r="2.75"/><circle cx="689" cy="435" r="2.75"/><circle cx="689.4" cy="418.4" r="2.75"/><circle cx="689.7" cy="422.4" r="2.75"/><circle cx="690.1" cy="420.5" r="2.75"/><circle cx="690.5" cy="416.4" r="2.75"/><circle cx="690.9" cy="426.2" r="2.75"/><circle cx="691.2" cy="427.9" r="2.75"/><circle cx="691.6" cy="420.7" r="2.75"/><circle cx="692" cy="417.9" r="2.75"/><circle cx="692.3" cy="426.4" r="2.75"/><circle cx="692.7" cy="424.1" r="2.75"/><circle cx="693.1" cy="425.2" r="2.75"/><circle cx="693.4" cy="421.4" r="2.75"/><circle cx="693.8" cy="425" r="2.75"/><circle cx="694.2" cy="433.1" r="2.75"/><circle cx="694.5" cy="430" r="2.75"/><circle cx="694.9" cy="430.2" r="2.75"/><circle cx="695.3" cy="438.8" r="2.75"/><circle cx="695.7" cy="439" r="2.75"/><circle cx="696" cy="439.8" r="2.75"/><circle cx="696.4" cy="439.4" r="2.75"/><circle cx="696.8" cy="439.5" r="2.75"/><circle cx="697.1" cy="428" r="2.75"/><circle cx="697.5" cy="426" r="2.75"/><circle cx="697.9" cy="423.4" r="2.75"/><circle cx="698.2" cy="435.9" r="2.75"/><circle cx="698.6" cy="433.4" r="2.75"/><circle cx="699" cy="430.6" r="2.75"/><circle cx="699.4" cy="426.7" r="2.75"/><circle cx="699.7" cy="423.9" r="2.75"/><circle cx="700.1" cy="422.7" r="2.75"/><circle cx="700.5" cy="432.3" r="2.75"/><circle cx="700.8" cy="431.2" r="2.75"/><circle cx="701.2" cy="431.7" r="2.75"/><circle cx="701.6" cy="426.9" r="2.75"/><circle cx="701.9" cy="430.1" r="2.75"/><circle cx="702.3" cy="433.6" r="2.75"/><circle cx="702.7" cy="433.9" r="2.75"/><circle cx="703" cy="437" r="2.75"/><circle cx="703.4" cy="433.4" r="2.75"/><circle cx="703.8" cy="436.5" r="2.75"/><circle cx="704.2" cy="440.4" r="2.75"/><circle cx="704.5" cy="441.3" r="2.75"/><circle cx="704.9" cy="441.5" r="2.75"/><circle cx="705.3" cy="440.1" r="2.75"/><circle cx="705.6" cy="436.6" r="2.75"/><circle cx="706" cy="440.8" r="2.75"/><circle cx="706.4" cy="439.7" r="2.75"/><circle cx="706.7" cy="437.9" r="2.75"/><circle cx="707.1" cy="442.7" r="2.75"/><circle cx="707.5" cy="438" r="2.75"/><circle cx="707.8" cy="438.8" r="2.75"/><circle cx="708.2" cy="443.1" r="2.75"/><circle cx="708.6" cy="445.5" r="2.75"/><circle cx="709" cy="442.7" r="2.75"/><circle cx="709.3" cy="442.8" r="2.75"/><circle cx="709.7" cy="444.2" r="2.75"/><circle cx="710.1" cy="443" r="2.75"/><circle cx="710.4" cy="440.1" r="2.75"/><circle cx="710.8" cy="442.5" r="2.75"/><circle cx="711.2" cy="442.6" r="2.75"/><circle cx="711.5" cy="442.4" r="2.75"/><circle cx="711.9" cy="445.7" r="2.75"/><circle cx="712.3" cy="444.4" r="2.75"/><circle cx="712.7" cy="441.6" r="2.75"/><circle cx="713" cy="444.4" r="2.75"/><circle cx="713.4" cy="455.1" r="2.75"/><circle cx="713.8" cy="448.6" r="2.75"/><circle cx="714.1" cy="448" r="2.75"/><circle cx="714.5" cy="445.1" r="2.75"/><circle cx="714.9" cy="452.7" r="2.75"/><circle cx="715.2" cy="448.2" r="2.75"/><circle cx="715.6" cy="456.2" r="2.75"/><circle cx="716" cy="461.1" r="2.75"/><circle cx="716.3" cy="458.7" r="2.75"/><circle cx="716.7" cy="457.3" r="2.75"/><circle cx="717.1" cy="455.8" r="2.75"/><circle cx="717.5" cy="458.7" r="2.75"/><circle cx="717.8" cy="457.1" r="2.75"/><circle cx="718.2" cy="458.1" r="2.75"/><circle cx="718.6" cy="459.3" r="2.75"/><circle cx="718.9" cy="459.2" r="2.75"/><circle cx="719.3" cy="463.8" r="2.75"/><circle cx="719.7" cy="468.4" r="2.75"/><circle cx="720" cy="459.2" r="2.75"/><circle cx="720.4" cy="459.2" r="2.75"/><circle cx="720.8" cy="462.7" r="2.75"/><circle cx="721.2" cy="460.2" r="2.75"/><circle cx="721.5" cy="460.9" r="2.75"/><circle cx="721.9" cy="464" r="2.75"/><circle cx="722.3" cy="469.9" r="2.75"/><circle cx="722.6" cy="472.1" r="2.75"/><circle cx="723" cy="468" r="2.75"/><circle cx="723.4" cy="467.8" r="2.75"/><circle cx="723.7" cy="466" r="2.75"/><circle cx="724.1" cy="466.4" r="2.75"/><circle cx="724.5" cy="463.5" r="2.75"/><circle cx="724.8" cy="463.1" r="2.75"/><circle cx="725.2" cy="465" r="2.75"/><circle cx="725.6" cy="470.8" r="2.75"/><circle cx="726" cy="472" r="2.75"/><circle cx="726.3" cy="463.7" r="2.75"/><circle cx="726.7" cy="464.9" r="2.75"/><circle cx="727.1" cy="463.5" r="2.75"/><circle cx="727.4" cy="465.7" r="2.75"/><circle cx="727.8" cy="461.3" r="2.75"/><circle cx="728.2" cy="466.7" r="2.75"/><circle cx="728.5" cy="464.5" r="2.75"/><circle cx="728.9" cy="466.4" r="2.75"/><circle cx="729.3" cy="468.3" r="2.75"/><circle cx="729.6" cy="456.8" r="2.75"/><circle cx="730" cy="458.6" r="2.75"/><circle cx="730.4" cy="466.6" r="2.75"/><circle cx="730.8" cy="463.3" r="2.75"/><circle cx="731.1" cy="465.9" r="2.75"/><circle cx="731.5" cy="463.9" r="2.75"/><circle cx="731.9" cy="458.5" r="2.75"/><circle cx="732.2" cy="459.1" r="2.75"/><circle cx="732.6" cy="462.5" r="2.75"/><circle cx="733" cy="464.5" r="2.75"/><circle cx="733.3" cy="464.2" r="2.75"/><circle cx="733.7" cy="456.5" r="2.75"/><circle cx="734.1" cy="459.8" r="2.75"/><circle cx="734.5" cy="452.6" r="2.75"/><circle cx="734.8" cy="454.1" r="2.75"/><circle cx="735.2" cy="454.8" r="2.75"/><circle cx="735.6" cy="459" r="2.75"/><circle cx="735.9" cy="460.2" r="2.75"/><circle cx="736.3" cy="465.4" r="2.75"/><circle cx="736.7" cy="459.8" r="2.75"/><circle cx="737" cy="464.5" r="2.75"/><circle cx="737.4" cy="465" r="2.75"/><circle cx="737.8" cy="463.4" r="2.75"/><circle cx="738.1" cy="457.5" r="2.75"/><circle cx="738.5" cy="463.4" r="2.75"/><circle cx="738.9" cy="465.1" r="2.75"/><circle cx="739.3" cy="468" r="2.75"/><circle cx="739.6" cy="466.3" r="2.75"/><circle cx="740" cy="465.3" r="2.75"/><circle cx="740.4" cy="466.9" r="2.75"/><circle cx="740.7" cy="467.9" r="2.75"/><circle cx="741.1" cy="469" r="2.75"/><circle cx="741.5" cy="471.2" r="2.75"/><circle cx="741.8" cy="467.7" r="2.75"/><circle cx="742.2" cy="471.2" r="2.75"/><circle cx="742.6" cy="462.6" r="2.75"/><circle cx="743" cy="467.4" r="2.75"/><circle cx="743.3" cy="465.5" r="2.75"/><circle cx="743.7" cy="471.7" r="2.75"/><circle cx="744.1" cy="467.7" r="2.75"/><circle cx="744.4" cy="470.6" r="2.75"/><circle cx="744.8" cy="467.4" r="2.75"/><circle cx="745.2" cy="465.8" r="2.75"/><circle cx="745.5" cy="469.3" r="2.75"/><circle cx="745.9" cy="470.9" r="2.75"/><circle cx="746.3" cy="468.5" r="2.75"/><circle cx="746.6" cy="472.5" r="2.75"/><circle cx="747" cy="470.6" r="2.75"/><circle cx="747.4" cy="472.5" r="2.75"/><circle cx="747.8" cy="462.4" r="2.75"/><circle cx="748.1" cy="450.4" r="2.75"/><circle cx="748.5" cy="448.7" r="2.75"/><circle cx="748.9" cy="445.8" r="2.75"/><circle cx="749.2" cy="449" r="2.75"/><circle cx="749.6" cy="443.1" r="2.75"/><circle cx="750" cy="445.8" r="2.75"/><circle cx="750.3" cy="445.1" r="2.75"/><circle cx="750.7" cy="443" r="2.75"/><circle cx="751.1" cy="446.6" r="2.75"/><circle cx="751.4" cy="446.3" r="2.75"/><circle cx="751.8" cy="445.2" r="2.75"/><circle cx="752.2" cy="449.9" r="2.75"/><circle cx="752.6" cy="449.7" r="2.75"/><circle cx="752.9" cy="449.1" r="2.75"/><circle cx="753.3" cy="452.9" r="2.75"/><circle cx="753.7" cy="447.3" r="2.75"/><circle cx="754" cy="448.9" r="2.75"/><circle cx="754.4" cy="442.3" r="2.75"/><circle cx="754.8" cy="444.4" r="2.75"/><circle cx="755.1" cy="444.1" r="2.75"/><circle cx="755.5" cy="436.4" r="2.75"/><circle cx="755.9" cy="426.2" r="2.75"/><circle cx="756.3" cy="423.7" r="2.75"/><circle cx="756.6" cy="421.9" r="2.75"/><circle cx="757" cy="428.4" r="2.75"/><circle cx="757.4" cy="427.1" r="2.75"/><circle cx="757.7" cy="425" r="2.75"/><circle cx="758.1" cy="427" r="2.75"/><circle cx="758.5" cy="427.9" r="2.75"/><circle cx="758.8" cy="429.9" r="2.75"/><circle cx="759.2" cy="423.4" r="2.75"/><circle cx="759.6" cy="424.7" r="2.75"/><circle cx="759.9" cy="425.6" r="2.75"/><circle cx="760.3" cy="419.6" r="2.75"/><circle cx="760.7" cy="421.8" r="2.75"/><circle cx="761.1" cy="420.1" r="2.75"/><circle cx="761.4" cy="423" r="2.75"/><circle cx="761.8" cy="428.3" r="2.75"/><circle cx="762.2" cy="421.5" r="2.75"/><circle cx="762.5" cy="423.1" r="2.75"/><circle cx="762.9" cy="425.6" r="2.75"/><circle cx="763.3" cy="432" r="2.75"/><circle cx="763.6" cy="432.1" r="2.75"/><circle cx="764" cy="437.9" r="2.75"/><circle cx="764.4" cy="437.1" r="2.75"/><circle cx="764.7" cy="440.9" r="2.75"/><circle cx="765.1" cy="448.7" r="2.75"/><circle cx="765.5" cy="453.1" r="2.75"/><circle cx="765.9" cy="455.6" r="2.75"/><circle cx="766.2" cy="455.6" r="2.75"/><circle cx="766.6" cy="459.2" r="2.75"/><circle cx="767" cy="461.7" r="2.75"/><circle cx="767.3" cy="458.6" r="2.75"/><circle cx="767.7" cy="456.2" r="2.75"/><circle cx="768.1" cy="454.3" r="2.75"/><circle cx="768.4" cy="461.8" r="2.75"/><circle cx="768.8" cy="457.7" r="2.75"/><circle cx="769.2" cy="454.8" r="2.75"/><circle cx="769.6" cy="458.4" r="2.75"/><circle cx="769.9" cy="462.5" r="2.75"/><circle cx="770.3" cy="457.7" r="2.75"/><circle cx="770.7" cy="458.9" r="2.75"/><circle cx="771" cy="456.1" r="2.75"/><circle cx="771.4" cy="457.1" r="2.75"/><circle cx="771.8" cy="463.2" r="2.75"/><circle cx="772.1" cy="462.5" r="2.75"/><circle cx="772.5" cy="461.3" r="2.75"/><circle cx="772.9" cy="460.9" r="2.75"/><circle cx="773.2" cy="461" r="2.75"/><circle cx="773.6" cy="459.9" r="2.75"/><circle cx="774" cy="456.6" r="2.75"/><circle cx="774.4" cy="454.7" r="2.75"/><circle cx="774.7" cy="461.6" r="2.75"/><circle cx="775.1" cy="457.4" r="2.75"/><circle cx="775.5" cy="460.2" r="2.75"/><circle cx="775.8" cy="456.1" r="2.75"/><circle cx="776.2" cy="459.3" r="2.75"/><circle cx="776.6" cy="458.8" r="2.75"/><circle cx="776.9" cy="455.7" r="2.75"/><circle cx="777.3" cy="459" r="2.75"/><circle cx="777.7" cy="453.9" r="2.75"/><circle cx="778.1" cy="453.4" r="2.75"/><circle cx="778.4" cy="451.4" r="2.75"/><circle cx="778.8" cy="450.9" r="2.75"/><circle cx="779.2" cy="451.9" r="2.75"/><circle cx="779.5" cy="450.8" r="2.75"/><circle cx="779.9" cy="452.2" r="2.75"/><circle cx="780.3" cy="458.3" r="2.75"/><circle cx="780.6" cy="450.9" r="2.75"/><circle cx="781" cy="449" r="2.75"/><circle cx="781.4" cy="448.6" r="2.75"/><circle cx="781.7" cy="449.8" r="2.75"/><circle cx="782.1" cy="455.5" r="2.75"/><circle cx="782.5" cy="457.1" r="2.75"/><circle cx="782.9" cy="456.7" r="2.75"/><circle cx="783.2" cy="455.5" r="2.75"/><circle cx="783.6" cy="458.9" r="2.75"/><circle cx="784" cy="453.2" r="2.75"/><circle cx="784.3" cy="449.3" r="2.75"/><circle cx="784.7" cy="451" r="2.75"/><circle cx="785.1" cy="452.3" r="2.75"/><circle cx="785.4" cy="451.2" r="2.75"/><circle cx="785.8" cy="448.4" r="2.75"/><circle cx="786.2" cy="445.1" r="2.75"/><circle cx="786.5" cy="446.9" r="2.75"/><circle cx="786.9" cy="445.8" r="2.75"/><circle cx="787.3" cy="445.9" r="2.75"/><circle cx="787.7" cy="442.9" r="2.75"/><circle cx="788" cy="451.8" r="2.75"/><circle cx="788.4" cy="451.5" r="2.75"/><circle cx="788.8" cy="455" r="2.75"/><circle cx="789.1" cy="448.8" r="2.75"/><circle cx="789.5" cy="447.2" r="2.75"/><circle cx="789.9" cy="444.7" r="2.75"/><circle cx="790.2" cy="444.7" r="2.75"/><circle cx="790.6" cy="443.5" r="2.75"/><circle cx="791" cy="443.3" r="2.75"/><circle cx="791.4" cy="437.5" r="2.75"/><circle cx="791.7" cy="439.4" r="2.75"/><circle cx="792.1" cy="444.5" r="2.75"/><circle cx="792.5" cy="437.5" r="2.75"/><circle cx="792.8" cy="439.7" r="2.75"/><circle cx="793.2" cy="444.6" r="2.75"/><circle cx="793.6" cy="449.5" r="2.75"/><circle cx="793.9" cy="447" r="2.75"/><circle cx="794.3" cy="448" r="2.75"/><circle cx="794.7" cy="452.2" r="2.75"/><circle cx="795" cy="452.5" r="2.75"/><circle cx="795.4" cy="448.8" r="2.75"/><circle cx="795.8" cy="446.2" r="2.75"/><circle cx="796.2" cy="450.8" r="2.75"/><circle cx="796.5" cy="450.5" r="2.75"/><circle cx="796.9" cy="448.3" r="2.75"/><circle cx="797.3" cy="448.6" r="2.75"/><circle cx="797.6" cy="454.3" r="2.75"/><circle cx="798" cy="463.8" r="2.75"/><circle cx="798.4" cy="469.8" r="2.75"/><circle cx="798.7" cy="468.5" r="2.75"/><circle cx="799.1" cy="462.7" r="2.75"/><circle cx="799.5" cy="471.3" r="2.75"/><circle cx="799.9" cy="472.8" r="2.75"/><circle cx="800.2" cy="471.8" r="2.75"/><circle cx="800.6" cy="467.7" r="2.75"/><circle cx="801" cy="465.3" r="2.75"/><circle cx="801.3" cy="465.2" r="2.75"/><circle cx="801.7" cy="465.5" r="2.75"/><circle cx="802.1" cy="455.3" r="2.75"/><circle cx="802.4" cy="458.1" r="2.75"/><circle cx="802.8" cy="454.4" r="2.75"/><circle cx="803.2" cy="456" r="2.75"/><circle cx="803.5" cy="454.3" r="2.75"/><circle cx="803.9" cy="462.1" r="2.75"/><circle cx="804.3" cy="461.1" r="2.75"/><circle cx="804.7" cy="458.3" r="2.75"/><circle cx="805" cy="462.1" r="2.75"/><circle cx="805.4" cy="457.6" r="2.75"/><circle cx="805.8" cy="452.9" r="2.75"/><circle cx="806.1" cy="452.2" r="2.75"/><circle cx="806.5" cy="450.8" r="2.75"/><circle cx="806.9" cy="451" r="2.75"/><circle cx="807.2" cy="452.9" r="2.75"/><circle cx="807.6" cy="450.5" r="2.75"/><circle cx="808" cy="449.4" r="2.75"/><circle cx="808.3" cy="452" r="2.75"/><circle cx="808.7" cy="450.6" r="2.75"/><circle cx="809.1" cy="452" r="2.75"/><circle cx="809.5" cy="449.6" r="2.75"/><circle cx="809.8" cy="443" r="2.75"/><circle cx="810.2" cy="440.1" r="2.75"/><circle cx="810.6" cy="438.9" r="2.75"/><circle cx="810.9" cy="445.1" r="2.75"/><circle cx="811.3" cy="446.1" r="2.75"/><circle cx="811.7" cy="442.6" r="2.75"/><circle cx="812" cy="438.4" r="2.75"/><circle cx="812.4" cy="442" r="2.75"/><circle cx="812.8" cy="440.7" r="2.75"/><circle cx="813.2" cy="441.2" r="2.75"/><circle cx="813.5" cy="435.9" r="2.75"/><circle cx="813.9" cy="431.9" r="2.75"/><circle cx="814.3" cy="439.9" r="2.75"/><circle cx="814.6" cy="433" r="2.75"/><circle cx="815" cy="432.8" r="2.75"/><circle cx="815.4" cy="437.5" r="2.75"/><circle cx="815.7" cy="427.6" r="2.75"/><circle cx="816.1" cy="432" r="2.75"/><circle cx="816.5" cy="431.2" r="2.75"/><circle cx="816.8" cy="429.7" r="2.75"/><circle cx="817.2" cy="430.2" r="2.75"/><circle cx="817.6" cy="425.1" r="2.75"/><circle cx="818" cy="424.3" r="2.75"/><circle cx="818.3" cy="434.5" r="2.75"/><circle cx="818.7" cy="433.6" r="2.75"/><circle cx="819.1" cy="437.5" r="2.75"/><circle cx="819.4" cy="440" r="2.75"/><circle cx="819.8" cy="438.8" r="2.75"/><circle cx="820.2" cy="439.1" r="2.75"/><circle cx="820.5" cy="440.2" r="2.75"/><circle cx="820.9" cy="442.2" r="2.75"/><circle cx="821.3" cy="442" r="2.75"/><circle cx="821.7" cy="443.7" r="2.75"/><circle cx="822" cy="441.8" r="2.75"/><circle cx="822.4" cy="440.5" r="2.75"/><circle cx="822.8" cy="441.8" r="2.75"/><circle cx="823.1" cy="443.8" r="2.75"/><circle cx="823.5" cy="445.8" r="2.75"/><circle cx="823.9" cy="449.9" r="2.75"/><circle cx="824.2" cy="449.5" r="2.75"/><circle cx="824.6" cy="446.1" r="2.75"/><circle cx="825" cy="448.8" r="2.75"/><circle cx="825.3" cy="447.2" r="2.75"/><circle cx="825.7" cy="445.2" r="2.75"/><circle cx="826.1" cy="444.6" r="2.75"/><circle cx="826.5" cy="441" r="2.75"/><circle cx="826.8" cy="436.4" r="2.75"/><circle cx="827.2" cy="389.1" r="2.75"/><circle cx="827.6" cy="388" r="2.75"/><circle cx="827.9" cy="384.8" r="2.75"/><circle cx="828.3" cy="386.8" r="2.75"/><circle cx="828.7" cy="386.1" r="2.75"/><circle cx="829" cy="382.4" r="2.75"/><circle cx="829.4" cy="375.3" r="2.75"/><circle cx="829.8" cy="375.8" r="2.75"/><circle cx="830.1" cy="386.5" r="2.75"/><circle cx="830.5" cy="385.9" r="2.75"/><circle cx="830.9" cy="385.6" r="2.75"/><circle cx="831.3" cy="378.4" r="2.75"/><circle cx="831.6" cy="380.2" r="2.75"/><circle cx="832" cy="370.7" r="2.75"/><circle cx="832.4" cy="366.9" r="2.75"/><circle cx="832.7" cy="369.6" r="2.75"/><circle cx="833.1" cy="360" r="2.75"/><circle cx="833.5" cy="362.9" r="2.75"/><circle cx="833.8" cy="364.9" r="2.75"/><circle cx="834.2" cy="373.2" r="2.75"/><circle cx="834.6" cy="363.2" r="2.75"/><circle cx="835" cy="366.7" r="2.75"/><circle cx="835.3" cy="363" r="2.75"/><circle cx="835.7" cy="362.8" r="2.75"/><circle cx="836.1" cy="359.2" r="2.75"/><circle cx="836.4" cy="361" r="2.75"/><circle cx="836.8" cy="372.1" r="2.75"/><circle cx="837.2" cy="376.1" r="2.75"/><circle cx="837.5" cy="377.1" r="2.75"/><circle cx="837.9" cy="384.6" r="2.75"/><circle cx="838.3" cy="385" r="2.75"/><circle cx="838.6" cy="376" r="2.75"/><circle cx="839" cy="376.5" r="2.75"/><circle cx="839.4" cy="377.5" r="2.75"/><circle cx="839.8" cy="384.2" r="2.75"/><circle cx="840.1" cy="378" r="2.75"/><circle cx="840.5" cy="380.1" r="2.75"/><circle cx="840.9" cy="383.5" r="2.75"/><circle cx="841.2" cy="377.8" r="2.75"/><circle cx="841.6" cy="379" r="2.75"/><circle cx="842" cy="371.5" r="2.75"/><circle cx="842.3" cy="375.6" r="2.75"/><circle cx="842.7" cy="371.4" r="2.75"/><circle cx="843.1" cy="372.4" r="2.75"/><circle cx="843.4" cy="384.4" r="2.75"/><circle cx="843.8" cy="383.7" r="2.75"/><circle cx="844.2" cy="381.8" r="2.75"/><circle cx="844.6" cy="381.5" r="2.75"/><circle cx="844.9" cy="387.5" r="2.75"/><circle cx="845.3" cy="383.2" r="2.75"/><circle cx="845.7" cy="378.9" r="2.75"/><circle cx="846" cy="370.6" r="2.75"/><circle cx="846.4" cy="365.4" r="2.75"/><circle cx="846.8" cy="360.4" r="2.75"/><circle cx="847.1" cy="355.4" r="2.75"/><circle cx="847.5" cy="348.7" r="2.75"/><circle cx="847.9" cy="349.7" r="2.75"/><circle cx="848.3" cy="347.3" r="2.75"/><circle cx="848.6" cy="339.2" r="2.75"/><circle cx="849" cy="332.9" r="2.75"/><circle cx="849.4" cy="323.4" r="2.75"/><circle cx="849.7" cy="323.3" r="2.75"/><circle cx="850.1" cy="332.1" r="2.75"/><circle cx="850.5" cy="340.2" r="2.75"/><circle cx="850.8" cy="322.7" r="2.75"/><circle cx="851.2" cy="322.5" r="2.75"/><circle cx="851.6" cy="325.6" r="2.75"/><circle cx="851.9" cy="325.4" r="2.75"/><circle cx="852.3" cy="332.4" r="2.75"/><circle cx="852.7" cy="334.1" r="2.75"/><circle cx="853.1" cy="342.8" r="2.75"/><circle cx="853.4" cy="331.2" r="2.75"/><circle cx="853.8" cy="334.5" r="2.75"/><circle cx="854.2" cy="343.1" r="2.75"/><circle cx="854.5" cy="341.5" r="2.75"/><circle cx="854.9" cy="333.3" r="2.75"/><circle cx="855.3" cy="336.5" r="2.75"/><circle cx="855.6" cy="335.9" r="2.75"/><circle cx="856" cy="327.4" r="2.75"/><circle cx="856.4" cy="332.3" r="2.75"/><circle cx="856.8" cy="333.4" r="2.75"/><circle cx="857.1" cy="327.8" r="2.75"/><circle cx="857.5" cy="331" r="2.75"/><circle cx="857.9" cy="320.8" r="2.75"/><circle cx="858.2" cy="329" r="2.75"/><circle cx="858.6" cy="327" r="2.75"/><circle cx="859" cy="321.4" r="2.75"/><circle cx="859.3" cy="321.5" r="2.75"/><circle cx="859.7" cy="334.5" r="2.75"/><circle cx="860.1" cy="328.1" r="2.75"/><circle cx="860.4" cy="325.4" r="2.75"/><circle cx="860.8" cy="321.4" r="2.75"/><circle cx="861.2" cy="317.9" r="2.75"/><circle cx="861.6" cy="328.6" r="2.75"/><circle cx="861.9" cy="336.7" r="2.75"/><circle cx="862.3" cy="335.6" r="2.75"/><circle cx="862.7" cy="334" r="2.75"/><circle cx="863" cy="332.8" r="2.75"/><circle cx="863.4" cy="324" r="2.75"/><circle cx="863.8" cy="318.7" r="2.75"/><circle cx="864.1" cy="311.2" r="2.75"/><circle cx="864.5" cy="326.7" r="2.75"/><circle cx="864.9" cy="320.5" r="2.75"/><circle cx="865.2" cy="313.2" r="2.75"/><circle cx="865.6" cy="308.7" r="2.75"/><circle cx="866" cy="311" r="2.75"/><circle cx="866.4" cy="305.4" r="2.75"/><circle cx="866.7" cy="305.2" r="2.75"/><circle cx="867.1" cy="304.6" r="2.75"/><circle cx="867.5" cy="310.5" r="2.75"/><circle cx="867.8" cy="295.9" r="2.75"/><circle cx="868.2" cy="299.3" r="2.75"/><circle cx="868.6" cy="292.7" r="2.75"/><circle cx="868.9" cy="290.9" r="2.75"/><circle cx="869.3" cy="307.1" r="2.75"/><circle cx="869.7" cy="305.8" r="2.75"/><circle cx="870.1" cy="295.1" r="2.75"/><circle cx="870.4" cy="297.2" r="2.75"/><circle cx="870.8" cy="292.9" r="2.75"/><circle cx="871.2" cy="298.4" r="2.75"/><circle cx="871.5" cy="288.9" r="2.75"/><circle cx="871.9" cy="290.1" r="2.75"/><circle cx="872.3" cy="286" r="2.75"/><circle cx="872.6" cy="285" r="2.75"/><circle cx="873" cy="283.8" r="2.75"/><circle cx="873.4" cy="281.2" r="2.75"/><circle cx="873.7" cy="282.7" r="2.75"/><circle cx="874.1" cy="286.3" r="2.75"/><circle cx="874.5" cy="281.9" r="2.75"/><circle cx="874.9" cy="280.5" r="2.75"/><circle cx="875.2" cy="273.4" r="2.75"/><circle cx="875.6" cy="258.2" r="2.75"/><circle cx="876" cy="264.2" r="2.75"/><circle cx="876.3" cy="265.9" r="2.75"/><circle cx="876.7" cy="253.6" r="2.75"/><circle cx="877.1" cy="254.9" r="2.75"/><circle cx="877.4" cy="254.2" r="2.75"/><circle cx="877.8" cy="261.9" r="2.75"/><circle cx="878.2" cy="265.8" r="2.75"/><circle cx="878.6" cy="195.8" r="2.75"/><circle cx="878.9" cy="195.7" r="2.75"/><circle cx="879.3" cy="199.4" r="2.75"/><circle cx="879.7" cy="200.2" r="2.75"/><circle cx="880" cy="205.7" r="2.75"/><circle cx="880.4" cy="209" r="2.75"/><circle cx="880.8" cy="209.2" r="2.75"/><circle cx="881.1" cy="210.9" r="2.75"/><circle cx="881.5" cy="211.3" r="2.75"/><circle cx="881.9" cy="209" r="2.75"/><circle cx="882.2" cy="207.4" r="2.75"/><circle cx="882.6" cy="206.1" r="2.75"/><circle cx="883" cy="209.3" r="2.75"/><circle cx="883.4" cy="211" r="2.75"/><circle cx="883.7" cy="212.1" r="2.75"/><circle cx="884.1" cy="209.6" r="2.75"/><circle cx="884.5" cy="208.5" r="2.75"/><circle cx="884.8" cy="209.4" r="2.75"/><circle cx="885.2" cy="211.8" r="2.75"/><circle cx="885.6" cy="211.1" r="2.75"/><circle cx="885.9" cy="210.6" r="2.75"/><circle cx="886.3" cy="208.5" r="2.75"/><circle cx="886.7" cy="209.9" r="2.75"/><circle cx="887" cy="210.8" r="2.75"/><circle cx="887.4" cy="208.4" r="2.75"/><circle cx="887.8" cy="212.8" r="2.75"/><circle cx="888.2" cy="209.3" r="2.75"/><circle cx="888.5" cy="211.7" r="2.75"/><circle cx="888.9" cy="210.2" r="2.75"/><circle cx="889.3" cy="209.8" r="2.75"/><circle cx="889.6" cy="206.4" r="2.75"/><circle cx="890" cy="204.9" r="2.75"/><circle cx="890.4" cy="208.4" r="2.75"/><circle cx="890.7" cy="206.4" r="2.75"/><circle cx="891.1" cy="204.3" r="2.75"/><circle cx="891.5" cy="205.1" r="2.75"/><circle cx="891.9" cy="200.3" r="2.75"/><circle cx="892.2" cy="191.9" r="2.75"/><circle cx="892.6" cy="187.6" r="2.75"/><circle cx="893" cy="198" r="2.75"/><circle cx="893.3" cy="197.5" r="2.75"/><circle cx="893.7" cy="201.9" r="2.75"/><circle cx="894.1" cy="204.1" r="2.75"/><circle cx="894.4" cy="193.3" r="2.75"/><circle cx="894.8" cy="187.9" r="2.75"/><circle cx="895.2" cy="194.1" r="2.75"/><circle cx="895.5" cy="207.8" r="2.75"/><circle cx="895.9" cy="208.7" r="2.75"/><circle cx="896.3" cy="201.2" r="2.75"/><circle cx="896.7" cy="195.6" r="2.75"/><circle cx="897" cy="209.9" r="2.75"/><circle cx="897.4" cy="203.3" r="2.75"/><circle cx="897.8" cy="185.3" r="2.75"/><circle cx="898.1" cy="203.2" r="2.75"/><circle cx="898.5" cy="206" r="2.75"/><circle cx="898.9" cy="208.3" r="2.75"/><circle cx="899.2" cy="214.9" r="2.75"/><circle cx="899.6" cy="217.3" r="2.75"/><circle cx="900" cy="212.5" r="2.75"/><circle cx="900.4" cy="202.2" r="2.75"/><circle cx="900.7" cy="182.8" r="2.75"/><circle cx="901.1" cy="191.5" r="2.75"/><circle cx="901.5" cy="192.4" r="2.75"/><circle cx="901.8" cy="203.5" r="2.75"/><circle cx="902.2" cy="207.5" r="2.75"/><circle cx="902.6" cy="206.1" r="2.75"/><circle cx="902.9" cy="216.2" r="2.75"/><circle cx="903.3" cy="220.2" r="2.75"/><circle cx="903.7" cy="227.6" r="2.75"/><circle cx="904" cy="228.4" r="2.75"/><circle cx="904.4" cy="230.1" r="2.75"/><circle cx="904.8" cy="234.2" r="2.75"/><circle cx="905.2" cy="242" r="2.75"/><circle cx="905.5" cy="236.8" r="2.75"/><circle cx="905.9" cy="243.4" r="2.75"/><circle cx="906.3" cy="250" r="2.75"/><circle cx="906.6" cy="242.8" r="2.75"/><circle cx="907" cy="243.7" r="2.75"/><circle cx="907.4" cy="246.4" r="2.75"/><circle cx="907.7" cy="251.9" r="2.75"/><circle cx="908.1" cy="255.6" r="2.75"/><circle cx="908.5" cy="256" r="2.75"/><circle cx="908.8" cy="253.1" r="2.75"/><circle cx="909.2" cy="246.6" r="2.75"/><circle cx="909.6" cy="247.5" r="2.75"/><circle cx="910" cy="248.1" r="2.75"/><circle cx="910.3" cy="250.3" r="2.75"/><circle cx="910.7" cy="245.3" r="2.75"/><circle cx="911.1" cy="257.3" r="2.75"/><circle cx="911.4" cy="249.7" r="2.75"/><circle cx="911.8" cy="255.6" r="2.75"/><circle cx="912.2" cy="257.6" r="2.75"/><circle cx="912.5" cy="253.3" r="2.75"/><circle cx="912.9" cy="259.3" r="2.75"/><circle cx="913.3" cy="263.3" r="2.75"/><circle cx="913.7" cy="266" r="2.75"/><circle cx="914" cy="270.1" r="2.75"/><circle cx="914.4" cy="268.4" r="2.75"/><circle cx="914.8" cy="274.5" r="2.75"/><circle cx="915.1" cy="275.3" r="2.75"/><circle cx="915.5" cy="271.3" r="2.75"/><circle cx="915.9" cy="266.7" r="2.75"/><circle cx="916.2" cy="273" r="2.75"/><circle cx="916.6" cy="275" r="2.75"/><circle cx="917" cy="276.2" r="2.75"/><circle cx="917.3" cy="273.9" r="2.75"/><circle cx="917.7" cy="271.9" r="2.75"/><circle cx="918.1" cy="273" r="2.75"/><circle cx="918.5" cy="287.1" r="2.75"/><circle cx="918.8" cy="290.1" r="2.75"/><circle cx="919.2" cy="285" r="2.75"/><circle cx="919.6" cy="290.8" r="2.75"/><circle cx="919.9" cy="279.8" r="2.75"/><circle cx="920.3" cy="285.4" r="2.75"/><circle cx="920.7" cy="288.1" r="2.75"/><circle cx="921" cy="282.7" r="2.75"/><circle cx="921.4" cy="282.2" r="2.75"/><circle cx="921.8" cy="279.7" r="2.75"/><circle cx="922.2" cy="283.2" r="2.75"/><circle cx="922.5" cy="289.9" r="2.75"/><circle cx="922.9" cy="291.6" r="2.75"/><circle cx="923.3" cy="290.1" r="2.75"/><circle cx="923.6" cy="292.1" r="2.75"/><circle cx="924" cy="284.3" r="2.75"/><circle cx="924.4" cy="292.8" r="2.75"/><circle cx="924.7" cy="292.1" r="2.75"/><circle cx="445" cy="39.5" r="2.75"/><circle cx="445" cy="42" r="2.75"/><circle cx="443" cy="53" r="2.75"/><circle cx="438.2" cy="59.2" r="2.75"/><circle cx="446.2" cy="62" r="2.75"/><circle cx="440" cy="67.5" r="2.75"/><circle cx="443.8" cy="68" r="2.75"/><circle cx="442" cy="71.2" r="2.75"/><circle cx="441.2" cy="74.5" r="2.75"/><circle cx="445" cy="75.5" r="2.75"/><circle cx="438.2" cy="81.2" r="2.75"/><circle cx="450" cy="83.8" r="2.75"/><circle cx="441.2" cy="84.5" r="2.75"/><circle cx="442" cy="88" r="2.75"/><circle cx="440" cy="90" r="2.75"/><circle cx="446.2" cy="90" r="2.75"/><circle cx="442" cy="92.5" r="2.75"/><circle cx="429.5" cy="87.5" r="2.75"/><circle cx="430" cy="94.5" r="2.75"/><circle cx="433" cy="100.5" r="2.75"/><circle cx="429.5" cy="103" r="2.75"/><circle cx="430.5" cy="108" r="2.75"/><circle cx="433" cy="110.5" r="2.75"/><circle cx="432" cy="113.8" r="2.75"/><circle cx="433.8" cy="117" r="2.75"/><circle cx="437" cy="122.5" r="2.75"/><circle cx="431.2" cy="126.2" r="2.75"/><circle cx="419.5" cy="123.2" r="2.75"/><circle cx="447.5" cy="100.5" r="2.75"/><circle cx="449.5" cy="104.2" r="2.75"/><circle cx="447.5" cy="112.5" r="2.75"/><circle cx="447.5" cy="117" r="2.75"/><circle cx="448.8" cy="119.5" r="2.75"/><circle cx="436.2" cy="128.8" r="2.75"/><circle cx="428.8" cy="137.5" r="2.75"/><circle cx="435" cy="141.2" r="2.75"/><circle cx="427.5" cy="150" r="2.75"/><circle cx="435" cy="150" r="2.75"/><circle cx="433.8" cy="155" r="2.75"/><circle cx="436.2" cy="158.8" r="2.75"/><circle cx="426.2" cy="155" r="2.75"/><circle cx="420.5" cy="138.8" r="2.75"/><circle cx="420.5" cy="141.2" r="2.75"/><circle cx="419.5" cy="147.5" r="2.75"/><circle cx="418.8" cy="163.8" r="2.75"/><circle cx="420" cy="166.2" r="2.75"/><circle cx="426.2" cy="170" r="2.75"/><circle cx="427" cy="177.5" r="2.75"/><circle cx="437.5" cy="132.5" r="2.75"/><circle cx="431.2" cy="145" r="2.75"/><circle cx="428.8" cy="155" r="2.75"/><circle cx="435" cy="145" r="2.75"/><circle cx="448.8" cy="131.2" r="2.75"/><circle cx="451.2" cy="132.5" r="2.75"/><circle cx="455" cy="135" r="2.75"/><circle cx="456.2" cy="140" r="2.75"/><circle cx="453.8" cy="141.2" r="2.75"/><circle cx="458.8" cy="145.5" r="2.75"/><circle cx="453.8" cy="147.5" r="2.75"/><circle cx="455" cy="150" r="2.75"/><circle cx="450" cy="136.2" r="2.75"/><circle cx="452" cy="140" r="2.75"/><circle cx="926.7" cy="222" r="2.75"/><circle cx="927.3" cy="226.3" r="2.75"/><circle cx="580.5" cy="394.5" r="2.75"/><circle cx="580.5" cy="399.5" r="2.75"/><circle cx="580" cy="406.2" r="2.75"/><circle cx="677.5" cy="438" r="2.75"/><circle cx="648.8" cy="487" r="2.75"/><circle cx="691.2" cy="413.8" r="2.75"/><circle cx="798" cy="485" r="2.75"/><circle cx="798.8" cy="477.5" r="2.75"/><circle cx="827" cy="413.8" r="2.75"/><circle cx="760.5" cy="415.5" r="2.75"/><circle cx="758.8" cy="417.5" r="2.75"/><circle cx="834.5" cy="353" r="2.75"/><circle cx="856.2" cy="298.8" r="2.75"/><circle cx="856.2" cy="306.2" r="2.75"/><circle cx="861.2" cy="354.5" r="2.75"/><circle cx="860.8" cy="360.5" r="2.75"/><circle cx="860" cy="386.2" r="2.75"/><circle cx="847.5" cy="361.2" r="2.75"/><circle cx="846.8" cy="363.8" r="2.75"/><circle cx="893" cy="175.5" r="2.75"/><circle cx="892.5" cy="178" r="2.75"/><circle cx="902.5" cy="183.8" r="2.75"/><circle cx="879.5" cy="191.2" r="2.75"/><circle cx="925.5" cy="237.5" r="2.75"/><circle cx="926.2" cy="216.2" r="2.75"/><circle cx="927" cy="213" r="2.75"/><circle cx="928" cy="200.5" r="2.75"/><circle cx="388.7" cy="356.8" r="2.75"/><circle cx="390" cy="364.8" r="2.75"/><circle cx="389.5" cy="373.9" r="2.75"/><circle cx="389.2" cy="384.5" r="2.75"/><circle cx="383.8" cy="236.2" r="2.75"/><circle cx="384.5" cy="240" r="2.75"/><circle cx="383.8" cy="247.5" r="2.75"/><circle cx="383" cy="255" r="2.75"/><circle cx="397" cy="187.5" r="2.75"/><circle cx="397.5" cy="201.2" r="2.75"/><circle cx="398" cy="203.8" r="2.75"/><circle cx="458.8" cy="188.8" r="2.75"/><circle cx="462.5" cy="188.8" r="2.75"/><circle cx="497.5" cy="272.5" r="2.75"/><circle cx="521.8" cy="348" r="2.75"/><circle cx="522.5" cy="353.8" r="2.75"/><circle cx="552.5" cy="346.2" r="2.75"/><circle cx="545" cy="276.2" r="2.75"/><circle cx="125.3" cy="360" r="2.75"/><circle cx="124.5" cy="366.1" r="2.75"/><circle cx="125.3" cy="372" r="2.75"/><circle cx="126.1" cy="377.3" r="2.75"/><circle cx="125.3" cy="380" r="2.75"/><circle cx="142.7" cy="425.3" r="2.75"/><circle cx="143.5" cy="430.7" r="2.75"/><circle cx="144" cy="434.7" r="2.75"/><circle cx="144.8" cy="438.7" r="2.75"/><circle cx="145.3" cy="442.7" r="2.75"/><circle cx="145.9" cy="446.1" r="2.75"/><circle cx="146.7" cy="424" r="2.75"/><circle cx="147.5" cy="414.7" r="2.75"/><circle cx="151.2" cy="376.8" r="2.75"/><circle cx="153.3" cy="319.2" r="2.75"/><circle cx="153.3" cy="330.7" r="2.75"/><circle cx="159.2" cy="328" r="2.75"/><circle cx="160" cy="334.7" r="2.75"/><circle cx="154.7" cy="365.3" r="2.75"/><circle cx="154.7" cy="368.8" r="2.75"/><circle cx="172" cy="377.3" r="2.75"/><circle cx="233.3" cy="348.5" r="2.75"/><circle cx="253.3" cy="358.1" r="2.75"/><circle cx="274.7" cy="414.7" r="2.75"/><circle cx="276" cy="409.3" r="2.75"/><circle cx="891.3" cy="232.5" r="2.75"/></g>
<path d="M120,394.9 120.3,395.1 120.5,395.4 120.8,395.7 121,395.9 121.3,396.2 121.5,396.5 121.8,396.8 122,397.1 122.3,397.3 122.5,397.6 122.8,397.8 123.1,398.1 123.3,398.3 123.6,398.6 123.8,398.8 124.1,399 124.3,399.2 124.6,399.4 124.8,399.5 125.1,399.5 125.4,399.5 125.6,399.4 125.9,399.2 126.1,399 126.4,398.7 126.6,398.3 126.9,398 127.1,397.6 127.4,397.3 127.6,396.9 127.9,396.5 128.2,396.1 128.4,395.7 128.7,395.3 128.9,394.9 129.2,394.5 129.4,394.1 129.7,393.7 129.9,393.3 130.2,392.9 130.5,392.5 130.7,392.1 131,391.6 131.2,391.2 131.5,390.8 131.7,390.4 132,390 132.2,389.6 132.5,389.2 132.7,388.8 133,388.5 133.3,388.1 133.5,387.8 133.8,387.4 134,387.1 134.3,386.8 134.5,386.4 134.8,386.1 135,385.7 135.3,385.4 135.6,385.1 135.8,384.7 136.1,384.4 136.3,384.1 136.6,383.7 136.8,383.4 137.1,383.1 137.3,382.7 137.6,382.4 137.8,382.1 138.1,381.8 138.4,381.5 138.6,381.2 138.9,380.9 139.1,380.6 139.4,380.4 139.6,380.1 139.9,379.9 140.1,379.8 140.4,379.8 140.6,379.9 140.9,380.1 141.2,380.4 141.4,380.8 141.7,381.2 141.9,381.7 142.2,382.2 142.4,382.7 142.7,383.2 142.9,383.8 143.2,384.3 143.5,384.9 143.7,385.4 144,386 144.2,386.5 144.5,387.1 144.7,387.6 145,388.1 145.2,388.6 145.5,389.1 145.7,389.6 146,389.9 146.3,390.2 146.5,390.4 146.8,390.5 147,390.4 147.3,390.2 147.5,389.9 147.8,389.6 148,389.2 148.3,388.8 148.6,388.3 148.8,387.8 149.1,387.4 149.3,386.9 149.6,386.4 149.8,385.9 150.1,385.4 150.3,385 150.6,384.5 150.8,384 151.1,383.5 151.4,383.1 151.6,382.6 151.9,382.2 152.1,381.8 152.4,381.4 152.6,381 152.9,380.7 153.1,380.5 153.4,380.3 153.6,380.3 153.9,380.2 154.2,380.2 154.4,380.3 154.7,380.3 154.9,380.4 155.2,380.4 155.4,380.5 155.7,380.6 155.9,380.6 156.2,380.7 156.5,380.8 156.7,380.8 157,380.9 157.2,381 157.5,381.1 157.7,381.1 158,381.2 158.2,381.3 158.5,381.3 158.7,381.4 159,381.5 159.3,381.6 159.5,381.7 159.8,381.7 160,381.8 160.3,381.9 160.5,382 160.8,382.1 161,382.1 161.3,382.2 161.6,382.3 161.8,382.4 162.1,382.6 162.3,382.7 162.6,382.9 162.8,383.2 163.1,383.5 163.3,383.9 163.6,384.3 163.8,384.7 164.1,385.2 164.4,385.7 164.6,386.2 164.9,386.7 165.1,387.2 165.4,387.8 165.6,388.3 165.9,388.8 166.1,389.4 166.4,389.9 166.7,390.5 166.9,391 167.2,391.6 167.4,392.2 167.7,392.7 167.9,393.3 168.2,393.8 168.4,394.4 168.7,394.9 168.9,395.5 169.2,396 169.5,396.5 169.7,397.1 170,397.6 170.2,398.1 170.5,398.6 170.7,399.1 171,399.5 171.2,400 171.5,400.3 171.7,400.7 172,401 172.3,401.2 172.5,401.3 172.8,401.5 173,401.6 173.3,401.7 173.5,401.7 173.8,401.8 174,401.9 174.3,401.9 174.6,402 174.8,402 175.1,402.1 175.3,402.2 175.6,402.2 175.8,402.3 176.1,402.4 176.3,402.4 176.6,402.5 176.8,402.6 177.1,402.8 177.4,402.9 177.6,403.1 177.9,403.3 178.1,403.6 178.4,403.9 178.6,404.1 178.9,404.4 179.1,404.8 179.4,405.1 179.7,405.4 179.9,405.7 180.2,406 180.4,406.3 180.7,406.6 180.9,407 181.2,407.2 181.4,407.5 181.7,407.8 181.9,408 182.2,408.2 182.5,408.4 182.7,408.4 183,408.4 183.2,408.4 183.5,408.3 183.7,408.1 184,407.9 184.2,407.7 184.5,407.5 184.8,407.3 185,407.1 185.3,406.9 185.5,406.7 185.8,406.4 186,406.2 186.3,406 186.5,405.8 186.8,405.6 187,405.4 187.3,405.3 187.6,405.1 187.8,405 188.1,404.9 188.3,404.9 188.6,404.8 188.8,404.8 189.1,404.8 189.3,404.8 189.6,404.8 189.8,404.8 190.1,404.8 190.4,404.8 190.6,404.8 190.9,404.8 191.1,404.8 191.4,404.7 191.6,404.7 191.9,404.6 192.1,404.4 192.4,404.2 192.7,403.9 192.9,403.5 193.2,403.1 193.4,402.7 193.7,402.3 193.9,401.9 194.2,401.4 194.4,401 194.7,400.6 194.9,400.2 195.2,399.8 195.5,399.6 195.7,399.4 196,399.3 196.2,399.3 196.5,399.4 196.7,399.6 197,399.9 197.2,400.2 197.5,400.6 197.8,400.9 198,401.3 198.3,401.7 198.5,402.1 198.8,402.4 199,402.8 199.3,403.2 199.5,403.6 199.8,404 200,404.4 200.3,404.8 200.6,405.2 200.8,405.6 201.1,405.9 201.3,406.3 201.6,406.6 201.8,407 202.1,407.2 202.3,407.5 202.6,407.7 202.8,407.8 203.1,407.9 203.4,407.9 203.6,408 203.9,408 204.1,408 204.4,408 204.6,408 204.9,408 205.1,408 205.4,408 205.7,408 205.9,408 206.2,408 206.4,408 206.7,408 206.9,408 207.2,408 207.4,408 207.7,407.9 207.9,407.9 208.2,407.8 208.5,407.7 208.7,407.6 209,407.4 209.2,407.3 209.5,407.1 209.7,406.9 210,406.7 210.2,406.6 210.5,406.4 210.8,406.2 211,406 211.3,405.8 211.5,405.6 211.8,405.4 212,405.3 212.3,405.1 212.5,405 212.8,404.9 213,404.8 213.3,404.8 213.6,404.8 213.8,405 214.1,405.1 214.3,405.3 214.6,405.5 214.8,405.7 215.1,405.9 215.3,406.2 215.6,406.4 215.9,406.7 216.1,406.9 216.4,407.2 216.6,407.4 216.9,407.7 217.1,407.9 217.4,408.1 217.6,408.4 217.9,408.6 218.1,408.8 218.4,409 218.7,409.2 218.9,409.3 219.2,409.4 219.4,409.3 219.7,409.2 219.9,408.9 220.2,408.6 220.4,408.2 220.7,407.7 220.9,407.2 221.2,406.6 221.5,406.1 221.7,405.5 222,404.9 222.2,404.3 222.5,403.7 222.7,403.2 223,402.6 223.2,402 223.5,401.4 223.8,400.8 224,400.2 224.3,399.6 224.5,399 224.8,398.5 225,397.9 225.3,397.5 225.5,397 225.8,396.5 226,396.1 226.3,395.6 226.6,395.2 226.8,394.8 227.1,394.3 227.3,393.9 227.6,393.5 227.8,393.1 228.1,392.6 228.3,392.2 228.6,391.8 228.9,391.3 229.1,390.9 229.4,390.5 229.6,390.1 229.9,389.7 230.1,389.3 230.4,388.9 230.6,388.5 230.9,388.1 231.1,387.7 231.4,387.3 231.7,386.9 231.9,386.6 232.2,386.3 232.4,386 232.7,385.7 232.9,385.6 233.2,385.5 233.4,385.5 233.7,385.7 233.9,385.9 234.2,386.3 234.5,386.7 234.7,387.2 235,387.7 235.2,388.2 235.5,388.7 235.7,389.2 236,389.7 236.2,390.3 236.5,390.8 236.8,391.3 237,391.8 237.3,392.3 237.5,392.7 237.8,393.2 238,393.5 238.3,393.8 238.5,393.9 238.8,393.9 239,393.8 239.3,393.5 239.6,393.2 239.8,392.7 240.1,392.3 240.3,391.7 240.6,391.2 240.8,390.7 241.1,390.1 241.3,389.6 241.6,389 241.9,388.4 242.1,387.8 242.4,387.3 242.6,386.7 242.9,386.1 243.1,385.6 243.4,385 243.6,384.5 243.9,383.9 244.1,383.4 244.4,382.9 244.7,382.5 244.9,382.1 245.2,381.8 245.4,381.6 245.7,381.4 245.9,381.2 246.2,381.1 246.4,381 246.7,380.9 247,380.9 247.2,380.8 247.5,380.7 247.7,380.7 248,380.6 248.2,380.5 248.5,380.5 248.7,380.4 249,380.4 249.2,380.3 249.5,380.2 249.8,380.2 250,380.1 250.3,380.1 250.5,380 250.8,380 251,379.9 251.3,379.8 251.5,379.8 251.8,379.7 252,379.7 252.3,379.6 252.6,379.6 252.8,379.5 253.1,379.5 253.3,379.4 253.6,379.4 253.8,379.4 254.1,379.3 254.3,379.3 254.6,379.4 254.9,379.4 255.1,379.5 255.4,379.6 255.6,379.7 255.9,379.8 256.1,380 256.4,380.2 256.6,380.3 256.9,380.5 257.1,380.7 257.4,380.8 257.7,381 257.9,381.2 258.2,381.4 258.4,381.5 258.7,381.7 258.9,381.9 259.2,382.1 259.4,382.4 259.7,382.6 260,382.9 260.2,383.2 260.5,383.5 260.7,383.9 261,384.4 261.2,384.8 261.5,385.3 261.7,385.8 262,386.2 262.2,386.7 262.5,387.2 262.8,387.7 263,388.2 263.3,388.7 263.5,389.2 263.8,389.7 264,390.2 264.3,390.7 264.5,391.2 264.8,391.6 265.1,392.1 265.3,392.5 265.6,393 265.8,393.4 266.1,393.7 266.3,394 266.6,394.2 266.8,394.4 267.1,394.5 267.3,394.5 267.6,394.5 267.9,394.5 268.1,394.4 268.4,394.4 268.6,394.3 268.9,394.3 269.1,394.2 269.4,394.2 269.6,394.1 269.9,394.1 270.1,394.1 270.4,394.1 270.7,394.1 270.9,394.2 271.2,394.4 271.4,394.6 271.7,394.8 271.9,395 272.2,395.3 272.4,395.6 272.7,395.8 273,396.1 273.2,396.4 273.5,396.7 273.7,397 274,397.3 274.2,397.5 274.5,397.8 274.7,398 275,398.1 275.2,398.2 275.5,398.3 275.8,398.2 276,398.1 276.3,397.9 276.5,397.6 276.8,397.4 277,397.1 277.3,396.8 277.5,396.4 277.8,396.1 278.1,395.8 278.3,395.5 278.6,395.1 278.8,394.8 279.1,394.5 279.3,394.1 279.6,393.8 279.8,393.5 280.1,393.2 280.3,392.9 280.6,392.5 280.9,392.2 281.1,391.9 281.4,391.6 281.6,391.3 281.9,390.9 282.1,390.6 282.4,390.3 282.6,390 282.9,389.7 283.1,389.3 283.4,389 283.7,388.7 283.9,388.4 284.2,388.1 284.4,387.8 284.7,387.5 284.9,387.2 285.2,386.9 285.4,386.6 285.7,386.4 286,386.1 286.2,385.9 286.5,385.6 286.7,385.4 287,385.2 287.2,384.9 287.5,384.7 287.7,384.5 288,384.2 288.2,384 288.5,383.8 288.8,383.7 289,383.5 289.3,383.4 289.5,383.4 289.8,383.5 290,383.6 290.3,383.8 290.5,384.1 290.8,384.3 291.1,384.7 291.3,385 291.6,385.3 291.8,385.7 292.1,386 292.3,386.4 292.6,386.7 292.8,387.1 293.1,387.4 293.3,387.8 293.6,388.1 293.9,388.4 294.1,388.6 294.4,388.8 294.6,389 294.9,389.1 295.1,389.1 295.4,389.1 295.6,389.1 295.9,389 296.2,389 296.4,388.9 296.7,388.9 296.9,388.8 297.2,388.8 297.4,388.7 297.7,388.6 297.9,388.6 298.2,388.5 298.4,388.4 298.7,388.4 299,388.3 299.2,388.2 299.5,388.1 299.7,388 300,387.9 300.2,387.7 300.5,387.6 300.7,387.4 301,387.2 301.2,387 301.5,386.7 301.8,386.5 302,386.3 302.3,386 302.5,385.8 302.8,385.5 303,385.3 303.3,385 303.5,384.8 303.8,384.5 304.1,384.3 304.3,384.1 304.6,383.8 304.8,383.6 305.1,383.4 305.3,383.2 305.6,382.9 305.8,382.8 306.1,382.6 306.3,382.5 306.6,382.4 306.9,382.4 307.1,382.4 307.4,382.5 307.6,382.6 307.9,382.7 308.1,382.9 308.4,383.1 308.6,383.2 308.9,383.4 309.2,383.6 309.4,383.7 309.7,383.9 309.9,384.1 310.2,384.3 310.4,384.4 310.7,384.6 310.9,384.7 311.2,384.8 311.4,384.9 311.7,384.9 312,384.8 312.2,384.6 312.5,384.3 312.7,383.9 313,383.4 313.2,382.9 313.5,382.3 313.7,381.8 314,381.2 314.3,380.6 314.5,380 314.8,379.3 315,378.7 315.3,378.1 315.5,377.5 315.8,376.8 316,376.2 316.3,375.6 316.5,375 316.8,374.5 317.1,373.9 317.3,373.4 317.6,372.9 317.8,372.5 318.1,372 318.3,371.6 318.6,371.2 318.8,370.8 319.1,370.4 319.3,369.9 319.6,369.5 319.9,369.1 320.1,368.7 320.4,368.3 320.6,367.9 320.9,367.5 321.1,367.1 321.4,366.7 321.6,366.3 321.9,365.9 322.2,365.5 322.4,365.1 322.7,364.7 322.9,364.3 323.2,364 323.4,363.6 323.7,363.2 323.9,362.9 324.2,362.6 324.4,362.3 324.7,362 325,361.7 325.2,361.4 325.5,361.1 325.7,360.9 326,360.6 326.2,360.3 326.5,360.1 326.7,359.9 327,359.8 327.3,359.7 327.5,359.7 327.8,359.8 328,360 328.3,360.3 328.5,360.6 328.8,361 329,361.4 329.3,361.9 329.5,362.3 329.8,362.7 330.1,363.2 330.3,363.6 330.6,364.1 330.8,364.5 331.1,365 331.3,365.4 331.6,365.8 331.8,366.1 332.1,366.4 332.3,366.6 332.6,366.8 332.9,366.7 333.1,366.5 333.4,366.2 333.6,365.8 333.9,365.3 334.1,364.8 334.4,364.2 334.6,363.6 334.9,362.9 335.2,362.3 335.4,361.7 335.7,361 335.9,360.4 336.2,359.8 336.4,359.2 336.7,358.7 336.9,358.2 337.2,357.8 337.4,357.4 337.7,357.1 338,356.8 338.2,356.6 338.5,356.3 338.7,356.1 339,355.9 339.2,355.7 339.5,355.5 339.7,355.3 340,355.1 340.3,354.9 340.5,354.8 340.8,354.6 341,354.4 341.3,354.2 341.5,354 341.8,353.9 342,353.7 342.3,353.6 342.5,353.5 342.8,353.4 343.1,353.3 343.3,353.3 343.6,353.2 343.8,353.2 344.1,353.2 344.3,353.1 344.6,353.1 344.8,353.1 345.1,353.1 345.4,353.1 345.6,353 345.9,353 346.1,353 346.4,353 346.6,353 346.9,352.9 347.1,352.9 347.4,352.9 347.6,352.9 347.9,352.9 348.2,352.9 348.4,352.9 348.7,353 348.9,353.1 349.2,353.2 349.4,353.4 349.7,353.6 349.9,353.9 350.2,354.2 350.4,354.4 350.7,354.7 351,355 351.2,355.3 351.5,355.6 351.7,356 352,356.3 352.2,356.6 352.5,356.9 352.7,357.2 353,357.5 353.3,357.9 353.5,358.2 353.8,358.5 354,358.8 354.3,359.1 354.5,359.4 354.8,359.6 355,359.9 355.3,360.1 355.5,360.3 355.8,360.4 356.1,360.4 356.3,360.4 356.6,360.3 356.8,360.2 357.1,360 357.3,359.8 357.6,359.6 357.8,359.3 358.1,359.1 358.4,358.9 358.6,358.6 358.9,358.4 359.1,358.1 359.4,357.8 359.6,357.5 359.9,357.2 360.1,356.8 360.4,356.4 360.6,355.9 360.9,355.4 361.2,354.8 361.4,354.3 361.7,353.7 361.9,353.1 362.2,352.5 362.4,352 362.7,351.4 362.9,350.8 363.2,350.2 363.4,349.6 363.7,349 364,348.4 364.2,347.8 364.5,347.2 364.7,346.6 365,346 365.2,345.5 365.5,345 365.7,344.4 366,343.9 366.3,343.4 366.5,342.9 366.8,342.4 367,341.9 367.3,341.5 367.5,341 367.8,340.5 368,340 368.3,339.5 368.5,339 368.8,338.5 369.1,338 369.3,337.5 369.6,337 369.8,336.5 370.1,335.9 370.3,335.3 370.6,334.7 370.8,334.1 371.1,333.4 371.4,332.7 371.6,331.9 371.9,331.2 372.1,330.4 372.4,329.6 372.6,328.8 372.9,328 373.1,327.2 373.4,326.3 373.6,325.5 373.9,324.7 374.2,323.8 374.4,323 374.7,322 374.9,321 375.2,320 375.4,318.8 375.7,317.6 375.9,316.2 376.2,314.7 376.5,313.2 376.7,311.6 377,310.1 377.2,308.5 377.5,306.9 377.7,305.3 378,303.7 378.2,302.2 378.5,300.7 378.7,299.3 379,298 379.3,296.8 379.5,295.8 379.8,294.8 380,294 380.3,293.1 380.5,292.4 380.8,291.7 381,291 381.3,290.3 381.5,289.8 381.8,289.3 382.1,288.9 382.3,288.5 382.6,288.3 382.8,288 383.1,287.9 383.3,287.7 383.6,287.6 383.8,287.4 384.1,287.3 384.4,287.2 384.6,287 384.9,286.9 385.1,286.8 385.4,286.6 385.6,286.5 385.9,286.3 386.1,286.1 386.4,285.9 386.6,285.6 386.9,285.3 387.2,284.9 387.4,284.5 387.7,284.1 387.9,283.7 388.2,283.3 388.4,282.8 388.7,282.4 388.9,281.9 389.2,281.4 389.5,280.9 389.7,280.3 390,279.7 390.2,278.9 390.5,278.1 390.7,277.2 391,276.3 391.2,275.3 391.5,274.3 391.7,273.2 392,272.2 392.3,271.1 392.5,270.1 392.8,269 393,268 393.3,266.9 393.5,265.9 393.8,264.9 394,263.9 394.3,262.9 394.6,261.9 394.8,260.9 395.1,259.9 395.3,258.9 395.6,257.9 395.8,257 396.1,256 396.3,255 396.6,254 396.8,253 397.1,252 397.4,251.1 397.6,250.1 397.9,249.2 398.1,248.2 398.4,247.3 398.6,246.4 398.9,245.6 399.1,244.8 399.4,244.1 399.6,243.5 399.9,243 400.2,242.4 400.4,241.9 400.7,241.5 400.9,241 401.2,240.6 401.4,240.1 401.7,239.7 401.9,239.3 402.2,238.8 402.5,238.4 402.7,238 403,237.5 403.2,237.1 403.5,236.6 403.7,236.2 404,235.7 404.2,235.3 404.5,234.8 404.7,234.2 405,233.6 405.3,233 405.5,232.3 405.8,231.5 406,230.6 406.3,229.7 406.5,228.7 406.8,227.7 407,226.8 407.3,225.7 407.6,224.7 407.8,223.7 408.1,222.7 408.3,221.7 408.6,220.6 408.8,219.6 409.1,218.6 409.3,217.5 409.6,216.5 409.8,215.4 410.1,214.4 410.4,213.3 410.6,212.3 410.9,211.2 411.1,210.1 411.4,209 411.6,207.8 411.9,206.7 412.1,205.6 412.4,204.4 412.6,203.3 412.9,202.1 413.2,201 413.4,199.8 413.7,198.6 413.9,197.5 414.2,196.3 414.4,195.2 414.7,194 414.9,192.8 415.2,191.7 415.5,190.5 415.7,189.3 416,188.1 416.2,186.9 416.5,185.6 416.7,184.3 417,183 417.2,181.6 417.5,180.3 417.7,178.9 418,177.6 418.3,176.3 418.5,175 418.8,173.7 419,172.5 419.3,171.4 419.5,170.3 419.8,169.4 420,168.7 420.3,168.1 420.6,167.6 420.8,167.2 421.1,166.9 421.3,166.6 421.6,166.4 421.8,166.1 422.1,165.9 422.3,165.6 422.6,165.4 422.8,165.2 423.1,164.9 423.4,164.7 423.6,164.5 423.9,164.2 424.1,163.9 424.4,163.6 424.6,163.3 424.9,162.9 425.1,162.4 425.4,161.7 425.7,161 425.9,160 426.2,159 426.4,157.9 426.7,156.7 426.9,155.5 427.2,154.3 427.4,153.1 427.7,151.9 427.9,150.7 428.2,149.5 428.5,148.4 428.7,147.3 429,146.3 429.2,145.3 429.5,144.4 429.7,143.4 430,142.5 430.2,141.5 430.5,140.5 430.7,139.4 431,138.2 431.3,136.9 431.5,135.6 431.8,134.2 432,132.9 432.3,131.7 432.5,130.6 432.8,129.7 433,128.8 433.3,128.1 433.6,127.4 433.8,126.9 434.1,126.3 434.3,125.8 434.6,125.3 434.8,125 435.1,124.7 435.3,124.5 435.6,124.4 435.8,124.4 436.1,124.4 436.4,124.5 436.6,124.6 436.9,124.7 437.1,124.8 437.4,124.9 437.6,125 437.9,125.2 438.1,125.3 438.4,125.4 438.7,125.6 438.9,125.7 439.2,125.8 439.4,126 439.7,126.1 439.9,126.3 440.2,126.5 440.4,126.7 440.7,126.9 440.9,127.2 441.2,127.5 441.5,127.9 441.7,128.2 442,128.6 442.2,129 442.5,129.5 442.7,129.9 443,130.3 443.2,130.8 443.5,131.2 443.8,131.7 444,132.1 444.3,132.6 444.5,133.2 444.8,133.7 445,134.4 445.3,135 445.5,135.7 445.8,136.5 446,137.3 446.3,138 446.6,138.8 446.8,139.6 447.1,140.4 447.3,141.2 447.6,142 447.8,142.7 448.1,143.5 448.3,144.2 448.6,144.8 448.8,145.4 449.1,146 449.4,146.5 449.6,147 449.9,147.5 450.1,148 450.4,148.4 450.6,148.9 450.9,149.4 451.1,149.8 451.4,150.3 451.7,150.7 451.9,151.1 452.2,151.5 452.4,151.9 452.7,152.3 452.9,152.6 453.2,152.9 453.4,153.1 453.7,153.4 453.9,153.6 454.2,153.8 454.5,154.1 454.7,154.3 455,154.5 455.2,154.7 455.5,154.9 455.7,155.1 456,155.4 456.2,155.6 456.5,155.9 456.8,156.2 457,156.5 457.3,156.8 457.5,157.2 457.8,157.5 458,157.9 458.3,158.3 458.5,158.7 458.8,159.1 459,159.4 459.3,159.8 459.6,160.2 459.8,160.6 460.1,161 460.3,161.4 460.6,161.8 460.8,162.2 461.1,162.6 461.3,163 461.6,163.4 461.8,163.8 462.1,164.2 462.4,164.6 462.6,165.1 462.9,165.5 463.1,165.9 463.4,166.4 463.6,166.8 463.9,167.3 464.1,167.7 464.4,168.1 464.7,168.6 464.9,169 465.2,169.5 465.4,169.9 465.7,170.4 465.9,170.8 466.2,171.3 466.4,171.8 466.7,172.2 466.9,172.7 467.2,173.3 467.5,173.8 467.7,174.4 468,175 468.2,175.6 468.5,176.2 468.7,176.9 469,177.5 469.2,178.2 469.5,178.9 469.8,179.5 470,180.2 470.3,180.8 470.5,181.5 470.8,182.2 471,182.8 471.3,183.5 471.5,184.1 471.8,184.7 472,185.4 472.3,186 472.6,186.6 472.8,187.1 473.1,187.7 473.3,188.3 473.6,188.9 473.8,189.4 474.1,190 474.3,190.6 474.6,191.1 474.9,191.7 475.1,192.3 475.4,192.8 475.6,193.4 475.9,194 476.1,194.6 476.4,195.2 476.6,195.8 476.9,196.4 477.1,197.1 477.4,197.8 477.7,198.5 477.9,199.2 478.2,200 478.4,200.8 478.7,201.6 478.9,202.4 479.2,203.3 479.4,204.1 479.7,204.9 479.9,205.8 480.2,206.6 480.5,207.4 480.7,208.3 481,209.1 481.2,209.9 481.5,210.8 481.7,211.6 482,212.4 482.2,213.2 482.5,214 482.8,214.8 483,215.6 483.3,216.4 483.5,217.2 483.8,218 484,218.7 484.3,219.5 484.5,220.3 484.8,221.1 485,221.9 485.3,222.6 485.6,223.4 485.8,224.2 486.1,225 486.3,225.7 486.6,226.5 486.8,227.2 487.1,228 487.3,228.7 487.6,229.5 487.9,230.2 488.1,230.8 488.4,231.5 488.6,232.1 488.9,232.7 489.1,233.3 489.4,233.9 489.6,234.5 489.9,235.1 490.1,235.7 490.4,236.3 490.7,236.9 490.9,237.4 491.2,238 491.4,238.6 491.7,239.2 491.9,239.8 492.2,240.4 492.4,241 492.7,241.6 492.9,242.2 493.2,242.9 493.5,243.6 493.7,244.3 494,245.1 494.2,245.9 494.5,246.7 494.7,247.5 495,248.4 495.2,249.2 495.5,250 495.8,250.9 496,251.7 496.3,252.6 496.5,253.4 496.8,254.2 497,255 497.3,255.8 497.5,256.6 497.8,257.3 498,258 498.3,258.7 498.6,259.3 498.8,259.8 499.1,260.2 499.3,260.6 499.6,260.9 499.8,261.2 500.1,261.5 500.3,261.8 500.6,262.1 500.9,262.3 501.1,262.6 501.4,262.8 501.6,263.1 501.9,263.4 502.1,263.6 502.4,263.9 502.6,264.1 502.9,264.4 503.1,264.6 503.4,264.9 503.7,265.1 503.9,265.4 504.2,265.7 504.4,265.9 504.7,266.2 504.9,266.5 505.2,266.7 505.4,267 505.7,267.2 506,267.5 506.2,267.8 506.5,268 506.7,268.3 507,268.5 507.2,268.8 507.5,269.1 507.7,269.3 508,269.6 508.2,269.9 508.5,270.1 508.8,270.4 509,270.8 509.3,271.1 509.5,271.5 509.8,271.8 510,272.2 510.3,272.6 510.5,273.1 510.8,273.5 511,273.9 511.3,274.4 511.6,274.8 511.8,275.3 512.1,275.7 512.3,276.2 512.6,276.7 512.8,277.3 513.1,277.9 513.3,278.6 513.6,279.3 513.9,280.2 514.1,281.1 514.4,282.1 514.6,283.2 514.9,284.2 515.1,285.3 515.4,286.3 515.6,287.4 515.9,288.5 516.1,289.5 516.4,290.5 516.7,291.5 516.9,292.4 517.2,293.2 517.4,293.9 517.7,294.6 517.9,295.2 518.2,295.7 518.4,296.3 518.7,296.8 519,297.3 519.2,297.8 519.5,298.2 519.7,298.6 520,299 520.2,299.2 520.5,299.4 520.7,299.5 521,299.4 521.2,299.3 521.5,299.2 521.8,299 522,298.8 522.3,298.6 522.5,298.4 522.8,298.2 523,298 523.3,297.8 523.5,297.6 523.8,297.4 524.1,297.3 524.3,297.1 524.6,297.1 524.8,297.1 525.1,297.3 525.3,297.4 525.6,297.7 525.8,298 526.1,298.4 526.3,298.7 526.6,299.1 526.9,299.5 527.1,299.9 527.4,300.3 527.6,300.7 527.9,301.1 528.1,301.5 528.4,301.9 528.6,302.3 528.9,302.7 529.1,303.1 529.4,303.5 529.7,304 529.9,304.4 530.2,304.8 530.4,305.2 530.7,305.7 530.9,306.1 531.2,306.6 531.4,307 531.7,307.4 532,307.9 532.2,308.3 532.5,308.8 532.7,309.2 533,309.7 533.2,310.1 533.5,310.6 533.7,311 534,311.5 534.2,312 534.5,312.4 534.8,312.9 535,313.4 535.3,314 535.5,314.5 535.8,315.1 536,315.8 536.3,316.6 536.5,317.5 536.8,318.4 537.1,319.3 537.3,320.3 537.6,321.4 537.8,322.4 538.1,323.4 538.3,324.5 538.6,325.6 538.8,326.6 539.1,327.7 539.3,328.8 539.6,329.8 539.9,330.9 540.1,331.9 540.4,333 540.6,334 540.9,334.9 541.1,335.9 541.4,336.8 541.6,337.6 541.9,338.5 542.1,339.3 542.4,340.1 542.7,340.8 542.9,341.6 543.2,342.4 543.4,343.2 543.7,343.9 543.9,344.7 544.2,345.4 544.4,346.2 544.7,346.9 545,347.7 545.2,348.4 545.5,349.2 545.7,349.9 546,350.6 546.2,351.3 546.5,352 546.7,352.6 547,353.2 547.2,353.8 547.5,354.3 547.8,354.9 548,355.4 548.3,355.9 548.5,356.4 548.8,356.9 549,357.4 549.3,357.9 549.5,358.4 549.8,358.9 550.1,359.4 550.3,359.9 550.6,360.4 550.8,360.9 551.1,361.4 551.3,361.9 551.6,362.5 551.8,363.1 552.1,363.8 552.3,364.5 552.6,365.2 552.9,366 553.1,366.8 553.4,367.6 553.6,368.5 553.9,369.3 554.1,370.2 554.4,371 554.6,371.8 554.9,372.6 555.2,373.4 555.4,374.1 555.7,374.8 555.9,375.4 556.2,375.9 556.4,376.4 556.7,376.8 556.9,377.2 557.2,377.6 557.4,377.9 557.7,378.2 558,378.5 558.2,378.9 558.5,379.2 558.7,379.5 559,379.8 559.2,380.1 559.5,380.4 559.7,380.7 560,381 560.2,381.3 560.5,381.6 560.8,381.9 561,382.2 561.3,382.4 561.5,382.7 561.8,383 562,383.3 562.3,383.5 562.5,383.7 562.8,383.9 563.1,384.1 563.3,384.3 563.6,384.4 563.8,384.5 564.1,384.7 564.3,384.8 564.6,384.9 564.8,385 565.1,385.1 565.3,385.2 565.6,385.3 565.9,385.5 566.1,385.6 566.4,385.7 566.6,385.8 566.9,385.9 567.1,386.1 567.4,386.3 567.6,386.5 567.9,386.8 568.2,387.1 568.4,387.6 568.7,388.1 568.9,388.6 569.2,389.2 569.4,389.8 569.7,390.5 569.9,391.1 570.2,391.8 570.4,392.5 570.7,393.2 571,393.9 571.2,394.5 571.5,395.2 571.7,395.9 572,396.6 572.2,397.3 572.5,397.9 572.7,398.6 573,399.2 573.3,399.7 573.5,400.3 573.8,400.8 574,401.3 574.3,401.8 574.5,402.3 574.8,402.7 575,403.2 575.3,403.7 575.5,404.1 575.8,404.6 576.1,405 576.3,405.5 576.6,406 576.8,406.4 577.1,406.9 577.3,407.3 577.6,407.8 577.8,408.2 578.1,408.7 578.3,409.1 578.6,409.6 578.9,410 579.1,410.4 579.4,410.9 579.6,411.3 579.9,411.7 580.1,412.1 580.4,412.5 580.6,412.9 580.9,413.3 581.2,413.6 581.4,414 581.7,414.3 581.9,414.7 582.2,415 582.4,415.4 582.7,415.7 582.9,416.1 583.2,416.4 583.4,416.8 583.7,417.1 584,417.5 584.2,417.8 584.5,418.2 584.7,418.5 585,418.9 585.2,419.2 585.5,419.6 585.7,419.9 586,420.3 586.3,420.7 586.5,421.1 586.8,421.5 587,422 587.3,422.5 587.5,423 587.8,423.6 588,424.1 588.3,424.7 588.5,425.3 588.8,425.8 589.1,426.4 589.3,427 589.6,427.5 589.8,428.1 590.1,428.7 590.3,429.2 590.6,429.7 590.8,430.2 591.1,430.7 591.3,431.2 591.6,431.6 591.9,431.9 592.1,432.1 592.4,432.2 592.6,432.2 592.9,432.1 593.1,432 593.4,431.9 593.6,431.7 593.9,431.5 594.2,431.3 594.4,431 594.7,430.8 594.9,430.6 595.2,430.4 595.4,430.1 595.7,429.9 595.9,429.7 596.2,429.5 596.4,429.3 596.7,429.1 597,428.9 597.2,428.7 597.5,428.5 597.7,428.3 598,428.2 598.2,428.1 598.5,428 598.7,427.9 599,427.8 599.3,427.7 599.5,427.7 599.8,427.6 600,427.5 600.3,427.4 600.5,427.3 600.8,427.3 601,427.2 601.3,427.1 601.5,427 601.8,427 602.1,426.9 602.3,426.8 602.6,426.7 602.8,426.7 603.1,426.6 603.3,426.6 603.6,426.5 603.8,426.5 604.1,426.5 604.4,426.5 604.6,426.6 604.9,426.8 605.1,427.2 605.4,427.6 605.6,428.2 605.9,428.8 606.1,429.4 606.4,430.1 606.6,430.8 606.9,431.6 607.2,432.3 607.4,433 607.7,433.8 607.9,434.5 608.2,435.3 608.4,436 608.7,436.7 608.9,437.3 609.2,438 609.4,438.7 609.7,439.4 610,440.1 610.2,440.8 610.5,441.5 610.7,442.2 611,442.9 611.2,443.5 611.5,444.1 611.7,444.7 612,445.1 612.3,445.4 612.5,445.6 612.8,445.7 613,445.6 613.3,445.4 613.5,445.1 613.8,444.7 614,444.4 614.3,444 614.5,443.6 614.8,443.2 615.1,442.8 615.3,442.4 615.6,442 615.8,441.6 616.1,441.2 616.3,440.7 616.6,440.3 616.8,439.9 617.1,439.6 617.4,439.2 617.6,438.8 617.9,438.5 618.1,438.2 618.4,437.9 618.6,437.7 618.9,437.6 619.1,437.5 619.4,437.5 619.6,437.5 619.9,437.5 620.2,437.6 620.4,437.6 620.7,437.7 620.9,437.7 621.2,437.8 621.4,437.8 621.7,437.9 621.9,437.9 622.2,438 622.4,438.1 622.7,438.1 623,438.2 623.2,438.2 623.5,438.3 623.7,438.4 624,438.4 624.2,438.5 624.5,438.6 624.7,438.6 625,438.7 625.3,438.8 625.5,438.8 625.8,438.9 626,439 626.3,439.1 626.5,439.2 626.8,439.3 627,439.5 627.3,439.7 627.5,440 627.8,440.4 628.1,440.8 628.3,441.2 628.6,441.7 628.8,442.1 629.1,442.6 629.3,443.1 629.6,443.6 629.8,444.2 630.1,444.7 630.4,445.2 630.6,445.7 630.9,446.2 631.1,446.8 631.4,447.3 631.6,447.8 631.9,448.3 632.1,448.8 632.4,449.3 632.6,449.8 632.9,450.4 633.2,450.9 633.4,451.5 633.7,452 633.9,452.5 634.2,453.1 634.4,453.6 634.7,454.2 634.9,454.7 635.2,455.2 635.5,455.8 635.7,456.3 636,456.8 636.2,457.3 636.5,457.7 636.7,458.2 637,458.5 637.2,458.9 637.5,459.2 637.7,459.5 638,459.8 638.3,460.1 638.5,460.3 638.8,460.5 639,460.8 639.3,460.9 639.5,461.1 639.8,461.2 640,461.2 640.3,461.3 640.5,461.3 640.8,461.2 641.1,461.2 641.3,461.2 641.6,461.2 641.8,461.1 642.1,461.1 642.3,461.2 642.6,461.3 642.8,461.4 643.1,461.6 643.4,461.8 643.6,462.1 643.9,462.4 644.1,462.7 644.4,463 644.6,463.3 644.9,463.7 645.1,464 645.4,464.4 645.6,464.7 645.9,465 646.2,465.3 646.4,465.6 646.7,465.9 646.9,466.1 647.2,466.3 647.4,466.4 647.7,466.4 647.9,466.4 648.2,466.3 648.5,466.1 648.7,466 649,465.8 649.2,465.6 649.5,465.4 649.7,465.2 650,465 650.2,464.7 650.5,464.5 650.7,464.3 651,464.1 651.3,463.9 651.5,463.7 651.8,463.5 652,463.3 652.3,463.2 652.5,463 652.8,462.9 653,462.8 653.3,462.7 653.6,462.6 653.8,462.5 654.1,462.4 654.3,462.3 654.6,462.2 654.8,462.1 655.1,462 655.3,461.9 655.6,461.8 655.8,461.7 656.1,461.5 656.4,461.4 656.6,461.2 656.9,461 657.1,460.7 657.4,460.4 657.6,460.1 657.9,459.8 658.1,459.4 658.4,459.1 658.6,458.7 658.9,458.3 659.2,457.9 659.4,457.6 659.7,457.2 659.9,456.8 660.2,456.5 660.4,456.1 660.7,455.8 660.9,455.5 661.2,455.2 661.5,454.9 661.7,454.7 662,454.6 662.2,454.5 662.5,454.6 662.7,454.7 663,454.9 663.2,455.2 663.5,455.5 663.7,455.9 664,456.2 664.3,456.6 664.5,457 664.8,457.4 665,457.7 665.3,458.1 665.5,458.5 665.8,458.9 666,459.2 666.3,459.6 666.6,459.9 666.8,460.2 667.1,460.5 667.3,460.8 667.6,461 667.8,461.1 668.1,461.2 668.3,461.3 668.6,461.3 668.8,461.3 669.1,461.3 669.4,461.3 669.6,461.3 669.9,461.3 670.1,461.2 670.4,461.2 670.6,461.2 670.9,461.2 671.1,461.1 671.4,461.1 671.6,461.1 671.9,461.1 672.2,461.1 672.4,461 672.7,461 672.9,461 673.2,461 673.4,460.9 673.7,460.9 673.9,460.9 674.2,460.8 674.5,460.8 674.7,460.7 675,460.6 675.2,460.5 675.5,460.4 675.7,460.2 676,460 676.2,459.8 676.5,459.7 676.7,459.5 677,459.3 677.3,459.1 677.5,458.9 677.8,458.7 678,458.5 678.3,458.3 678.5,458.1 678.8,458 679,457.9 679.3,457.8 679.6,457.7 679.8,457.8 680.1,457.9 680.3,458 680.6,458.2 680.8,458.4 681.1,458.7 681.3,459 681.6,459.3 681.8,459.5 682.1,459.8 682.4,460.1 682.6,460.4 682.9,460.7 683.1,461 683.4,461.3 683.6,461.5 683.9,461.7 684.1,461.9 684.4,462 684.7,462.1 684.9,462 685.2,461.8 685.4,461.6 685.7,461.3 685.9,460.9 686.2,460.5 686.4,460.1 686.7,459.6 686.9,459.2 687.2,458.7 687.5,458.2 687.7,457.7 688,457.2 688.2,456.8 688.5,456.3 688.7,455.8 689,455.3 689.2,454.8 689.5,454.3 689.7,453.9 690,453.4 690.3,452.9 690.5,452.5 690.8,452.1 691,451.7 691.3,451.4 691.5,451.1 691.8,450.7 692,450.4 692.3,450.1 692.6,449.8 692.8,449.4 693.1,449.1 693.3,448.8 693.6,448.5 693.8,448.2 694.1,447.9 694.3,447.6 694.6,447.3 694.8,446.9 695.1,446.6 695.4,446.3 695.6,446 695.9,445.8 696.1,445.5 696.4,445.2 696.6,444.9 696.9,444.6 697.1,444.4 697.4,444.1 697.7,443.9 697.9,443.7 698.2,443.6 698.4,443.6 698.7,443.6 698.9,443.8 699.2,444 699.4,444.3 699.7,444.7 699.9,445.1 700.2,445.6 700.5,446.1 700.7,446.5 701,447 701.2,447.5 701.5,448 701.7,448.6 702,449.1 702.2,449.6 702.5,450.1 702.8,450.6 703,451.1 703.3,451.6 703.5,452.1 703.8,452.5 704,453 704.3,453.4 704.5,453.8 704.8,454.1 705,454.3 705.3,454.4 705.6,454.4 705.8,454.2 706.1,454 706.3,453.7 706.6,453.4 706.8,453.1 707.1,452.7 707.3,452.3 707.6,451.9 707.8,451.5 708.1,451.1 708.4,450.7 708.6,450.3 708.9,449.9 709.1,449.5 709.4,449.1 709.6,448.7 709.9,448.3 710.1,447.9 710.4,447.5 710.7,447.2 710.9,446.8 711.2,446.5 711.4,446.3 711.7,446 711.9,445.9 712.2,445.8 712.4,445.7 712.7,445.7 712.9,445.7 713.2,445.7 713.5,445.8 713.7,445.8 714,445.9 714.2,445.9 714.5,446 714.7,446 715,446.1 715.2,446.1 715.5,446.2 715.8,446.3 716,446.3 716.3,446.4 716.5,446.4 716.8,446.5 717,446.6 717.3,446.6 717.5,446.7 717.8,446.8 718,446.9 718.3,447 718.6,447.1 718.8,447.3 719.1,447.5 719.3,447.7 719.6,448 719.8,448.2 720.1,448.5 720.3,448.8 720.6,449.1 720.8,449.4 721.1,449.7 721.4,450 721.6,450.4 721.9,450.7 722.1,451 722.4,451.4 722.6,451.7 722.9,452 723.1,452.4 723.4,452.8 723.7,453.2 723.9,453.6 724.2,454.1 724.4,454.6 724.7,455.2 724.9,455.9 725.2,456.5 725.4,457.2 725.7,457.9 725.9,458.6 726.2,459.3 726.5,460 726.7,460.8 727,461.5 727.2,462.2 727.5,462.9 727.7,463.6 728,464.2 728.2,464.9 728.5,465.5 728.8,466.1 729,466.6 729.3,467.1 729.5,467.5 729.8,467.8 730,468.1 730.3,468.3 730.5,468.5 730.8,468.7 731,468.9 731.3,469.1 731.6,469.3 731.8,469.5 732.1,469.7 732.3,469.9 732.6,470.1 732.8,470.3 733.1,470.4 733.3,470.6 733.6,470.8 733.9,471 734.1,471.2 734.4,471.5 734.6,471.7 734.9,472 735.1,472.2 735.4,472.5 735.6,472.8 735.9,473.1 736.1,473.5 736.4,473.8 736.7,474.1 736.9,474.4 737.2,474.8 737.4,475.1 737.7,475.4 737.9,475.7 738.2,476 738.4,476.4 738.7,476.6 738.9,476.9 739.2,477.2 739.5,477.4 739.7,477.5 740,477.6 740.2,477.7 740.5,477.6 740.7,477.5 741,477.4 741.2,477.3 741.5,477.1 741.8,476.9 742,476.7 742.3,476.5 742.5,476.3 742.8,476.2 743,476 743.3,475.8 743.5,475.6 743.8,475.4 744,475.2 744.3,475.1 744.6,474.9 744.8,474.8 745.1,474.7 745.3,474.7 745.6,474.6 745.8,474.6 746.1,474.7 746.3,474.7 746.6,474.7 746.9,474.8 747.1,474.9 747.4,474.9 747.6,475 747.9,475 748.1,475.1 748.4,475.1 748.6,475.1 748.9,475.1 749.1,475.1 749.4,475 749.7,474.8 749.9,474.6 750.2,474.4 750.4,474.1 750.7,473.8 750.9,473.4 751.2,473.1 751.4,472.8 751.7,472.4 751.9,472.1 752.2,471.7 752.5,471.4 752.7,471 753,470.7 753.2,470.4 753.5,470 753.7,469.8 754,469.5 754.2,469.3 754.5,469.2 754.8,469.2 755,469.3 755.3,469.4 755.5,469.7 755.8,470 756,470.3 756.3,470.6 756.5,471 756.8,471.3 757,471.7 757.3,472 757.6,472.4 757.8,472.8 758.1,473.1 758.3,473.5 758.6,473.9 758.8,474.2 759.1,474.6 759.3,475 759.6,475.4 759.9,475.8 760.1,476.2 760.4,476.6 760.6,477 760.9,477.4 761.1,477.8 761.4,478.2 761.6,478.5 761.9,478.9 762.1,479.2 762.4,479.4 762.7,479.6 762.9,479.7 763.2,479.8 763.4,479.8 763.7,479.9 763.9,479.9 764.2,479.9 764.4,479.9 764.7,479.9 765,479.9 765.2,479.9 765.5,479.9 765.7,479.9 766,479.9 766.2,479.9 766.5,479.9 766.7,479.9 767,479.9 767.2,479.8 767.5,479.7 767.8,479.6 768,479.4 768.3,479.1 768.5,478.7 768.8,478.2 769,477.6 769.3,477 769.5,476.4 769.8,475.7 770,475 770.3,474.3 770.6,473.6 770.8,472.9 771.1,472.3 771.3,471.7 771.6,471.1 771.8,470.6 772.1,470.1 772.3,469.8 772.6,469.4 772.9,469.1 773.1,468.8 773.4,468.6 773.6,468.3 773.9,468.1 774.1,467.8 774.4,467.6 774.6,467.4 774.9,467.1 775.1,466.9 775.4,466.6 775.7,466.4 775.9,466.1 776.2,465.9 776.4,465.6 776.7,465.3 776.9,464.9 777.2,464.6 777.4,464.1 777.7,463.6 778,463 778.2,462.4 778.5,461.8 778.7,461.1 779,460.4 779.2,459.7 779.5,459.1 779.7,458.4 780,457.6 780.2,456.9 780.5,456.2 780.8,455.5 781,454.8 781.3,454.1 781.5,453.3 781.8,452.6 782,451.9 782.3,451.1 782.5,450.3 782.8,449.5 783.1,448.7 783.3,447.9 783.6,447 783.8,446.1 784.1,445.2 784.3,444.3 784.6,443.4 784.8,442.5 785.1,441.6 785.3,440.7 785.6,439.8 785.9,438.9 786.1,438 786.4,437.1 786.6,436.1 786.9,435.2 787.1,434.4 787.4,433.5 787.6,432.6 787.9,431.8 788.1,430.9 788.4,430.1 788.7,429.3 788.9,428.4 789.2,427.6 789.4,426.8 789.7,425.9 789.9,425.1 790.2,424.3 790.4,423.5 790.7,422.8 791,422 791.2,421.4 791.5,420.8 791.7,420.3 792,420 792.2,419.7 792.5,419.6 792.7,419.6 793,419.6 793.2,419.6 793.5,419.7 793.8,419.7 794,419.8 794.3,419.9 794.5,420 794.8,420 795,420.1 795.3,420.2 795.5,420.3 795.8,420.3 796.1,420.4 796.3,420.4 796.6,420.4 796.8,420.4 797.1,420.2 797.3,420 797.6,419.6 797.8,419.1 798.1,418.5 798.3,417.8 798.6,417 798.9,416.2 799.1,415.4 799.4,414.5 799.6,413.6 799.9,412.7 800.1,411.8 800.4,410.9 800.6,410 800.9,409.1 801.1,408.2 801.4,407.3 801.7,406.4 801.9,405.6 802.2,404.8 802.4,404 802.7,403.3 802.9,402.6 803.2,401.9 803.4,401.3 803.7,400.7 804,400.1 804.2,399.5 804.5,399 804.7,398.4 805,397.8 805.2,397.3 805.5,396.7 805.7,396.1 806,395.6 806.2,395 806.5,394.5 806.8,393.9 807,393.4 807.3,392.9 807.5,392.4 807.8,391.9 808,391.4 808.3,391 808.5,390.6 808.8,390.2 809.1,389.8 809.3,389.4 809.6,389 809.8,388.6 810.1,388.3 810.3,387.9 810.6,387.5 810.8,387.1 811.1,386.8 811.3,386.4 811.6,386 811.9,385.7 812.1,385.3 812.4,385 812.6,384.7 812.9,384.3 813.1,384 813.4,383.7 813.6,383.4 813.9,383.1 814.2,382.9 814.4,382.7 814.7,382.5 814.9,382.4 815.2,382.3 815.4,382.3 815.7,382.3 815.9,382.3 816.2,382.3 816.4,382.4 816.7,382.4 817,382.4 817.2,382.4 817.5,382.5 817.7,382.5 818,382.5 818.2,382.6 818.5,382.7 818.7,382.8 819,383 819.2,383.2 819.5,383.4 819.8,383.7 820,384 820.3,384.3 820.5,384.6 820.8,384.9 821,385.2 821.3,385.5 821.5,385.8 821.8,386.1 822.1,386.3 822.3,386.6 822.6,386.7 822.8,386.8 823.1,386.7 823.3,386.6 823.6,386.4 823.8,386.1 824.1,385.8 824.3,385.4 824.6,385 824.9,384.5 825.1,384.1 825.4,383.7 825.6,383.2 825.9,382.8 826.1,382.3 826.4,381.9 826.6,381.4 826.9,381 827.2,380.6 827.4,380.2 827.7,379.9 827.9,379.6 828.2,379.3 828.4,379.1 828.7,378.9 828.9,378.8 829.2,378.6 829.4,378.5 829.7,378.3 830,378.2 830.2,378 830.5,377.9 830.7,377.8 831,377.6 831.2,377.5 831.5,377.4 831.7,377.2 832,377.1 832.3,376.9 832.5,376.7 832.8,376.5 833,376.3 833.3,375.9 833.5,375.5 833.8,375.1 834,374.5 834.3,373.9 834.5,373.3 834.8,372.6 835.1,372 835.3,371.3 835.6,370.6 835.8,369.9 836.1,369.2 836.3,368.5 836.6,367.8 836.8,367.1 837.1,366.4 837.3,365.6 837.6,364.9 837.9,364.3 838.1,363.6 838.4,362.9 838.6,362.3 838.9,361.6 839.1,361 839.4,360.4 839.6,359.8 839.9,359.3 840.2,358.7 840.4,358.1 840.7,357.5 840.9,357 841.2,356.4 841.4,355.8 841.7,355.2 841.9,354.7 842.2,354.1 842.4,353.5 842.7,352.9 843,352.4 843.2,351.8 843.5,351.2 843.7,350.6 844,350 844.2,349.5 844.5,348.8 844.7,348.2 845,347.6 845.3,347 845.5,346.3 845.8,345.7 846,345.1 846.3,344.5 846.5,343.9 846.8,343.3 847,342.7 847.3,342.2 847.5,341.7 847.8,341.4 848.1,341 848.3,340.8 848.6,340.6 848.8,340.5 849.1,340.4 849.3,340.3 849.6,340.3 849.8,340.2 850.1,340.1 850.3,340.1 850.6,340 850.9,339.9 851.1,339.9 851.4,339.8 851.6,339.8 851.9,339.7 852.1,339.6 852.4,339.5 852.6,339.5 852.9,339.4 853.2,339.2 853.4,339.1 853.7,338.9 853.9,338.7 854.2,338.5 854.4,338.3 854.7,338 854.9,337.8 855.2,337.5 855.4,337.3 855.7,337 856,336.7 856.2,336.5 856.5,336.2 856.7,335.9 857,335.6 857.2,335.2 857.5,334.8 857.7,334.4 858,334 858.3,333.5 858.5,333 858.8,332.6 859,332.1 859.3,331.6 859.5,331.1 859.8,330.6 860,330 860.3,329.5 860.5,329 860.8,328.5 861.1,328 861.3,327.5 861.6,327 861.8,326.4 862.1,325.9 862.3,325.4 862.6,324.9 862.8,324.4 863.1,323.9 863.4,323.4 863.6,322.9 863.9,322.4 864.1,321.9 864.4,321.3 864.6,320.8 864.9,320.3 865.1,319.8 865.4,319.3 865.6,318.8 865.9,318.3 866.2,317.8 866.4,317.2 866.7,316.7 866.9,316.2 867.2,315.7 867.4,315.2 867.7,314.7 867.9,314.1 868.2,313.6 868.4,313.1 868.7,312.5 869,312 869.2,311.4 869.5,310.8 869.7,310.1 870,309.5 870.2,308.8 870.5,308.2 870.7,307.5 871,306.8 871.3,306.1 871.5,305.4 871.8,304.7 872,304.1 872.3,303.4 872.5,302.7 872.8,302 873,301.3 873.3,300.6 873.5,299.9 873.8,299.2 874.1,298.5 874.3,297.7 874.6,297 874.8,296.2 875.1,295.4 875.3,294.6 875.6,293.8 875.8,293 876.1,292.1 876.4,291.3 876.6,290.4 876.9,289.6 877.1,288.7 877.4,287.9 877.6,287 877.9,286.2 878.1,285.3 878.4,284.5 878.6,283.7 878.9,282.8 879.2,282 879.4,281.2 879.7,280.5 879.9,279.7 880.2,279 880.4,278.3 880.7,277.7 880.9,277 881.2,276.4 881.4,275.8 881.7,275.1 882,274.5 882.2,273.9 882.5,273.3 882.7,272.7 883,272.1 883.2,271.5 883.5,270.9 883.7,270.3 884,269.7 884.3,269.2 884.5,268.7 884.8,268.2 885,267.8 885.3,267.4 885.5,267.2 885.8,267.1 886,267 886.3,267 886.5,267.1 886.8,267.2 887.1,267.3 887.3,267.4 887.6,267.6 887.8,267.7 888.1,267.9 888.3,268 888.6,268.2 888.8,268.3 889.1,268.4 889.4,268.5 889.6,268.6 889.9,268.5 890.1,268.4 890.4,268.2 890.6,267.8 890.9,267.3 891.1,266.7 891.4,266 891.6,265.3 891.9,264.5 892.2,263.7 892.4,262.8 892.7,262 892.9,261.1 893.2,260.3 893.4,259.4 893.7,258.6 893.9,257.7 894.2,256.9 894.5,256 894.7,255.1 895,254.2 895.2,253.3 895.5,252.3 895.7,251.4 896,250.5 896.2,249.7 896.5,248.8 896.7,248 897,247.3 897.3,246.6 897.5,246 897.8,245.5 898,244.9 898.3,244.4 898.5,243.9 898.8,243.4 899,242.9 899.3,242.4 899.5,241.9 899.8,241.4 900.1,240.9 900.3,240.4 900.6,240 900.8,239.5 901.1,239 901.3,238.6 901.6,238.1 901.8,237.7 902.1,237.3 902.4,236.9 902.6,236.5 902.9,236.1 903.1,235.7 903.4,235.3 903.6,234.9 903.9,234.6 904.1,234.2 904.4,233.8 904.6,233.5 904.9,233.2 905.2,232.9 905.4,232.7 905.7,232.4 905.9,232.2 906.2,232 906.4,231.8 906.7,231.6 906.9,231.5 907.2,231.3 907.5,231.1 907.7,230.9 908,230.8 908.2,230.6 908.5,230.5 908.7,230.3 909,230.2 909.2,230 909.5,230 909.7,229.9 910,229.9 910.3,230 910.5,230.1 910.8,230.3 911,230.5 911.3,230.8 911.5,231.1 911.8,231.3 912,231.6 912.3,231.9 912.6,232.2 912.8,232.4 913.1,232.7 913.3,232.9 913.6,233 913.8,233.2 914.1,233.3 914.3,233.5 914.6,233.6 914.8,233.7 915.1,233.8 915.4,233.8 915.6,233.9 915.9,234 916.1,234.1 916.4,234.1 916.6,234.1 916.9,234.1 917.1,234 917.4,233.9 917.6,233.6 917.9,233.3 918.2,233 918.4,232.6 918.7,232.1 918.9,231.7 919.2,231.2 919.4,230.8 919.7,230.3 919.9,229.9 920.2,229.4 920.5,229 920.7,228.7 921,228.3 921.2,228.1 921.5,227.8 921.7,227.5 922,227.3 922.2,227.1 922.5,226.8 922.7,226.6 923,226.4 923.3,226.1 923.5,225.9 923.8,225.7 924,225.5 924.3,225.2 924.5,225 924.8,224.8 925,224.5 925.3,224.2 925.6,224 925.8,223.6 926.1,223.3 926.3,223 926.6,222.6 926.8,222.3 927.1,221.9 927.3,221.6 927.6,221.2 927.8,220.8 928.1,220.4 928.4,220 928.6,219.7 928.9,219.2 929.1,218.8 929.4,218.4 929.6,217.9 929.9,217.5 930.1,217 930.4,216.5 930.6,216 930.9,215.5 931.2,215 931.4,214.4 931.7,213.9 931.9,213.4 932.2,212.9 932.4,212.4 932.7,211.9 932.9,211.3 933.2,210.8 933.5,210.3 933.7,209.8 934,209.2 934.2,208.7 934.5,208.1 934.7,207.5 935,206.9 935.2,206.4 935.5,205.8 935.7,205.2 936,204.6 936.3,204 936.5,203.4 936.8,202.8 937,202.1 937.3,201.5 937.5,200.8 937.8,200 938,199.2 938.3,198.4 938.6,197.5 938.8,196.6 939.1,195.7 939.3,194.8 939.6,193.9 939.8,193.1 940.1,192.4 940.3,191.6 940.6,190.9 940.8,190.2 941.1,189.5 941.4,188.9 941.6,188.2 941.9,187.7 942.1,187.2 942.4,186.8 942.6,186.6 942.9,186.3 943.1,186.2 943.4,186 943.7,185.9 943.9,185.9 944.2,185.8" fill="none" stroke="#0072B2" stroke-width="2.08" stroke-linejoin="round" stroke-linecap="square"/>
<g fill="#ff0000" fill-opacity="0.6" stroke="#ff0000" stroke-opacity="0.6" stroke-width="0.8"><circle cx="930" cy="221.3" r="2.5"/><circle cx="932.4" cy="223.3" r="2.5"/><circle cx="931.3" cy="226.7" r="2.5"/><circle cx="932.9" cy="230" r="2.5"/><circle cx="933.3" cy="232.7" r="2.5"/><circle cx="934.3" cy="235.1" r="2.5"/><circle cx="929.6" cy="218.3" r="2.5"/><circle cx="935.3" cy="217.3" r="2.5"/><circle cx="931.3" cy="222.7" r="2.5"/><circle cx="933.3" cy="224.7" r="2.5"/><circle cx="930.7" cy="225.3" r="2.5"/><circle cx="932" cy="228.7" r="2.5"/><circle cx="934" cy="231.3" r="2.5"/><circle cx="933.7" cy="234" r="2.5"/><circle cx="934.7" cy="236" r="2.5"/><circle cx="935.3" cy="242" r="2.5"/><circle cx="936.7" cy="244.4" r="2.5"/><circle cx="934" cy="246.7" r="2.5"/><circle cx="936.4" cy="252" r="2.5"/><circle cx="936.4" cy="256.3" r="2.5"/></g>
<g stroke="#000" stroke-width="1.11" fill="none"><path d="M91.5 542.5v4.9"/><path d="M184.5 542.5v4.9"/><path d="M277.5 542.5v4.9"/><path d="M370.5 542.5v4.9"/><path d="M464.5 542.5v4.9"/><path d="M557.5 542.5v4.9"/><path d="M650.5 542.5v4.9"/><path d="M743.5 542.5v4.9"/><path d="M836.5 542.5v4.9"/><path d="M929.5 542.5v4.9"/><path d="M79.5 468.5h-4.9"/><path d="M79.5 358.5h-4.9"/><path d="M79.5 249.5h-4.9"/><path d="M79.5 140.5h-4.9"/><path d="M79.5 30.5h-4.9"/><rect x="79.5" y="15.5" width="906.0" height="527.0"/></g>
<g><text x="90.9" y="562" text-anchor="middle">2017</text><text x="183.9" y="562" text-anchor="middle">2018</text><text x="276.9" y="562" text-anchor="middle">2019</text><text x="369.9" y="562" text-anchor="middle">2020</text><text x="463.9" y="562" text-anchor="middle">2021</text><text x="556.9" y="562" text-anchor="middle">2022</text><text x="649.9" y="562" text-anchor="middle">2023</text><text x="742.9" y="562" text-anchor="middle">2024</text><text x="835.9" y="562" text-anchor="middle">2025</text><text x="928.9" y="562" text-anchor="middle">2026</text><text x="68.0" y="473" text-anchor="end">500</text><text x="68.9" y="364" text-anchor="end">1000</text><text x="68.9" y="255" text-anchor="end">1500</text><text x="69.8" y="145" text-anchor="end">2000</text><text x="69.8" y="36" text-anchor="end">2500</text>
<text x="532.5" y="581" text-anchor="middle">ds</text>
<text transform="translate(24.6 279) rotate(-90)" text-anchor="middle">y</text>
</g>
</svg>
</body></html>
